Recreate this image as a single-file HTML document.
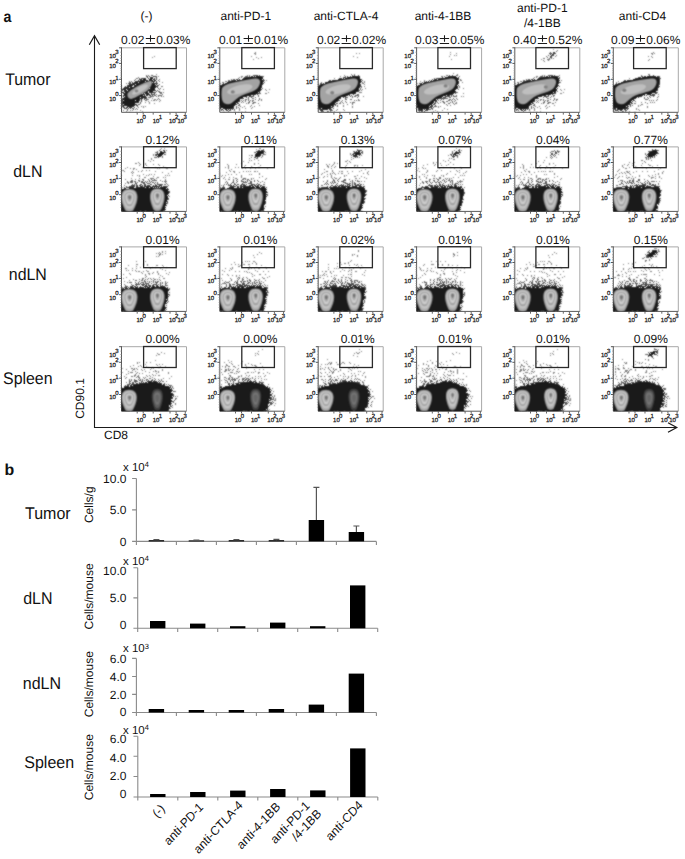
<!DOCTYPE html><html><head><meta charset="utf-8"><style>html,body{margin:0;padding:0;background:#fff;}svg{display:block}</style></head><body>
<svg width="685" height="859" viewBox="0 0 685 859" font-family='"Liberation Sans", sans-serif' text-rendering="geometricPrecision">
<defs>
<filter id="dA" x="-8" y="-8" width="81" height="81" filterUnits="userSpaceOnUse" color-interpolation-filters="sRGB">
<feGaussianBlur in="SourceAlpha" stdDeviation="1.2" result="d"/>
<feTurbulence type="fractalNoise" baseFrequency="1.7" numOctaves="2" seed="7" result="t"/>
<feColorMatrix in="t" type="matrix" values="0 0 0 0 0 0 0 0 0 0 0 0 0 0 0 1 0 0 0 0" result="n0"/>
<feComponentTransfer in="n0" result="n"><feFuncA type="table" tableValues="0.0 0.0 0.0 0.0001 0.0001 0.0003 0.0006 0.0012 0.0023 0.0042 0.0074 0.0126 0.0205 0.032 0.048 0.0693 0.0961 0.1286 0.1659 0.207 0.25 0.293 0.3341 0.3714 0.4039 0.4307 0.452 0.468 0.4795 0.4874 0.4926 0.4958 0.4977 0.4988 0.4994 0.4997 0.4999 0.4999 0.5 0.5 0.5"/></feComponentTransfer>
<feComposite in="d" in2="n" operator="arithmetic" k2="1" k3="-1" result="df"/>
<feComponentTransfer in="df" result="dots0"><feFuncA type="discrete" tableValues="0 1 1 1 1 1 1 1 1 1 1 1 1 1 1 1 1 1 1 1 1 1 1 1 1 1 1 1 1 1 1 1 1 1 1 1 1 1 1 1"/></feComponentTransfer>
<feComponentTransfer in="d" result="g"><feFuncA type="table" tableValues="0.5 0.55 0.6 0.667 0.733 0.8 0.85 0.9 0.95 0.975 1.0 1.0 1.0 1.0 1.0 1.0 1.0 1.0 1.0 1.0 1.0"/></feComponentTransfer>
<feComposite in="g" in2="dots0" operator="in" result="dots"/>
<feColorMatrix in="dots" type="matrix" values="0 0 0 0 0.1 0 0 0 0 0.1 0 0 0 0 0.1 0 0 0 1 0" result="dk"/>
<feConvolveMatrix in="dk" order="3" kernelMatrix="1 2 1 2 8 2 1 2 1" divisor="20" edgeMode="none"/>
</filter>
<filter id="dB" x="-8" y="-8" width="81" height="81" filterUnits="userSpaceOnUse" color-interpolation-filters="sRGB">
<feGaussianBlur in="SourceAlpha" stdDeviation="1.2" result="d"/>
<feTurbulence type="fractalNoise" baseFrequency="1.7" numOctaves="2" seed="13" result="t"/>
<feColorMatrix in="t" type="matrix" values="0 0 0 0 0 0 0 0 0 0 0 0 0 0 0 1 0 0 0 0" result="n0"/>
<feComponentTransfer in="n0" result="n"><feFuncA type="table" tableValues="0.0 0.0 0.0 0.0001 0.0001 0.0003 0.0006 0.0012 0.0023 0.0042 0.0074 0.0126 0.0205 0.032 0.048 0.0693 0.0961 0.1286 0.1659 0.207 0.25 0.293 0.3341 0.3714 0.4039 0.4307 0.452 0.468 0.4795 0.4874 0.4926 0.4958 0.4977 0.4988 0.4994 0.4997 0.4999 0.4999 0.5 0.5 0.5"/></feComponentTransfer>
<feComposite in="d" in2="n" operator="arithmetic" k2="1" k3="-1" result="df"/>
<feComponentTransfer in="df" result="dots0"><feFuncA type="discrete" tableValues="0 1 1 1 1 1 1 1 1 1 1 1 1 1 1 1 1 1 1 1 1 1 1 1 1 1 1 1 1 1 1 1 1 1 1 1 1 1 1 1"/></feComponentTransfer>
<feComponentTransfer in="d" result="g"><feFuncA type="table" tableValues="0.5 0.55 0.6 0.667 0.733 0.8 0.85 0.9 0.95 0.975 1.0 1.0 1.0 1.0 1.0 1.0 1.0 1.0 1.0 1.0 1.0"/></feComponentTransfer>
<feComposite in="g" in2="dots0" operator="in" result="dots"/>
<feColorMatrix in="dots" type="matrix" values="0 0 0 0 0.1 0 0 0 0 0.1 0 0 0 0 0.1 0 0 0 1 0" result="dk"/>
<feConvolveMatrix in="dk" order="3" kernelMatrix="1 2 1 2 8 2 1 2 1" divisor="20" edgeMode="none"/>
</filter>
<filter id="dC" x="-8" y="-8" width="81" height="81" filterUnits="userSpaceOnUse" color-interpolation-filters="sRGB">
<feGaussianBlur in="SourceAlpha" stdDeviation="1.2" result="d"/>
<feTurbulence type="fractalNoise" baseFrequency="1.7" numOctaves="2" seed="29" result="t"/>
<feColorMatrix in="t" type="matrix" values="0 0 0 0 0 0 0 0 0 0 0 0 0 0 0 1 0 0 0 0" result="n0"/>
<feComponentTransfer in="n0" result="n"><feFuncA type="table" tableValues="0.0 0.0 0.0 0.0001 0.0001 0.0003 0.0006 0.0012 0.0023 0.0042 0.0074 0.0126 0.0205 0.032 0.048 0.0693 0.0961 0.1286 0.1659 0.207 0.25 0.293 0.3341 0.3714 0.4039 0.4307 0.452 0.468 0.4795 0.4874 0.4926 0.4958 0.4977 0.4988 0.4994 0.4997 0.4999 0.4999 0.5 0.5 0.5"/></feComponentTransfer>
<feComposite in="d" in2="n" operator="arithmetic" k2="1" k3="-1" result="df"/>
<feComponentTransfer in="df" result="dots0"><feFuncA type="discrete" tableValues="0 1 1 1 1 1 1 1 1 1 1 1 1 1 1 1 1 1 1 1 1 1 1 1 1 1 1 1 1 1 1 1 1 1 1 1 1 1 1 1"/></feComponentTransfer>
<feComponentTransfer in="d" result="g"><feFuncA type="table" tableValues="0.5 0.55 0.6 0.667 0.733 0.8 0.85 0.9 0.95 0.975 1.0 1.0 1.0 1.0 1.0 1.0 1.0 1.0 1.0 1.0 1.0"/></feComponentTransfer>
<feComposite in="g" in2="dots0" operator="in" result="dots"/>
<feColorMatrix in="dots" type="matrix" values="0 0 0 0 0.1 0 0 0 0 0.1 0 0 0 0 0.1 0 0 0 1 0" result="dk"/>
<feConvolveMatrix in="dk" order="3" kernelMatrix="1 2 1 2 8 2 1 2 1" divisor="20" edgeMode="none"/>
</filter>
<filter id="soft" x="-8" y="-8" width="81" height="81" filterUnits="userSpaceOnUse" color-interpolation-filters="sRGB"><feConvolveMatrix order="3" kernelMatrix="1 2 1 2 6 2 1 2 1" divisor="18" edgeMode="none"/></filter>
<clipPath id="pc"><rect x="0" y="0" width="65" height="65"/></clipPath>
</defs>
<rect width="685" height="859" fill="#fff"/>
<text transform="translate(3.5,21.5) scale(1,1.12)" font-size="14.2" font-weight="bold" fill="#111">a</text>
<text transform="translate(27.8,84.7) scale(1,1.06)" font-size="15.9" text-anchor="middle" fill="#111">Tumor</text>
<text transform="translate(27.8,177.2) scale(1,1.06)" font-size="15.9" text-anchor="middle" fill="#111">dLN</text>
<text transform="translate(27.8,280.4) scale(1,1.06)" font-size="15.9" text-anchor="middle" fill="#111">ndLN</text>
<text transform="translate(27.8,383.6) scale(1,1.06)" font-size="15.9" text-anchor="middle" fill="#111">Spleen</text>
<text x="146.4" y="20" font-size="12" text-anchor="middle" fill="#111">(-)</text>
<text x="245.8" y="20" font-size="12" text-anchor="middle" fill="#111">anti-PD-1</text>
<text x="346" y="20" font-size="12" text-anchor="middle" fill="#111">anti-CTLA-4</text>
<text x="443" y="20" font-size="12" text-anchor="middle" fill="#111">anti-4-1BB</text>
<text x="642.5" y="20" font-size="12" text-anchor="middle" fill="#111">anti-CD4</text>
<text x="542.3" y="12.4" font-size="12" text-anchor="middle" fill="#111">anti-PD-1</text>
<text x="542.3" y="26.6" font-size="12" text-anchor="middle" fill="#111">/4-1BB</text>
<path d="M94.5,35.8V427.5H676.5" fill="none" stroke="#1a1a1a" stroke-width="1.1"/>
<path d="M89.3,44.8L94.5,35.8L99.7,44.8" fill="none" stroke="#1a1a1a" stroke-width="1.2"/>
<path d="M668,422.7L676.8,427.5L668,432.3" fill="none" stroke="#1a1a1a" stroke-width="1.2"/>
<text transform="translate(83.9,398.5) rotate(-90)" font-size="12" text-anchor="middle" fill="#111">CD90.1</text>
<text x="104" y="438.6" font-size="12" fill="#111">CD8</text>
<g transform="translate(121.5,47.3)">
<path d="M0,0.5H65V65" fill="none" stroke="#a8a8a8" stroke-width="1"/>
<path d="M0,0V65H65" fill="none" stroke="#5a5a5a" stroke-width="1"/>
<path d="M-2.4,0.5H0M-2.4,16.1H0M-2.4,32H0M-2.4,48.3H0" stroke="#555" stroke-width="1"/>
<path d="M-1.3,4.9H0M-1.3,8.3H0M-1.3,11.0H0M-1.3,13.4H0M-1.3,18.8H0M-1.3,21.0H0M-1.3,23.0H0M-1.3,24.9H0M-1.3,26.7H0M-1.3,28.5H0M-1.3,30.2H0M-1.3,34.7H0M-1.3,37.0H0M-1.3,39.0H0M-1.3,40.9H0M-1.3,42.7H0M-1.3,44.4H0M-1.3,46.0H0M-1.3,51H0M-1.3,53.5H0M-1.3,56H0M-1.3,58.5H0M-1.3,61H0" stroke="#999" stroke-width="0.7"/>
<path d="M15.7,65V67.3M21.7,65V67.3M31.7,65V67.3M48.5,65V67.3M54.6,65V67.3M63.8,65V67.3" stroke="#666" stroke-width="1"/>
<text x="-12.3" y="10.7" font-size="6" fill="#1a1a1a" stroke="#1a1a1a" stroke-width="0.25">10</text><text x="-6.2" y="6.3999999999999995" font-size="6" fill="#1a1a1a" stroke="#1a1a1a" stroke-width="0.25">3</text>
<text x="-12.3" y="20.5" font-size="6" fill="#1a1a1a" stroke="#1a1a1a" stroke-width="0.25">10</text><text x="-6.2" y="16.2" font-size="6" fill="#1a1a1a" stroke="#1a1a1a" stroke-width="0.25">2</text>
<text x="-12.3" y="37" font-size="6" fill="#1a1a1a" stroke="#1a1a1a" stroke-width="0.25">10</text><text x="-6.2" y="32.7" font-size="6" fill="#1a1a1a" stroke="#1a1a1a" stroke-width="0.25">1</text>
<text x="-12.3" y="53.3" font-size="6" fill="#1a1a1a" stroke="#1a1a1a" stroke-width="0.25">10</text><text x="-6.2" y="49.0" font-size="6" fill="#1a1a1a" stroke="#1a1a1a" stroke-width="0.25">0</text>
<text x="14.9" y="75.8" font-size="6" fill="#1a1a1a" stroke="#1a1a1a" stroke-width="0.25">10</text><text x="20.9" y="71.4" font-size="6" fill="#1a1a1a" stroke="#1a1a1a" stroke-width="0.25">0</text>
<text x="31.2" y="75.8" font-size="6" fill="#1a1a1a" stroke="#1a1a1a" stroke-width="0.25">10</text><text x="37.2" y="71.4" font-size="6" fill="#1a1a1a" stroke="#1a1a1a" stroke-width="0.25">1</text>
<text x="47.5" y="75.8" font-size="6" fill="#1a1a1a" stroke="#1a1a1a" stroke-width="0.25">10</text><text x="53.5" y="71.4" font-size="6" fill="#1a1a1a" stroke="#1a1a1a" stroke-width="0.25">2</text>
<text x="55.9" y="75.8" font-size="6" fill="#1a1a1a" stroke="#1a1a1a" stroke-width="0.25">10</text><text x="61.9" y="71.4" font-size="6" fill="#1a1a1a" stroke="#1a1a1a" stroke-width="0.25">3</text>
</g>
<g transform="translate(121.5,47.3)"><g clip-path="url(#pc)"><g filter="url(#dA)">
<ellipse cx="22" cy="48" rx="25" ry="15" transform="rotate(-38 22 48)" fill-opacity="0.07"/><ellipse cx="9" cy="57" rx="11" ry="7" transform="rotate(-30 9 57)" fill-opacity="0.1"/><ellipse cx="37" cy="45" rx="6" ry="9" transform="rotate(-30 37 45)" fill-opacity="0.1"/><path d="M-2,39 C3,36.5 7,34 11,32 C17,29.5 23,28 28,27 C32,26 36,25.5 37.3,29 C38.5,33 37.5,41 34.5,46 C32,49.5 28.5,51 26,52.5 C22.5,54.5 20,56.5 17.5,58 C14.5,59.8 11.5,62 8.5,62 C5,62 0,61 -2,60 Z" fill-opacity="0.1"/><path d="M-1,41.5 C3,39 7,36.5 11.6,34.5 C17,32 23,30.5 28,29.3 C31,28.5 33.5,27.8 34.8,30 C36,33 35,40 32.7,44.4 C30.5,47.5 27.5,48.8 24.8,50.3 C21.5,52.3 19.5,54.3 16.9,55.6 C14,57.2 11.5,59.5 9,59.5 C5,59.5 1,58 -1,56 Z" fill-opacity="0.33"/><ellipse cx="6" cy="58" rx="8" ry="5" transform="rotate(-20 6 58)" fill-opacity="0.08"/><ellipse cx="34" cy="11" rx="6" ry="5" fill-opacity="0.035"/><path d="M6,46.5 C8,43.5 13,40.5 18.2,37.8 C22,35.8 25.5,34.2 28.1,33.6 C30,33.3 31,34.5 30.3,36.8 C29.5,39.5 28,41.2 26.8,42.4 C24,45 21,46.3 18.2,47.7 C15,49.3 12.5,51.2 9.7,51.6 C7.5,51.8 5.5,49.5 6,46.5 Z" fill-opacity="0.2"/><ellipse cx="18.5" cy="42.3" rx="9" ry="2.6" transform="rotate(-30 18.5 42.3)" fill-opacity="0.2"/>
</g><g filter="url(#soft)">
<path d="M6,46.5 C8,43.5 13,40.5 18.2,37.8 C22,35.8 25.5,34.2 28.1,33.6 C30,33.3 31,34.5 30.3,36.8 C29.5,39.5 28,41.2 26.8,42.4 C24,45 21,46.3 18.2,47.7 C15,49.3 12.5,51.2 9.7,51.6 C7.5,51.8 5.5,49.5 6,46.5 Z" fill="#a3a3a3"/><ellipse cx="18.5" cy="42.3" rx="9" ry="2.6" transform="rotate(-30 18.5 42.3)" fill="#c2c2c2"/><ellipse cx="15" cy="43.7" rx="1.8" ry="1.4" fill="#858585"/>
</g></g>
<rect x="22.10" y="0.3" width="32.6" height="21" fill="none" stroke="#2a2a2a" stroke-width="1.3"/>
</g>
<text x="121.1" y="44.4" font-size="12" fill="#111">0.02</text>
<path d="M145.80,38.5H155.10M150.5,35.20V41.80M145.80,43.5H155.10" stroke="#1a1a1a" stroke-width="1.05" fill="none"/>
<text x="156.3" y="44.4" font-size="12" fill="#111">0.03%</text>
<g transform="translate(219.8,47.3)">
<path d="M0,0.5H65V65" fill="none" stroke="#a8a8a8" stroke-width="1"/>
<path d="M0,0V65H65" fill="none" stroke="#5a5a5a" stroke-width="1"/>
<path d="M-2.4,0.5H0M-2.4,16.1H0M-2.4,32H0M-2.4,48.3H0" stroke="#555" stroke-width="1"/>
<path d="M-1.3,4.9H0M-1.3,8.3H0M-1.3,11.0H0M-1.3,13.4H0M-1.3,18.8H0M-1.3,21.0H0M-1.3,23.0H0M-1.3,24.9H0M-1.3,26.7H0M-1.3,28.5H0M-1.3,30.2H0M-1.3,34.7H0M-1.3,37.0H0M-1.3,39.0H0M-1.3,40.9H0M-1.3,42.7H0M-1.3,44.4H0M-1.3,46.0H0M-1.3,51H0M-1.3,53.5H0M-1.3,56H0M-1.3,58.5H0M-1.3,61H0" stroke="#999" stroke-width="0.7"/>
<path d="M15.7,65V67.3M21.7,65V67.3M31.7,65V67.3M48.5,65V67.3M54.6,65V67.3M63.8,65V67.3" stroke="#666" stroke-width="1"/>
<text x="-12.3" y="10.7" font-size="6" fill="#1a1a1a" stroke="#1a1a1a" stroke-width="0.25">10</text><text x="-6.2" y="6.3999999999999995" font-size="6" fill="#1a1a1a" stroke="#1a1a1a" stroke-width="0.25">3</text>
<text x="-12.3" y="20.5" font-size="6" fill="#1a1a1a" stroke="#1a1a1a" stroke-width="0.25">10</text><text x="-6.2" y="16.2" font-size="6" fill="#1a1a1a" stroke="#1a1a1a" stroke-width="0.25">2</text>
<text x="-12.3" y="37" font-size="6" fill="#1a1a1a" stroke="#1a1a1a" stroke-width="0.25">10</text><text x="-6.2" y="32.7" font-size="6" fill="#1a1a1a" stroke="#1a1a1a" stroke-width="0.25">1</text>
<text x="-12.3" y="53.3" font-size="6" fill="#1a1a1a" stroke="#1a1a1a" stroke-width="0.25">10</text><text x="-6.2" y="49.0" font-size="6" fill="#1a1a1a" stroke="#1a1a1a" stroke-width="0.25">0</text>
<text x="14.9" y="75.8" font-size="6" fill="#1a1a1a" stroke="#1a1a1a" stroke-width="0.25">10</text><text x="20.9" y="71.4" font-size="6" fill="#1a1a1a" stroke="#1a1a1a" stroke-width="0.25">0</text>
<text x="31.2" y="75.8" font-size="6" fill="#1a1a1a" stroke="#1a1a1a" stroke-width="0.25">10</text><text x="37.2" y="71.4" font-size="6" fill="#1a1a1a" stroke="#1a1a1a" stroke-width="0.25">1</text>
<text x="47.5" y="75.8" font-size="6" fill="#1a1a1a" stroke="#1a1a1a" stroke-width="0.25">10</text><text x="53.5" y="71.4" font-size="6" fill="#1a1a1a" stroke="#1a1a1a" stroke-width="0.25">2</text>
<text x="55.9" y="75.8" font-size="6" fill="#1a1a1a" stroke="#1a1a1a" stroke-width="0.25">10</text><text x="61.9" y="71.4" font-size="6" fill="#1a1a1a" stroke="#1a1a1a" stroke-width="0.25">3</text>
</g>
<g transform="translate(219.8,47.3)"><g clip-path="url(#pc)"><g filter="url(#dB)">
<ellipse cx="24" cy="48" rx="28" ry="17" transform="rotate(-28 24 48)" fill-opacity="0.07"/><ellipse cx="10" cy="58" rx="12" ry="7" transform="rotate(-20 10 58)" fill-opacity="0.16"/><ellipse cx="34" cy="52" rx="9" ry="6" transform="rotate(-20 34 52)" fill-opacity="0.1"/><path d="M-2,37 C2,35 5,33.5 8,32.8 C12,31.5 16.5,30.8 21,30 C26,29 30,27.6 34,27 C37,26.6 42,26.3 43.5,27.5 C45.5,29.5 45.5,33.5 44.5,36.5 C43.5,40.5 42.5,44 41,46.5 C38,48.8 34,49 31,49.7 C27,50.7 24.3,52 22,53.3 C19.8,54.7 18.5,56.2 17,57.7 C14.5,60 12.5,62.5 10,63 C6,64 2,62.5 -2,61 Z" fill-opacity="0.1"/><path d="M-1,39.5 C2,37.5 5,36 8,35.1 C12,33.8 16.5,33 21.1,32.2 C26,31.2 30,29.8 34.2,29.3 C37,28.9 41,28.7 42,29.5 C43.5,31 43.5,33.5 42.5,35.8 C41.5,39.5 41,42.5 39.6,44.6 C37,46.5 34,46.8 30.6,47.5 C27,48.5 24,49.8 21.1,51.2 C19,52.5 17.5,54 16,55.5 C14,57.5 12,60 10.1,60.7 C7,61.8 3,59.5 -1,58 Z" fill-opacity="0.6"/><ellipse cx="7" cy="59" rx="8" ry="5" transform="rotate(-20 7 59)" fill-opacity="0.15"/><ellipse cx="37" cy="9" rx="7" ry="5" transform="rotate(-30 37 9)" fill-opacity="0.05"/><path d="M2,42 C2.5,38.5 8,36.3 14,35.2 C20,34 26,32.5 35,31.3 C38.5,30.8 40.5,32.3 40.3,35 C40,38 38.5,40.8 35.5,42.8 C32,44.8 27,46.3 22,48.3 C18,50 15,53.3 12,55.8 C9,57.8 4.5,57.3 3,54.3 C1.5,51 1.5,46 2,42 Z" fill-opacity="0.2"/><ellipse cx="20" cy="42" rx="13" ry="4.2" transform="rotate(-14 20 42)" fill-opacity="0.2"/>
</g><g filter="url(#soft)">
<path d="M2,42 C2.5,38.5 8,36.3 14,35.2 C20,34 26,32.5 35,31.3 C38.5,30.8 40.5,32.3 40.3,35 C40,38 38.5,40.8 35.5,42.8 C32,44.8 27,46.3 22,48.3 C18,50 15,53.3 12,55.8 C9,57.8 4.5,57.3 3,54.3 C1.5,51 1.5,46 2,42 Z" fill="#a3a3a3"/><ellipse cx="20" cy="42" rx="13" ry="4.2" transform="rotate(-14 20 42)" fill="#bfbfbf"/><ellipse cx="13" cy="44.6" rx="2.0" ry="1.7" fill="#808080"/>
</g></g>
<rect x="22.00" y="0.3" width="32.6" height="21" fill="none" stroke="#2a2a2a" stroke-width="1.3"/>
</g>
<text x="218.9" y="44.4" font-size="12" fill="#111">0.01</text>
<path d="M243.60,38.5H252.90M248.5,35.20V41.80M243.60,43.5H252.90" stroke="#1a1a1a" stroke-width="1.05" fill="none"/>
<text x="254.10000000000002" y="44.4" font-size="12" fill="#111">0.01%</text>
<g transform="translate(318.2,47.3)">
<path d="M0,0.5H65V65" fill="none" stroke="#a8a8a8" stroke-width="1"/>
<path d="M0,0V65H65" fill="none" stroke="#5a5a5a" stroke-width="1"/>
<path d="M-2.4,0.5H0M-2.4,16.1H0M-2.4,32H0M-2.4,48.3H0" stroke="#555" stroke-width="1"/>
<path d="M-1.3,4.9H0M-1.3,8.3H0M-1.3,11.0H0M-1.3,13.4H0M-1.3,18.8H0M-1.3,21.0H0M-1.3,23.0H0M-1.3,24.9H0M-1.3,26.7H0M-1.3,28.5H0M-1.3,30.2H0M-1.3,34.7H0M-1.3,37.0H0M-1.3,39.0H0M-1.3,40.9H0M-1.3,42.7H0M-1.3,44.4H0M-1.3,46.0H0M-1.3,51H0M-1.3,53.5H0M-1.3,56H0M-1.3,58.5H0M-1.3,61H0" stroke="#999" stroke-width="0.7"/>
<path d="M15.7,65V67.3M21.7,65V67.3M31.7,65V67.3M48.5,65V67.3M54.6,65V67.3M63.8,65V67.3" stroke="#666" stroke-width="1"/>
<text x="-12.3" y="10.7" font-size="6" fill="#1a1a1a" stroke="#1a1a1a" stroke-width="0.25">10</text><text x="-6.2" y="6.3999999999999995" font-size="6" fill="#1a1a1a" stroke="#1a1a1a" stroke-width="0.25">3</text>
<text x="-12.3" y="20.5" font-size="6" fill="#1a1a1a" stroke="#1a1a1a" stroke-width="0.25">10</text><text x="-6.2" y="16.2" font-size="6" fill="#1a1a1a" stroke="#1a1a1a" stroke-width="0.25">2</text>
<text x="-12.3" y="37" font-size="6" fill="#1a1a1a" stroke="#1a1a1a" stroke-width="0.25">10</text><text x="-6.2" y="32.7" font-size="6" fill="#1a1a1a" stroke="#1a1a1a" stroke-width="0.25">1</text>
<text x="-12.3" y="53.3" font-size="6" fill="#1a1a1a" stroke="#1a1a1a" stroke-width="0.25">10</text><text x="-6.2" y="49.0" font-size="6" fill="#1a1a1a" stroke="#1a1a1a" stroke-width="0.25">0</text>
<text x="14.9" y="75.8" font-size="6" fill="#1a1a1a" stroke="#1a1a1a" stroke-width="0.25">10</text><text x="20.9" y="71.4" font-size="6" fill="#1a1a1a" stroke="#1a1a1a" stroke-width="0.25">0</text>
<text x="31.2" y="75.8" font-size="6" fill="#1a1a1a" stroke="#1a1a1a" stroke-width="0.25">10</text><text x="37.2" y="71.4" font-size="6" fill="#1a1a1a" stroke="#1a1a1a" stroke-width="0.25">1</text>
<text x="47.5" y="75.8" font-size="6" fill="#1a1a1a" stroke="#1a1a1a" stroke-width="0.25">10</text><text x="53.5" y="71.4" font-size="6" fill="#1a1a1a" stroke="#1a1a1a" stroke-width="0.25">2</text>
<text x="55.9" y="75.8" font-size="6" fill="#1a1a1a" stroke="#1a1a1a" stroke-width="0.25">10</text><text x="61.9" y="71.4" font-size="6" fill="#1a1a1a" stroke="#1a1a1a" stroke-width="0.25">3</text>
</g>
<g transform="translate(318.2,47.3)"><g clip-path="url(#pc)"><g filter="url(#dC)">
<ellipse cx="24" cy="48" rx="28" ry="17" transform="rotate(-28 24 48)" fill-opacity="0.07"/><ellipse cx="10" cy="58" rx="12" ry="7" transform="rotate(-20 10 58)" fill-opacity="0.16"/><ellipse cx="33.5" cy="52" rx="9" ry="6" transform="rotate(-20 33.5 52)" fill-opacity="0.1"/><path d="M-2,37 C2,35 5,33.5 8,32.8 C12,31.5 16.5,30.8 21,30 C26,29 30,27.6 34,27 C37,26.6 41.5,26.3 43.0,27.5 C45.0,29.5 45.0,33.5 44.0,36.5 C43.0,40.5 42.0,44 40.5,46.5 C37.5,48.8 33.5,49 31,49.7 C27,50.7 24.3,52 22,53.3 C19.8,54.7 18.5,56.2 17,57.7 C14.5,60 12.5,62.5 10,63 C6,64 2,62.5 -2,61 Z" fill-opacity="0.1"/><path d="M-1,39.5 C2,37.5 5,36 8,35.1 C12,33.8 16.5,33 21.1,32.2 C26,31.2 30,29.8 34.2,29.3 C37,28.9 40.5,28.7 41.5,29.5 C43.0,31 43.0,33.5 42.0,35.8 C41.0,39.5 40.5,42.5 39.1,44.6 C36.5,46.5 33.5,46.8 30.6,47.5 C27,48.5 24,49.8 21.1,51.2 C19,52.5 17.5,54 16,55.5 C14,57.5 12,60 10.1,60.7 C7,61.8 3,59.5 -1,58 Z" fill-opacity="0.6"/><ellipse cx="7" cy="59" rx="8" ry="5" transform="rotate(-20 7 59)" fill-opacity="0.15"/><ellipse cx="37" cy="9" rx="7" ry="5" transform="rotate(-30 37 9)" fill-opacity="0.05"/><path d="M2,42 C2.5,38.5 8,36.3 14,35.2 C20,34 26,32.5 34.5,31.3 C38.0,30.8 40.0,32.3 39.8,35 C39.5,38 38.0,40.8 35.0,42.8 C31.5,44.8 27,46.3 22,48.3 C18,50 15,53.3 12,55.8 C9,57.8 4.5,57.3 3,54.3 C1.5,51 1.5,46 2,42 Z" fill-opacity="0.2"/><ellipse cx="20" cy="42" rx="13" ry="4.2" transform="rotate(-14 20 42)" fill-opacity="0.2"/>
</g><g filter="url(#soft)">
<path d="M2,42 C2.5,38.5 8,36.3 14,35.2 C20,34 26,32.5 34.5,31.3 C38.0,30.8 40.0,32.3 39.8,35 C39.5,38 38.0,40.8 35.0,42.8 C31.5,44.8 27,46.3 22,48.3 C18,50 15,53.3 12,55.8 C9,57.8 4.5,57.3 3,54.3 C1.5,51 1.5,46 2,42 Z" fill="#a3a3a3"/><ellipse cx="20" cy="42" rx="13" ry="4.2" transform="rotate(-14 20 42)" fill="#bfbfbf"/><ellipse cx="14" cy="45.5" rx="2.0" ry="1.7" fill="#808080"/>
</g></g>
<rect x="21.60" y="0.3" width="32.6" height="21" fill="none" stroke="#2a2a2a" stroke-width="1.3"/>
</g>
<text x="316.9" y="44.4" font-size="12" fill="#111">0.02</text>
<path d="M341.60,38.5H350.90M346.5,35.20V41.80M341.60,43.5H350.90" stroke="#1a1a1a" stroke-width="1.05" fill="none"/>
<text x="352.09999999999997" y="44.4" font-size="12" fill="#111">0.02%</text>
<g transform="translate(416.6,47.3)">
<path d="M0,0.5H65V65" fill="none" stroke="#a8a8a8" stroke-width="1"/>
<path d="M0,0V65H65" fill="none" stroke="#5a5a5a" stroke-width="1"/>
<path d="M-2.4,0.5H0M-2.4,16.1H0M-2.4,32H0M-2.4,48.3H0" stroke="#555" stroke-width="1"/>
<path d="M-1.3,4.9H0M-1.3,8.3H0M-1.3,11.0H0M-1.3,13.4H0M-1.3,18.8H0M-1.3,21.0H0M-1.3,23.0H0M-1.3,24.9H0M-1.3,26.7H0M-1.3,28.5H0M-1.3,30.2H0M-1.3,34.7H0M-1.3,37.0H0M-1.3,39.0H0M-1.3,40.9H0M-1.3,42.7H0M-1.3,44.4H0M-1.3,46.0H0M-1.3,51H0M-1.3,53.5H0M-1.3,56H0M-1.3,58.5H0M-1.3,61H0" stroke="#999" stroke-width="0.7"/>
<path d="M15.7,65V67.3M21.7,65V67.3M31.7,65V67.3M48.5,65V67.3M54.6,65V67.3M63.8,65V67.3" stroke="#666" stroke-width="1"/>
<text x="-12.3" y="10.7" font-size="6" fill="#1a1a1a" stroke="#1a1a1a" stroke-width="0.25">10</text><text x="-6.2" y="6.3999999999999995" font-size="6" fill="#1a1a1a" stroke="#1a1a1a" stroke-width="0.25">3</text>
<text x="-12.3" y="20.5" font-size="6" fill="#1a1a1a" stroke="#1a1a1a" stroke-width="0.25">10</text><text x="-6.2" y="16.2" font-size="6" fill="#1a1a1a" stroke="#1a1a1a" stroke-width="0.25">2</text>
<text x="-12.3" y="37" font-size="6" fill="#1a1a1a" stroke="#1a1a1a" stroke-width="0.25">10</text><text x="-6.2" y="32.7" font-size="6" fill="#1a1a1a" stroke="#1a1a1a" stroke-width="0.25">1</text>
<text x="-12.3" y="53.3" font-size="6" fill="#1a1a1a" stroke="#1a1a1a" stroke-width="0.25">10</text><text x="-6.2" y="49.0" font-size="6" fill="#1a1a1a" stroke="#1a1a1a" stroke-width="0.25">0</text>
<text x="14.9" y="75.8" font-size="6" fill="#1a1a1a" stroke="#1a1a1a" stroke-width="0.25">10</text><text x="20.9" y="71.4" font-size="6" fill="#1a1a1a" stroke="#1a1a1a" stroke-width="0.25">0</text>
<text x="31.2" y="75.8" font-size="6" fill="#1a1a1a" stroke="#1a1a1a" stroke-width="0.25">10</text><text x="37.2" y="71.4" font-size="6" fill="#1a1a1a" stroke="#1a1a1a" stroke-width="0.25">1</text>
<text x="47.5" y="75.8" font-size="6" fill="#1a1a1a" stroke="#1a1a1a" stroke-width="0.25">10</text><text x="53.5" y="71.4" font-size="6" fill="#1a1a1a" stroke="#1a1a1a" stroke-width="0.25">2</text>
<text x="55.9" y="75.8" font-size="6" fill="#1a1a1a" stroke="#1a1a1a" stroke-width="0.25">10</text><text x="61.9" y="71.4" font-size="6" fill="#1a1a1a" stroke="#1a1a1a" stroke-width="0.25">3</text>
</g>
<g transform="translate(416.6,47.3)"><g clip-path="url(#pc)"><g filter="url(#dA)">
<ellipse cx="24" cy="48" rx="28" ry="17" transform="rotate(-28 24 48)" fill-opacity="0.07"/><ellipse cx="10" cy="58" rx="12" ry="7" transform="rotate(-20 10 58)" fill-opacity="0.16"/><ellipse cx="33" cy="52" rx="9" ry="6" transform="rotate(-20 33 52)" fill-opacity="0.1"/><path d="M-2,37 C2,35 5,33.5 8,32.8 C12,31.5 16.5,30.8 21,30 C26,29 30,27.6 34,27 C37,26.6 41,26.3 42.5,27.5 C44.5,29.5 44.5,33.5 43.5,36.5 C42.5,40.5 41.5,44 40,46.5 C37,48.8 33,49 31,49.7 C27,50.7 24.3,52 22,53.3 C19.8,54.7 18.5,56.2 17,57.7 C14.5,60 12.5,62.5 10,63 C6,64 2,62.5 -2,61 Z" fill-opacity="0.1"/><path d="M-1,39.5 C2,37.5 5,36 8,35.1 C12,33.8 16.5,33 21.1,32.2 C26,31.2 30,29.8 34.2,29.3 C37,28.9 40,28.7 41,29.5 C42.5,31 42.5,33.5 41.5,35.8 C40.5,39.5 40,42.5 38.6,44.6 C36,46.5 33,46.8 30.6,47.5 C27,48.5 24,49.8 21.1,51.2 C19,52.5 17.5,54 16,55.5 C14,57.5 12,60 10.1,60.7 C7,61.8 3,59.5 -1,58 Z" fill-opacity="0.6"/><ellipse cx="7" cy="59" rx="8" ry="5" transform="rotate(-20 7 59)" fill-opacity="0.15"/><ellipse cx="37" cy="9" rx="7" ry="5" transform="rotate(-30 37 9)" fill-opacity="0.08"/><path d="M2,42 C2.5,38.5 8,36.3 14,35.2 C20,34 26,32.5 34,31.3 C37.5,30.8 39.5,32.3 39.3,35 C39,38 37.5,40.8 34.5,42.8 C31,44.8 27,46.3 22,48.3 C18,50 15,53.3 12,55.8 C9,57.8 4.5,57.3 3,54.3 C1.5,51 1.5,46 2,42 Z" fill-opacity="0.2"/><ellipse cx="20" cy="42" rx="13" ry="4.2" transform="rotate(-14 20 42)" fill-opacity="0.2"/>
</g><g filter="url(#soft)">
<path d="M2,42 C2.5,38.5 8,36.3 14,35.2 C20,34 26,32.5 34,31.3 C37.5,30.8 39.5,32.3 39.3,35 C39,38 37.5,40.8 34.5,42.8 C31,44.8 27,46.3 22,48.3 C18,50 15,53.3 12,55.8 C9,57.8 4.5,57.3 3,54.3 C1.5,51 1.5,46 2,42 Z" fill="#a3a3a3"/><ellipse cx="20" cy="42" rx="13" ry="4.2" transform="rotate(-14 20 42)" fill="#bfbfbf"/><ellipse cx="29" cy="38.6" rx="2.0" ry="1.7" fill="#808080"/>
</g></g>
<rect x="21.30" y="0.3" width="32.6" height="21" fill="none" stroke="#2a2a2a" stroke-width="1.3"/>
</g>
<text x="415.1" y="44.4" font-size="12" fill="#111">0.03</text>
<path d="M439.80,38.5H449.10M444.5,35.20V41.80M439.80,43.5H449.10" stroke="#1a1a1a" stroke-width="1.05" fill="none"/>
<text x="450.3" y="44.4" font-size="12" fill="#111">0.05%</text>
<g transform="translate(514.8,47.3)">
<path d="M0,0.5H65V65" fill="none" stroke="#a8a8a8" stroke-width="1"/>
<path d="M0,0V65H65" fill="none" stroke="#5a5a5a" stroke-width="1"/>
<path d="M-2.4,0.5H0M-2.4,16.1H0M-2.4,32H0M-2.4,48.3H0" stroke="#555" stroke-width="1"/>
<path d="M-1.3,4.9H0M-1.3,8.3H0M-1.3,11.0H0M-1.3,13.4H0M-1.3,18.8H0M-1.3,21.0H0M-1.3,23.0H0M-1.3,24.9H0M-1.3,26.7H0M-1.3,28.5H0M-1.3,30.2H0M-1.3,34.7H0M-1.3,37.0H0M-1.3,39.0H0M-1.3,40.9H0M-1.3,42.7H0M-1.3,44.4H0M-1.3,46.0H0M-1.3,51H0M-1.3,53.5H0M-1.3,56H0M-1.3,58.5H0M-1.3,61H0" stroke="#999" stroke-width="0.7"/>
<path d="M15.7,65V67.3M21.7,65V67.3M31.7,65V67.3M48.5,65V67.3M54.6,65V67.3M63.8,65V67.3" stroke="#666" stroke-width="1"/>
<text x="-12.3" y="10.7" font-size="6" fill="#1a1a1a" stroke="#1a1a1a" stroke-width="0.25">10</text><text x="-6.2" y="6.3999999999999995" font-size="6" fill="#1a1a1a" stroke="#1a1a1a" stroke-width="0.25">3</text>
<text x="-12.3" y="20.5" font-size="6" fill="#1a1a1a" stroke="#1a1a1a" stroke-width="0.25">10</text><text x="-6.2" y="16.2" font-size="6" fill="#1a1a1a" stroke="#1a1a1a" stroke-width="0.25">2</text>
<text x="-12.3" y="37" font-size="6" fill="#1a1a1a" stroke="#1a1a1a" stroke-width="0.25">10</text><text x="-6.2" y="32.7" font-size="6" fill="#1a1a1a" stroke="#1a1a1a" stroke-width="0.25">1</text>
<text x="-12.3" y="53.3" font-size="6" fill="#1a1a1a" stroke="#1a1a1a" stroke-width="0.25">10</text><text x="-6.2" y="49.0" font-size="6" fill="#1a1a1a" stroke="#1a1a1a" stroke-width="0.25">0</text>
<text x="14.9" y="75.8" font-size="6" fill="#1a1a1a" stroke="#1a1a1a" stroke-width="0.25">10</text><text x="20.9" y="71.4" font-size="6" fill="#1a1a1a" stroke="#1a1a1a" stroke-width="0.25">0</text>
<text x="31.2" y="75.8" font-size="6" fill="#1a1a1a" stroke="#1a1a1a" stroke-width="0.25">10</text><text x="37.2" y="71.4" font-size="6" fill="#1a1a1a" stroke="#1a1a1a" stroke-width="0.25">1</text>
<text x="47.5" y="75.8" font-size="6" fill="#1a1a1a" stroke="#1a1a1a" stroke-width="0.25">10</text><text x="53.5" y="71.4" font-size="6" fill="#1a1a1a" stroke="#1a1a1a" stroke-width="0.25">2</text>
<text x="55.9" y="75.8" font-size="6" fill="#1a1a1a" stroke="#1a1a1a" stroke-width="0.25">10</text><text x="61.9" y="71.4" font-size="6" fill="#1a1a1a" stroke="#1a1a1a" stroke-width="0.25">3</text>
</g>
<g transform="translate(514.8,47.3)"><g clip-path="url(#pc)"><g filter="url(#dB)">
<ellipse cx="24" cy="48" rx="28" ry="17" transform="rotate(-28 24 48)" fill-opacity="0.07"/><ellipse cx="10" cy="58" rx="12" ry="7" transform="rotate(-20 10 58)" fill-opacity="0.16"/><ellipse cx="35" cy="52" rx="9" ry="6" transform="rotate(-20 35 52)" fill-opacity="0.1"/><path d="M-2,37 C2,35 5,33.5 8,32.8 C12,31.5 16.5,30.8 21,30 C26,29 30,27.6 34,27 C37,26.6 43,26.3 44.5,27.5 C46.5,29.5 46.5,33.5 45.5,36.5 C44.5,40.5 43.5,44 42,46.5 C39,48.8 35,49 31,49.7 C27,50.7 24.3,52 22,53.3 C19.8,54.7 18.5,56.2 17,57.7 C14.5,60 12.5,62.5 10,63 C6,64 2,62.5 -2,61 Z" fill-opacity="0.1"/><path d="M-1,39.5 C2,37.5 5,36 8,35.1 C12,33.8 16.5,33 21.1,32.2 C26,31.2 30,29.8 34.2,29.3 C37,28.9 42,28.7 43,29.5 C44.5,31 44.5,33.5 43.5,35.8 C42.5,39.5 42,42.5 40.6,44.6 C38,46.5 35,46.8 30.6,47.5 C27,48.5 24,49.8 21.1,51.2 C19,52.5 17.5,54 16,55.5 C14,57.5 12,60 10.1,60.7 C7,61.8 3,59.5 -1,58 Z" fill-opacity="0.6"/><ellipse cx="7" cy="59" rx="8" ry="5" transform="rotate(-20 7 59)" fill-opacity="0.15"/><path d="M26,14 C30,8 37,3 43,2.5 C46,4 42,9 37,12 C33,14.5 29,16 26,14 Z" fill-opacity="0.14"/><ellipse cx="37.5" cy="7" rx="5" ry="2.6" transform="rotate(-35 37.5 7)" fill-opacity="0.2"/><path d="M2,42 C2.5,38.5 8,36.3 14,35.2 C20,34 26,32.5 36,31.3 C39.5,30.8 41.5,32.3 41.3,35 C41,38 39.5,40.8 36.5,42.8 C33,44.8 27,46.3 22,48.3 C18,50 15,53.3 12,55.8 C9,57.8 4.5,57.3 3,54.3 C1.5,51 1.5,46 2,42 Z" fill-opacity="0.2"/><ellipse cx="20" cy="42" rx="13" ry="4.2" transform="rotate(-14 20 42)" fill-opacity="0.2"/>
</g><g filter="url(#soft)">
<path d="M2,42 C2.5,38.5 8,36.3 14,35.2 C20,34 26,32.5 36,31.3 C39.5,30.8 41.5,32.3 41.3,35 C41,38 39.5,40.8 36.5,42.8 C33,44.8 27,46.3 22,48.3 C18,50 15,53.3 12,55.8 C9,57.8 4.5,57.3 3,54.3 C1.5,51 1.5,46 2,42 Z" fill="#a3a3a3"/><ellipse cx="20" cy="42" rx="13" ry="4.2" transform="rotate(-14 20 42)" fill="#bfbfbf"/><ellipse cx="31" cy="39.7" rx="2.0" ry="1.7" fill="#808080"/>
</g></g>
<rect x="21.10" y="0.3" width="32.6" height="21" fill="none" stroke="#2a2a2a" stroke-width="1.3"/>
</g>
<text x="513.1" y="44.4" font-size="12" fill="#111">0.40</text>
<path d="M537.80,38.5H547.10M542.5,35.20V41.80M537.80,43.5H547.10" stroke="#1a1a1a" stroke-width="1.05" fill="none"/>
<text x="548.3000000000001" y="44.4" font-size="12" fill="#111">0.52%</text>
<g transform="translate(613.3,47.3)">
<path d="M0,0.5H65V65" fill="none" stroke="#a8a8a8" stroke-width="1"/>
<path d="M0,0V65H65" fill="none" stroke="#5a5a5a" stroke-width="1"/>
<path d="M-2.4,0.5H0M-2.4,16.1H0M-2.4,32H0M-2.4,48.3H0" stroke="#555" stroke-width="1"/>
<path d="M-1.3,4.9H0M-1.3,8.3H0M-1.3,11.0H0M-1.3,13.4H0M-1.3,18.8H0M-1.3,21.0H0M-1.3,23.0H0M-1.3,24.9H0M-1.3,26.7H0M-1.3,28.5H0M-1.3,30.2H0M-1.3,34.7H0M-1.3,37.0H0M-1.3,39.0H0M-1.3,40.9H0M-1.3,42.7H0M-1.3,44.4H0M-1.3,46.0H0M-1.3,51H0M-1.3,53.5H0M-1.3,56H0M-1.3,58.5H0M-1.3,61H0" stroke="#999" stroke-width="0.7"/>
<path d="M15.7,65V67.3M21.7,65V67.3M31.7,65V67.3M48.5,65V67.3M54.6,65V67.3M63.8,65V67.3" stroke="#666" stroke-width="1"/>
<text x="-12.3" y="10.7" font-size="6" fill="#1a1a1a" stroke="#1a1a1a" stroke-width="0.25">10</text><text x="-6.2" y="6.3999999999999995" font-size="6" fill="#1a1a1a" stroke="#1a1a1a" stroke-width="0.25">3</text>
<text x="-12.3" y="20.5" font-size="6" fill="#1a1a1a" stroke="#1a1a1a" stroke-width="0.25">10</text><text x="-6.2" y="16.2" font-size="6" fill="#1a1a1a" stroke="#1a1a1a" stroke-width="0.25">2</text>
<text x="-12.3" y="37" font-size="6" fill="#1a1a1a" stroke="#1a1a1a" stroke-width="0.25">10</text><text x="-6.2" y="32.7" font-size="6" fill="#1a1a1a" stroke="#1a1a1a" stroke-width="0.25">1</text>
<text x="-12.3" y="53.3" font-size="6" fill="#1a1a1a" stroke="#1a1a1a" stroke-width="0.25">10</text><text x="-6.2" y="49.0" font-size="6" fill="#1a1a1a" stroke="#1a1a1a" stroke-width="0.25">0</text>
<text x="14.9" y="75.8" font-size="6" fill="#1a1a1a" stroke="#1a1a1a" stroke-width="0.25">10</text><text x="20.9" y="71.4" font-size="6" fill="#1a1a1a" stroke="#1a1a1a" stroke-width="0.25">0</text>
<text x="31.2" y="75.8" font-size="6" fill="#1a1a1a" stroke="#1a1a1a" stroke-width="0.25">10</text><text x="37.2" y="71.4" font-size="6" fill="#1a1a1a" stroke="#1a1a1a" stroke-width="0.25">1</text>
<text x="47.5" y="75.8" font-size="6" fill="#1a1a1a" stroke="#1a1a1a" stroke-width="0.25">10</text><text x="53.5" y="71.4" font-size="6" fill="#1a1a1a" stroke="#1a1a1a" stroke-width="0.25">2</text>
<text x="55.9" y="75.8" font-size="6" fill="#1a1a1a" stroke="#1a1a1a" stroke-width="0.25">10</text><text x="61.9" y="71.4" font-size="6" fill="#1a1a1a" stroke="#1a1a1a" stroke-width="0.25">3</text>
</g>
<g transform="translate(613.3,47.3)"><g clip-path="url(#pc)"><g filter="url(#dC)">
<ellipse cx="24" cy="48" rx="28" ry="17" transform="rotate(-28 24 48)" fill-opacity="0.07"/><ellipse cx="10" cy="58" rx="12" ry="7" transform="rotate(-20 10 58)" fill-opacity="0.16"/><ellipse cx="37" cy="52" rx="9" ry="6" transform="rotate(-20 37 52)" fill-opacity="0.1"/><path d="M-2,37 C2,35 5,33.5 8,32.8 C12,31.5 16.5,30.8 21,30 C26,29 30,27.6 34,27 C37,26.6 45,26.3 46.5,27.5 C48.5,29.5 48.5,33.5 47.5,36.5 C46.5,40.5 45.5,44 44,46.5 C41,48.8 37,49 31,49.7 C27,50.7 24.3,52 22,53.3 C19.8,54.7 18.5,56.2 17,57.7 C14.5,60 12.5,62.5 10,63 C6,64 2,62.5 -2,61 Z" fill-opacity="0.1"/><path d="M-1,39.5 C2,37.5 5,36 8,35.1 C12,33.8 16.5,33 21.1,32.2 C26,31.2 30,29.8 34.2,29.3 C37,28.9 44,28.7 45,29.5 C46.5,31 46.5,33.5 45.5,35.8 C44.5,39.5 44,42.5 42.6,44.6 C40,46.5 37,46.8 30.6,47.5 C27,48.5 24,49.8 21.1,51.2 C19,52.5 17.5,54 16,55.5 C14,57.5 12,60 10.1,60.7 C7,61.8 3,59.5 -1,58 Z" fill-opacity="0.6"/><ellipse cx="7" cy="59" rx="8" ry="5" transform="rotate(-20 7 59)" fill-opacity="0.15"/><ellipse cx="37" cy="9" rx="7" ry="5" transform="rotate(-30 37 9)" fill-opacity="0.08"/><path d="M2,42 C2.5,38.5 8,36.3 14,35.2 C20,34 26,32.5 38,31.3 C41.5,30.8 43.5,32.3 43.3,35 C43,38 41.5,40.8 38.5,42.8 C35,44.8 27,46.3 22,48.3 C18,50 15,53.3 12,55.8 C9,57.8 4.5,57.3 3,54.3 C1.5,51 1.5,46 2,42 Z" fill-opacity="0.2"/><ellipse cx="20" cy="42" rx="13" ry="4.2" transform="rotate(-14 20 42)" fill-opacity="0.2"/>
</g><g filter="url(#soft)">
<path d="M2,42 C2.5,38.5 8,36.3 14,35.2 C20,34 26,32.5 38,31.3 C41.5,30.8 43.5,32.3 43.3,35 C43,38 41.5,40.8 38.5,42.8 C35,44.8 27,46.3 22,48.3 C18,50 15,53.3 12,55.8 C9,57.8 4.5,57.3 3,54.3 C1.5,51 1.5,46 2,42 Z" fill="#a3a3a3"/><ellipse cx="20" cy="42" rx="13" ry="4.2" transform="rotate(-14 20 42)" fill="#bfbfbf"/><ellipse cx="11" cy="43" rx="2.0" ry="1.7" fill="#808080"/>
</g></g>
<rect x="20.30" y="0.3" width="32.6" height="21" fill="none" stroke="#2a2a2a" stroke-width="1.3"/>
</g>
<text x="611.1" y="44.4" font-size="12" fill="#111">0.09</text>
<path d="M635.80,38.5H645.10M640.5,35.20V41.80M635.80,43.5H645.10" stroke="#1a1a1a" stroke-width="1.05" fill="none"/>
<text x="646.3000000000001" y="44.4" font-size="12" fill="#111">0.06%</text>
<g transform="translate(121.5,146.4)">
<path d="M0,0.5H65V65" fill="none" stroke="#a8a8a8" stroke-width="1"/>
<path d="M0,0V65H65" fill="none" stroke="#5a5a5a" stroke-width="1"/>
<path d="M-2.4,0.5H0M-2.4,16.1H0M-2.4,32H0M-2.4,48.3H0" stroke="#555" stroke-width="1"/>
<path d="M-1.3,4.9H0M-1.3,8.3H0M-1.3,11.0H0M-1.3,13.4H0M-1.3,18.8H0M-1.3,21.0H0M-1.3,23.0H0M-1.3,24.9H0M-1.3,26.7H0M-1.3,28.5H0M-1.3,30.2H0M-1.3,34.7H0M-1.3,37.0H0M-1.3,39.0H0M-1.3,40.9H0M-1.3,42.7H0M-1.3,44.4H0M-1.3,46.0H0M-1.3,51H0M-1.3,53.5H0M-1.3,56H0M-1.3,58.5H0M-1.3,61H0" stroke="#999" stroke-width="0.7"/>
<path d="M15.7,65V67.3M21.7,65V67.3M31.7,65V67.3M48.5,65V67.3M54.6,65V67.3M63.8,65V67.3" stroke="#666" stroke-width="1"/>
<text x="-12.3" y="10.7" font-size="6" fill="#1a1a1a" stroke="#1a1a1a" stroke-width="0.25">10</text><text x="-6.2" y="6.3999999999999995" font-size="6" fill="#1a1a1a" stroke="#1a1a1a" stroke-width="0.25">3</text>
<text x="-12.3" y="20.5" font-size="6" fill="#1a1a1a" stroke="#1a1a1a" stroke-width="0.25">10</text><text x="-6.2" y="16.2" font-size="6" fill="#1a1a1a" stroke="#1a1a1a" stroke-width="0.25">2</text>
<text x="-12.3" y="37" font-size="6" fill="#1a1a1a" stroke="#1a1a1a" stroke-width="0.25">10</text><text x="-6.2" y="32.7" font-size="6" fill="#1a1a1a" stroke="#1a1a1a" stroke-width="0.25">1</text>
<text x="-12.3" y="53.3" font-size="6" fill="#1a1a1a" stroke="#1a1a1a" stroke-width="0.25">10</text><text x="-6.2" y="49.0" font-size="6" fill="#1a1a1a" stroke="#1a1a1a" stroke-width="0.25">0</text>
<text x="14.9" y="75.8" font-size="6" fill="#1a1a1a" stroke="#1a1a1a" stroke-width="0.25">10</text><text x="20.9" y="71.4" font-size="6" fill="#1a1a1a" stroke="#1a1a1a" stroke-width="0.25">0</text>
<text x="31.2" y="75.8" font-size="6" fill="#1a1a1a" stroke="#1a1a1a" stroke-width="0.25">10</text><text x="37.2" y="71.4" font-size="6" fill="#1a1a1a" stroke="#1a1a1a" stroke-width="0.25">1</text>
<text x="47.5" y="75.8" font-size="6" fill="#1a1a1a" stroke="#1a1a1a" stroke-width="0.25">10</text><text x="53.5" y="71.4" font-size="6" fill="#1a1a1a" stroke="#1a1a1a" stroke-width="0.25">2</text>
<text x="55.9" y="75.8" font-size="6" fill="#1a1a1a" stroke="#1a1a1a" stroke-width="0.25">10</text><text x="61.9" y="71.4" font-size="6" fill="#1a1a1a" stroke="#1a1a1a" stroke-width="0.25">3</text>
</g>
<g transform="translate(121.5,146.4)"><g clip-path="url(#pc)"><g filter="url(#dB)">
<ellipse cx="25" cy="28" rx="26" ry="14" fill-opacity="0.065"/><path d="M0,41 C4,34 14,32 25,32 C36,32 45,34 49,41 Z" fill-opacity="0.15"/><path d="M0,42.5 C6,38.5 18,38 28,38 C38,38 45,38.5 48.5,41.5 L48.5,42.5 Z" fill-opacity="0.18"/><path d="M-2,42.5 C10,41.5 30,41 41,41 C45,41 47.5,41.5 47.5,44 C47.5,50 45,58 43.5,66 L-2,66 Z" fill-opacity="0.6"/><ellipse cx="37.5" cy="8.8" rx="10" ry="5" transform="rotate(-32 37.5 8.8)" fill-opacity="0.119"/><ellipse cx="39.3" cy="7.2" rx="5.6" ry="2.6" transform="rotate(-32 39.3 7.2)" fill-opacity="0.468"/><path d="M7.8,42.6 C18.44,42.6 17.68,54.2 11.6,64.41 C9.32,66.03 6.28,66.03 4.0,64.41 C-2.08,54.2 -2.84,42.6 7.8,42.6 Z" fill-opacity="0.2"/><path d="M7.84,43.39 C17.42,43.39 16.73,53.83 11.26,63.02 C9.21,64.48 6.47,64.48 4.42,63.02 C-1.05,53.83 -1.74,43.39 7.84,43.39 Z" fill-opacity="0.2"/>
</g><g filter="url(#soft)">
<path d="M7.8,42.6 C18.44,42.6 17.68,54.2 11.6,64.41 C9.32,66.03 6.28,66.03 4.0,64.41 C-2.08,54.2 -2.84,42.6 7.8,42.6 Z" fill="#8f8f8f"/><path d="M7.84,43.39 C17.42,43.39 16.73,53.83 11.26,63.02 C9.21,64.48 6.47,64.48 4.42,63.02 C-1.05,53.83 -1.74,43.39 7.84,43.39 Z" fill="#b2b2b2"/><path d="M7.89,44.42 C16.08,44.42 15.5,53.35 10.82,61.21 C9.06,62.46 6.72,62.46 4.97,61.21 C0.28,53.35 -0.3,44.42 7.89,44.42 Z" fill="#c4c4c4"/><path d="M7.95,45.6 C14.55,45.6 14.08,52.79 10.31,59.12 C8.89,60.13 7.01,60.13 5.6,59.12 C1.83,52.79 1.36,45.6 7.95,45.6 Z" fill="#a3a3a3"/><path d="M8.0,46.63 C13.22,46.63 12.85,52.31 9.87,57.31 C8.75,58.11 7.26,58.11 6.14,57.31 C3.16,52.31 2.79,46.63 8.0,46.63 Z" fill="#cccccc"/><path d="M8.07,47.97 C11.48,47.97 11.23,51.68 9.29,54.95 C8.56,55.47 7.59,55.47 6.86,54.95 C4.91,51.68 4.67,47.97 8.07,47.97 Z" fill="#adadad"/><path d="M8.13,49.16 C9.94,49.16 9.81,51.13 8.78,52.86 C8.39,53.14 7.87,53.14 7.49,52.86 C6.45,51.13 6.32,49.16 8.13,49.16 Z" fill="#737373"/><path d="M35.8,42.0 C45.32,42.0 44.64,53.6 39.2,63.81 C37.16,65.43 34.44,65.43 32.4,63.81 C26.96,53.6 26.28,42.0 35.8,42.0 Z" fill="#8f8f8f"/><path d="M35.82,42.65 C44.39,42.65 43.78,53.09 38.88,62.28 C37.04,63.74 34.6,63.74 32.76,62.28 C27.86,53.09 27.25,42.65 35.82,42.65 Z" fill="#b2b2b2"/><path d="M35.85,43.49 C43.18,43.49 42.65,52.43 38.46,60.29 C36.89,61.54 34.8,61.54 33.23,60.29 C29.04,52.43 28.52,43.49 35.85,43.49 Z" fill="#c4c4c4"/><path d="M35.88,44.47 C41.78,44.47 41.36,51.66 37.98,57.99 C36.72,59.0 35.03,59.0 33.77,57.99 C30.4,51.66 29.97,44.47 35.88,44.47 Z" fill="#a3a3a3"/><path d="M35.9,45.31 C40.57,45.31 40.23,51.0 37.57,56.0 C36.57,56.8 35.24,56.8 34.24,56.0 C31.57,51.0 31.24,45.31 35.9,45.31 Z" fill="#cccccc"/><path d="M35.94,46.42 C38.98,46.42 38.76,50.13 37.02,53.4 C36.37,53.92 35.5,53.92 34.85,53.4 C33.11,50.13 32.89,46.42 35.94,46.42 Z" fill="#adadad"/><path d="M35.97,47.4 C37.58,47.4 37.47,49.37 36.54,51.1 C36.2,51.38 35.73,51.38 35.39,51.1 C34.46,49.37 34.35,47.4 35.97,47.4 Z" fill="#737373"/>
</g></g>
<rect x="22.10" y="0.3" width="32.6" height="21" fill="none" stroke="#2a2a2a" stroke-width="1.3"/>
</g>
<text x="162.6" y="143.5" font-size="12" text-anchor="middle" fill="#111">0.12%</text>
<g transform="translate(219.8,146.4)">
<path d="M0,0.5H65V65" fill="none" stroke="#a8a8a8" stroke-width="1"/>
<path d="M0,0V65H65" fill="none" stroke="#5a5a5a" stroke-width="1"/>
<path d="M-2.4,0.5H0M-2.4,16.1H0M-2.4,32H0M-2.4,48.3H0" stroke="#555" stroke-width="1"/>
<path d="M-1.3,4.9H0M-1.3,8.3H0M-1.3,11.0H0M-1.3,13.4H0M-1.3,18.8H0M-1.3,21.0H0M-1.3,23.0H0M-1.3,24.9H0M-1.3,26.7H0M-1.3,28.5H0M-1.3,30.2H0M-1.3,34.7H0M-1.3,37.0H0M-1.3,39.0H0M-1.3,40.9H0M-1.3,42.7H0M-1.3,44.4H0M-1.3,46.0H0M-1.3,51H0M-1.3,53.5H0M-1.3,56H0M-1.3,58.5H0M-1.3,61H0" stroke="#999" stroke-width="0.7"/>
<path d="M15.7,65V67.3M21.7,65V67.3M31.7,65V67.3M48.5,65V67.3M54.6,65V67.3M63.8,65V67.3" stroke="#666" stroke-width="1"/>
<text x="-12.3" y="10.7" font-size="6" fill="#1a1a1a" stroke="#1a1a1a" stroke-width="0.25">10</text><text x="-6.2" y="6.3999999999999995" font-size="6" fill="#1a1a1a" stroke="#1a1a1a" stroke-width="0.25">3</text>
<text x="-12.3" y="20.5" font-size="6" fill="#1a1a1a" stroke="#1a1a1a" stroke-width="0.25">10</text><text x="-6.2" y="16.2" font-size="6" fill="#1a1a1a" stroke="#1a1a1a" stroke-width="0.25">2</text>
<text x="-12.3" y="37" font-size="6" fill="#1a1a1a" stroke="#1a1a1a" stroke-width="0.25">10</text><text x="-6.2" y="32.7" font-size="6" fill="#1a1a1a" stroke="#1a1a1a" stroke-width="0.25">1</text>
<text x="-12.3" y="53.3" font-size="6" fill="#1a1a1a" stroke="#1a1a1a" stroke-width="0.25">10</text><text x="-6.2" y="49.0" font-size="6" fill="#1a1a1a" stroke="#1a1a1a" stroke-width="0.25">0</text>
<text x="14.9" y="75.8" font-size="6" fill="#1a1a1a" stroke="#1a1a1a" stroke-width="0.25">10</text><text x="20.9" y="71.4" font-size="6" fill="#1a1a1a" stroke="#1a1a1a" stroke-width="0.25">0</text>
<text x="31.2" y="75.8" font-size="6" fill="#1a1a1a" stroke="#1a1a1a" stroke-width="0.25">10</text><text x="37.2" y="71.4" font-size="6" fill="#1a1a1a" stroke="#1a1a1a" stroke-width="0.25">1</text>
<text x="47.5" y="75.8" font-size="6" fill="#1a1a1a" stroke="#1a1a1a" stroke-width="0.25">10</text><text x="53.5" y="71.4" font-size="6" fill="#1a1a1a" stroke="#1a1a1a" stroke-width="0.25">2</text>
<text x="55.9" y="75.8" font-size="6" fill="#1a1a1a" stroke="#1a1a1a" stroke-width="0.25">10</text><text x="61.9" y="71.4" font-size="6" fill="#1a1a1a" stroke="#1a1a1a" stroke-width="0.25">3</text>
</g>
<g transform="translate(219.8,146.4)"><g clip-path="url(#pc)"><g filter="url(#dC)">
<ellipse cx="25" cy="28" rx="26" ry="14" fill-opacity="0.065"/><path d="M0,41 C4,34 14,32 25,32 C36,32 45,34 49,41 Z" fill-opacity="0.15"/><path d="M0,42.5 C6,38.5 18,38 28,38 C38,38 45,38.5 48.5,41.5 L48.5,42.5 Z" fill-opacity="0.18"/><path d="M-2,42.5 C10,41.5 30,41 41,41 C45,41 47.5,41.5 47.5,44 C47.5,50 45,58 43.5,66 L-2,66 Z" fill-opacity="0.6"/><ellipse cx="37.5" cy="8.8" rx="10" ry="5" transform="rotate(-32 37.5 8.8)" fill-opacity="0.125"/><ellipse cx="39.3" cy="7.2" rx="5.6" ry="2.6" transform="rotate(-32 39.3 7.2)" fill-opacity="0.494"/><path d="M7.8,42.6 C18.44,42.6 17.68,54.2 11.6,64.41 C9.32,66.03 6.28,66.03 4.0,64.41 C-2.08,54.2 -2.84,42.6 7.8,42.6 Z" fill-opacity="0.2"/><path d="M7.84,43.39 C17.42,43.39 16.73,53.83 11.26,63.02 C9.21,64.48 6.47,64.48 4.42,63.02 C-1.05,53.83 -1.74,43.39 7.84,43.39 Z" fill-opacity="0.2"/>
</g><g filter="url(#soft)">
<path d="M7.8,42.6 C18.44,42.6 17.68,54.2 11.6,64.41 C9.32,66.03 6.28,66.03 4.0,64.41 C-2.08,54.2 -2.84,42.6 7.8,42.6 Z" fill="#8f8f8f"/><path d="M7.84,43.39 C17.42,43.39 16.73,53.83 11.26,63.02 C9.21,64.48 6.47,64.48 4.42,63.02 C-1.05,53.83 -1.74,43.39 7.84,43.39 Z" fill="#b2b2b2"/><path d="M7.89,44.42 C16.08,44.42 15.5,53.35 10.82,61.21 C9.06,62.46 6.72,62.46 4.97,61.21 C0.28,53.35 -0.3,44.42 7.89,44.42 Z" fill="#c4c4c4"/><path d="M7.95,45.6 C14.55,45.6 14.08,52.79 10.31,59.12 C8.89,60.13 7.01,60.13 5.6,59.12 C1.83,52.79 1.36,45.6 7.95,45.6 Z" fill="#a3a3a3"/><path d="M8.0,46.63 C13.22,46.63 12.85,52.31 9.87,57.31 C8.75,58.11 7.26,58.11 6.14,57.31 C3.16,52.31 2.79,46.63 8.0,46.63 Z" fill="#cccccc"/><path d="M8.07,47.97 C11.48,47.97 11.23,51.68 9.29,54.95 C8.56,55.47 7.59,55.47 6.86,54.95 C4.91,51.68 4.67,47.97 8.07,47.97 Z" fill="#adadad"/><path d="M8.13,49.16 C9.94,49.16 9.81,51.13 8.78,52.86 C8.39,53.14 7.87,53.14 7.49,52.86 C6.45,51.13 6.32,49.16 8.13,49.16 Z" fill="#737373"/><path d="M35.8,42.0 C45.32,42.0 44.64,53.6 39.2,63.81 C37.16,65.43 34.44,65.43 32.4,63.81 C26.96,53.6 26.28,42.0 35.8,42.0 Z" fill="#8f8f8f"/><path d="M35.82,42.65 C44.39,42.65 43.78,53.09 38.88,62.28 C37.04,63.74 34.6,63.74 32.76,62.28 C27.86,53.09 27.25,42.65 35.82,42.65 Z" fill="#b2b2b2"/><path d="M35.85,43.49 C43.18,43.49 42.65,52.43 38.46,60.29 C36.89,61.54 34.8,61.54 33.23,60.29 C29.04,52.43 28.52,43.49 35.85,43.49 Z" fill="#c4c4c4"/><path d="M35.88,44.47 C41.78,44.47 41.36,51.66 37.98,57.99 C36.72,59.0 35.03,59.0 33.77,57.99 C30.4,51.66 29.97,44.47 35.88,44.47 Z" fill="#a3a3a3"/><path d="M35.9,45.31 C40.57,45.31 40.23,51.0 37.57,56.0 C36.57,56.8 35.24,56.8 34.24,56.0 C31.57,51.0 31.24,45.31 35.9,45.31 Z" fill="#cccccc"/><path d="M35.94,46.42 C38.98,46.42 38.76,50.13 37.02,53.4 C36.37,53.92 35.5,53.92 34.85,53.4 C33.11,50.13 32.89,46.42 35.94,46.42 Z" fill="#adadad"/><path d="M35.97,47.4 C37.58,47.4 37.47,49.37 36.54,51.1 C36.2,51.38 35.73,51.38 35.39,51.1 C34.46,49.37 34.35,47.4 35.97,47.4 Z" fill="#737373"/>
</g></g>
<rect x="22.00" y="0.3" width="32.6" height="21" fill="none" stroke="#2a2a2a" stroke-width="1.3"/>
</g>
<text x="260.3" y="143.5" font-size="12" text-anchor="middle" fill="#111">0.11%</text>
<g transform="translate(318.2,146.4)">
<path d="M0,0.5H65V65" fill="none" stroke="#a8a8a8" stroke-width="1"/>
<path d="M0,0V65H65" fill="none" stroke="#5a5a5a" stroke-width="1"/>
<path d="M-2.4,0.5H0M-2.4,16.1H0M-2.4,32H0M-2.4,48.3H0" stroke="#555" stroke-width="1"/>
<path d="M-1.3,4.9H0M-1.3,8.3H0M-1.3,11.0H0M-1.3,13.4H0M-1.3,18.8H0M-1.3,21.0H0M-1.3,23.0H0M-1.3,24.9H0M-1.3,26.7H0M-1.3,28.5H0M-1.3,30.2H0M-1.3,34.7H0M-1.3,37.0H0M-1.3,39.0H0M-1.3,40.9H0M-1.3,42.7H0M-1.3,44.4H0M-1.3,46.0H0M-1.3,51H0M-1.3,53.5H0M-1.3,56H0M-1.3,58.5H0M-1.3,61H0" stroke="#999" stroke-width="0.7"/>
<path d="M15.7,65V67.3M21.7,65V67.3M31.7,65V67.3M48.5,65V67.3M54.6,65V67.3M63.8,65V67.3" stroke="#666" stroke-width="1"/>
<text x="-12.3" y="10.7" font-size="6" fill="#1a1a1a" stroke="#1a1a1a" stroke-width="0.25">10</text><text x="-6.2" y="6.3999999999999995" font-size="6" fill="#1a1a1a" stroke="#1a1a1a" stroke-width="0.25">3</text>
<text x="-12.3" y="20.5" font-size="6" fill="#1a1a1a" stroke="#1a1a1a" stroke-width="0.25">10</text><text x="-6.2" y="16.2" font-size="6" fill="#1a1a1a" stroke="#1a1a1a" stroke-width="0.25">2</text>
<text x="-12.3" y="37" font-size="6" fill="#1a1a1a" stroke="#1a1a1a" stroke-width="0.25">10</text><text x="-6.2" y="32.7" font-size="6" fill="#1a1a1a" stroke="#1a1a1a" stroke-width="0.25">1</text>
<text x="-12.3" y="53.3" font-size="6" fill="#1a1a1a" stroke="#1a1a1a" stroke-width="0.25">10</text><text x="-6.2" y="49.0" font-size="6" fill="#1a1a1a" stroke="#1a1a1a" stroke-width="0.25">0</text>
<text x="14.9" y="75.8" font-size="6" fill="#1a1a1a" stroke="#1a1a1a" stroke-width="0.25">10</text><text x="20.9" y="71.4" font-size="6" fill="#1a1a1a" stroke="#1a1a1a" stroke-width="0.25">0</text>
<text x="31.2" y="75.8" font-size="6" fill="#1a1a1a" stroke="#1a1a1a" stroke-width="0.25">10</text><text x="37.2" y="71.4" font-size="6" fill="#1a1a1a" stroke="#1a1a1a" stroke-width="0.25">1</text>
<text x="47.5" y="75.8" font-size="6" fill="#1a1a1a" stroke="#1a1a1a" stroke-width="0.25">10</text><text x="53.5" y="71.4" font-size="6" fill="#1a1a1a" stroke="#1a1a1a" stroke-width="0.25">2</text>
<text x="55.9" y="75.8" font-size="6" fill="#1a1a1a" stroke="#1a1a1a" stroke-width="0.25">10</text><text x="61.9" y="71.4" font-size="6" fill="#1a1a1a" stroke="#1a1a1a" stroke-width="0.25">3</text>
</g>
<g transform="translate(318.2,146.4)"><g clip-path="url(#pc)"><g filter="url(#dA)">
<ellipse cx="25" cy="28" rx="26" ry="14" fill-opacity="0.065"/><path d="M0,41 C4,34 14,32 25,32 C36,32 45,34 49,41 Z" fill-opacity="0.15"/><path d="M0,42.5 C6,38.5 18,38 28,38 C38,38 45,38.5 48.5,41.5 L48.5,42.5 Z" fill-opacity="0.18"/><path d="M-2,42.5 C10,41.5 30,41 41,41 C45,41 47.5,41.5 47.5,44 C47.5,50 45,58 43.5,66 L-2,66 Z" fill-opacity="0.6"/><ellipse cx="37.5" cy="8.8" rx="10" ry="5" transform="rotate(-32 37.5 8.8)" fill-opacity="0.112"/><ellipse cx="39.3" cy="7.2" rx="5.6" ry="2.6" transform="rotate(-32 39.3 7.2)" fill-opacity="0.442"/><path d="M7.8,42.6 C18.44,42.6 17.68,54.2 11.6,64.41 C9.32,66.03 6.28,66.03 4.0,64.41 C-2.08,54.2 -2.84,42.6 7.8,42.6 Z" fill-opacity="0.2"/><path d="M7.84,43.39 C17.42,43.39 16.73,53.83 11.26,63.02 C9.21,64.48 6.47,64.48 4.42,63.02 C-1.05,53.83 -1.74,43.39 7.84,43.39 Z" fill-opacity="0.2"/>
</g><g filter="url(#soft)">
<path d="M7.8,42.6 C18.44,42.6 17.68,54.2 11.6,64.41 C9.32,66.03 6.28,66.03 4.0,64.41 C-2.08,54.2 -2.84,42.6 7.8,42.6 Z" fill="#8f8f8f"/><path d="M7.84,43.39 C17.42,43.39 16.73,53.83 11.26,63.02 C9.21,64.48 6.47,64.48 4.42,63.02 C-1.05,53.83 -1.74,43.39 7.84,43.39 Z" fill="#b2b2b2"/><path d="M7.89,44.42 C16.08,44.42 15.5,53.35 10.82,61.21 C9.06,62.46 6.72,62.46 4.97,61.21 C0.28,53.35 -0.3,44.42 7.89,44.42 Z" fill="#c4c4c4"/><path d="M7.95,45.6 C14.55,45.6 14.08,52.79 10.31,59.12 C8.89,60.13 7.01,60.13 5.6,59.12 C1.83,52.79 1.36,45.6 7.95,45.6 Z" fill="#a3a3a3"/><path d="M8.0,46.63 C13.22,46.63 12.85,52.31 9.87,57.31 C8.75,58.11 7.26,58.11 6.14,57.31 C3.16,52.31 2.79,46.63 8.0,46.63 Z" fill="#cccccc"/><path d="M8.07,47.97 C11.48,47.97 11.23,51.68 9.29,54.95 C8.56,55.47 7.59,55.47 6.86,54.95 C4.91,51.68 4.67,47.97 8.07,47.97 Z" fill="#adadad"/><path d="M8.13,49.16 C9.94,49.16 9.81,51.13 8.78,52.86 C8.39,53.14 7.87,53.14 7.49,52.86 C6.45,51.13 6.32,49.16 8.13,49.16 Z" fill="#737373"/><path d="M35.8,42.0 C45.32,42.0 44.64,53.6 39.2,63.81 C37.16,65.43 34.44,65.43 32.4,63.81 C26.96,53.6 26.28,42.0 35.8,42.0 Z" fill="#8f8f8f"/><path d="M35.82,42.65 C44.39,42.65 43.78,53.09 38.88,62.28 C37.04,63.74 34.6,63.74 32.76,62.28 C27.86,53.09 27.25,42.65 35.82,42.65 Z" fill="#b2b2b2"/><path d="M35.85,43.49 C43.18,43.49 42.65,52.43 38.46,60.29 C36.89,61.54 34.8,61.54 33.23,60.29 C29.04,52.43 28.52,43.49 35.85,43.49 Z" fill="#c4c4c4"/><path d="M35.88,44.47 C41.78,44.47 41.36,51.66 37.98,57.99 C36.72,59.0 35.03,59.0 33.77,57.99 C30.4,51.66 29.97,44.47 35.88,44.47 Z" fill="#a3a3a3"/><path d="M35.9,45.31 C40.57,45.31 40.23,51.0 37.57,56.0 C36.57,56.8 35.24,56.8 34.24,56.0 C31.57,51.0 31.24,45.31 35.9,45.31 Z" fill="#cccccc"/><path d="M35.94,46.42 C38.98,46.42 38.76,50.13 37.02,53.4 C36.37,53.92 35.5,53.92 34.85,53.4 C33.11,50.13 32.89,46.42 35.94,46.42 Z" fill="#adadad"/><path d="M35.97,47.4 C37.58,47.4 37.47,49.37 36.54,51.1 C36.2,51.38 35.73,51.38 35.39,51.1 C34.46,49.37 34.35,47.4 35.97,47.4 Z" fill="#737373"/>
</g></g>
<rect x="21.60" y="0.3" width="32.6" height="21" fill="none" stroke="#2a2a2a" stroke-width="1.3"/>
</g>
<text x="357.7" y="143.5" font-size="12" text-anchor="middle" fill="#111">0.13%</text>
<g transform="translate(416.6,146.4)">
<path d="M0,0.5H65V65" fill="none" stroke="#a8a8a8" stroke-width="1"/>
<path d="M0,0V65H65" fill="none" stroke="#5a5a5a" stroke-width="1"/>
<path d="M-2.4,0.5H0M-2.4,16.1H0M-2.4,32H0M-2.4,48.3H0" stroke="#555" stroke-width="1"/>
<path d="M-1.3,4.9H0M-1.3,8.3H0M-1.3,11.0H0M-1.3,13.4H0M-1.3,18.8H0M-1.3,21.0H0M-1.3,23.0H0M-1.3,24.9H0M-1.3,26.7H0M-1.3,28.5H0M-1.3,30.2H0M-1.3,34.7H0M-1.3,37.0H0M-1.3,39.0H0M-1.3,40.9H0M-1.3,42.7H0M-1.3,44.4H0M-1.3,46.0H0M-1.3,51H0M-1.3,53.5H0M-1.3,56H0M-1.3,58.5H0M-1.3,61H0" stroke="#999" stroke-width="0.7"/>
<path d="M15.7,65V67.3M21.7,65V67.3M31.7,65V67.3M48.5,65V67.3M54.6,65V67.3M63.8,65V67.3" stroke="#666" stroke-width="1"/>
<text x="-12.3" y="10.7" font-size="6" fill="#1a1a1a" stroke="#1a1a1a" stroke-width="0.25">10</text><text x="-6.2" y="6.3999999999999995" font-size="6" fill="#1a1a1a" stroke="#1a1a1a" stroke-width="0.25">3</text>
<text x="-12.3" y="20.5" font-size="6" fill="#1a1a1a" stroke="#1a1a1a" stroke-width="0.25">10</text><text x="-6.2" y="16.2" font-size="6" fill="#1a1a1a" stroke="#1a1a1a" stroke-width="0.25">2</text>
<text x="-12.3" y="37" font-size="6" fill="#1a1a1a" stroke="#1a1a1a" stroke-width="0.25">10</text><text x="-6.2" y="32.7" font-size="6" fill="#1a1a1a" stroke="#1a1a1a" stroke-width="0.25">1</text>
<text x="-12.3" y="53.3" font-size="6" fill="#1a1a1a" stroke="#1a1a1a" stroke-width="0.25">10</text><text x="-6.2" y="49.0" font-size="6" fill="#1a1a1a" stroke="#1a1a1a" stroke-width="0.25">0</text>
<text x="14.9" y="75.8" font-size="6" fill="#1a1a1a" stroke="#1a1a1a" stroke-width="0.25">10</text><text x="20.9" y="71.4" font-size="6" fill="#1a1a1a" stroke="#1a1a1a" stroke-width="0.25">0</text>
<text x="31.2" y="75.8" font-size="6" fill="#1a1a1a" stroke="#1a1a1a" stroke-width="0.25">10</text><text x="37.2" y="71.4" font-size="6" fill="#1a1a1a" stroke="#1a1a1a" stroke-width="0.25">1</text>
<text x="47.5" y="75.8" font-size="6" fill="#1a1a1a" stroke="#1a1a1a" stroke-width="0.25">10</text><text x="53.5" y="71.4" font-size="6" fill="#1a1a1a" stroke="#1a1a1a" stroke-width="0.25">2</text>
<text x="55.9" y="75.8" font-size="6" fill="#1a1a1a" stroke="#1a1a1a" stroke-width="0.25">10</text><text x="61.9" y="71.4" font-size="6" fill="#1a1a1a" stroke="#1a1a1a" stroke-width="0.25">3</text>
</g>
<g transform="translate(416.6,146.4)"><g clip-path="url(#pc)"><g filter="url(#dB)">
<ellipse cx="25" cy="28" rx="26" ry="14" fill-opacity="0.065"/><path d="M0,41 C4,34 14,32 25,32 C36,32 45,34 49,41 Z" fill-opacity="0.15"/><path d="M0,42.5 C6,38.5 18,38 28,38 C38,38 45,38.5 48.5,41.5 L48.5,42.5 Z" fill-opacity="0.18"/><path d="M-2,42.5 C10,41.5 30,41 41,41 C45,41 47.5,41.5 47.5,44 C47.5,50 45,58 43.5,66 L-2,66 Z" fill-opacity="0.6"/><ellipse cx="37.5" cy="8.8" rx="10" ry="5" transform="rotate(-32 37.5 8.8)" fill-opacity="0.106"/><ellipse cx="39.3" cy="7.2" rx="5.6" ry="2.6" transform="rotate(-32 39.3 7.2)" fill-opacity="0.416"/><path d="M7.8,42.6 C18.44,42.6 17.68,54.2 11.6,64.41 C9.32,66.03 6.28,66.03 4.0,64.41 C-2.08,54.2 -2.84,42.6 7.8,42.6 Z" fill-opacity="0.2"/><path d="M7.84,43.39 C17.42,43.39 16.73,53.83 11.26,63.02 C9.21,64.48 6.47,64.48 4.42,63.02 C-1.05,53.83 -1.74,43.39 7.84,43.39 Z" fill-opacity="0.2"/>
</g><g filter="url(#soft)">
<path d="M7.8,42.6 C18.44,42.6 17.68,54.2 11.6,64.41 C9.32,66.03 6.28,66.03 4.0,64.41 C-2.08,54.2 -2.84,42.6 7.8,42.6 Z" fill="#8f8f8f"/><path d="M7.84,43.39 C17.42,43.39 16.73,53.83 11.26,63.02 C9.21,64.48 6.47,64.48 4.42,63.02 C-1.05,53.83 -1.74,43.39 7.84,43.39 Z" fill="#b2b2b2"/><path d="M7.89,44.42 C16.08,44.42 15.5,53.35 10.82,61.21 C9.06,62.46 6.72,62.46 4.97,61.21 C0.28,53.35 -0.3,44.42 7.89,44.42 Z" fill="#c4c4c4"/><path d="M7.95,45.6 C14.55,45.6 14.08,52.79 10.31,59.12 C8.89,60.13 7.01,60.13 5.6,59.12 C1.83,52.79 1.36,45.6 7.95,45.6 Z" fill="#a3a3a3"/><path d="M8.0,46.63 C13.22,46.63 12.85,52.31 9.87,57.31 C8.75,58.11 7.26,58.11 6.14,57.31 C3.16,52.31 2.79,46.63 8.0,46.63 Z" fill="#cccccc"/><path d="M8.07,47.97 C11.48,47.97 11.23,51.68 9.29,54.95 C8.56,55.47 7.59,55.47 6.86,54.95 C4.91,51.68 4.67,47.97 8.07,47.97 Z" fill="#adadad"/><path d="M8.13,49.16 C9.94,49.16 9.81,51.13 8.78,52.86 C8.39,53.14 7.87,53.14 7.49,52.86 C6.45,51.13 6.32,49.16 8.13,49.16 Z" fill="#737373"/><path d="M35.8,42.0 C45.32,42.0 44.64,53.6 39.2,63.81 C37.16,65.43 34.44,65.43 32.4,63.81 C26.96,53.6 26.28,42.0 35.8,42.0 Z" fill="#8f8f8f"/><path d="M35.82,42.65 C44.39,42.65 43.78,53.09 38.88,62.28 C37.04,63.74 34.6,63.74 32.76,62.28 C27.86,53.09 27.25,42.65 35.82,42.65 Z" fill="#b2b2b2"/><path d="M35.85,43.49 C43.18,43.49 42.65,52.43 38.46,60.29 C36.89,61.54 34.8,61.54 33.23,60.29 C29.04,52.43 28.52,43.49 35.85,43.49 Z" fill="#c4c4c4"/><path d="M35.88,44.47 C41.78,44.47 41.36,51.66 37.98,57.99 C36.72,59.0 35.03,59.0 33.77,57.99 C30.4,51.66 29.97,44.47 35.88,44.47 Z" fill="#a3a3a3"/><path d="M35.9,45.31 C40.57,45.31 40.23,51.0 37.57,56.0 C36.57,56.8 35.24,56.8 34.24,56.0 C31.57,51.0 31.24,45.31 35.9,45.31 Z" fill="#cccccc"/><path d="M35.94,46.42 C38.98,46.42 38.76,50.13 37.02,53.4 C36.37,53.92 35.5,53.92 34.85,53.4 C33.11,50.13 32.89,46.42 35.94,46.42 Z" fill="#adadad"/><path d="M35.97,47.4 C37.58,47.4 37.47,49.37 36.54,51.1 C36.2,51.38 35.73,51.38 35.39,51.1 C34.46,49.37 34.35,47.4 35.97,47.4 Z" fill="#737373"/>
</g></g>
<rect x="21.30" y="0.3" width="32.6" height="21" fill="none" stroke="#2a2a2a" stroke-width="1.3"/>
</g>
<text x="455.2" y="143.5" font-size="12" text-anchor="middle" fill="#111">0.07%</text>
<g transform="translate(514.8,146.4)">
<path d="M0,0.5H65V65" fill="none" stroke="#a8a8a8" stroke-width="1"/>
<path d="M0,0V65H65" fill="none" stroke="#5a5a5a" stroke-width="1"/>
<path d="M-2.4,0.5H0M-2.4,16.1H0M-2.4,32H0M-2.4,48.3H0" stroke="#555" stroke-width="1"/>
<path d="M-1.3,4.9H0M-1.3,8.3H0M-1.3,11.0H0M-1.3,13.4H0M-1.3,18.8H0M-1.3,21.0H0M-1.3,23.0H0M-1.3,24.9H0M-1.3,26.7H0M-1.3,28.5H0M-1.3,30.2H0M-1.3,34.7H0M-1.3,37.0H0M-1.3,39.0H0M-1.3,40.9H0M-1.3,42.7H0M-1.3,44.4H0M-1.3,46.0H0M-1.3,51H0M-1.3,53.5H0M-1.3,56H0M-1.3,58.5H0M-1.3,61H0" stroke="#999" stroke-width="0.7"/>
<path d="M15.7,65V67.3M21.7,65V67.3M31.7,65V67.3M48.5,65V67.3M54.6,65V67.3M63.8,65V67.3" stroke="#666" stroke-width="1"/>
<text x="-12.3" y="10.7" font-size="6" fill="#1a1a1a" stroke="#1a1a1a" stroke-width="0.25">10</text><text x="-6.2" y="6.3999999999999995" font-size="6" fill="#1a1a1a" stroke="#1a1a1a" stroke-width="0.25">3</text>
<text x="-12.3" y="20.5" font-size="6" fill="#1a1a1a" stroke="#1a1a1a" stroke-width="0.25">10</text><text x="-6.2" y="16.2" font-size="6" fill="#1a1a1a" stroke="#1a1a1a" stroke-width="0.25">2</text>
<text x="-12.3" y="37" font-size="6" fill="#1a1a1a" stroke="#1a1a1a" stroke-width="0.25">10</text><text x="-6.2" y="32.7" font-size="6" fill="#1a1a1a" stroke="#1a1a1a" stroke-width="0.25">1</text>
<text x="-12.3" y="53.3" font-size="6" fill="#1a1a1a" stroke="#1a1a1a" stroke-width="0.25">10</text><text x="-6.2" y="49.0" font-size="6" fill="#1a1a1a" stroke="#1a1a1a" stroke-width="0.25">0</text>
<text x="14.9" y="75.8" font-size="6" fill="#1a1a1a" stroke="#1a1a1a" stroke-width="0.25">10</text><text x="20.9" y="71.4" font-size="6" fill="#1a1a1a" stroke="#1a1a1a" stroke-width="0.25">0</text>
<text x="31.2" y="75.8" font-size="6" fill="#1a1a1a" stroke="#1a1a1a" stroke-width="0.25">10</text><text x="37.2" y="71.4" font-size="6" fill="#1a1a1a" stroke="#1a1a1a" stroke-width="0.25">1</text>
<text x="47.5" y="75.8" font-size="6" fill="#1a1a1a" stroke="#1a1a1a" stroke-width="0.25">10</text><text x="53.5" y="71.4" font-size="6" fill="#1a1a1a" stroke="#1a1a1a" stroke-width="0.25">2</text>
<text x="55.9" y="75.8" font-size="6" fill="#1a1a1a" stroke="#1a1a1a" stroke-width="0.25">10</text><text x="61.9" y="71.4" font-size="6" fill="#1a1a1a" stroke="#1a1a1a" stroke-width="0.25">3</text>
</g>
<g transform="translate(514.8,146.4)"><g clip-path="url(#pc)"><g filter="url(#dC)">
<ellipse cx="25" cy="28" rx="26" ry="14" fill-opacity="0.065"/><path d="M0,41 C4,34 14,32 25,32 C36,32 45,34 49,41 Z" fill-opacity="0.15"/><path d="M0,42.5 C6,38.5 18,38 28,38 C38,38 45,38.5 48.5,41.5 L48.5,42.5 Z" fill-opacity="0.18"/><path d="M-2,42.5 C10,41.5 30,41 41,41 C45,41 47.5,41.5 47.5,44 C47.5,50 45,58 43.5,66 L-2,66 Z" fill-opacity="0.6"/><ellipse cx="37.5" cy="8.8" rx="10" ry="5" transform="rotate(-32 37.5 8.8)" fill-opacity="0.059"/><ellipse cx="39.3" cy="7.2" rx="5.6" ry="2.6" transform="rotate(-32 39.3 7.2)" fill-opacity="0.234"/><path d="M7.8,42.6 C18.44,42.6 17.68,54.2 11.6,64.41 C9.32,66.03 6.28,66.03 4.0,64.41 C-2.08,54.2 -2.84,42.6 7.8,42.6 Z" fill-opacity="0.2"/><path d="M7.84,43.39 C17.42,43.39 16.73,53.83 11.26,63.02 C9.21,64.48 6.47,64.48 4.42,63.02 C-1.05,53.83 -1.74,43.39 7.84,43.39 Z" fill-opacity="0.2"/>
</g><g filter="url(#soft)">
<path d="M7.8,42.6 C18.44,42.6 17.68,54.2 11.6,64.41 C9.32,66.03 6.28,66.03 4.0,64.41 C-2.08,54.2 -2.84,42.6 7.8,42.6 Z" fill="#8f8f8f"/><path d="M7.84,43.39 C17.42,43.39 16.73,53.83 11.26,63.02 C9.21,64.48 6.47,64.48 4.42,63.02 C-1.05,53.83 -1.74,43.39 7.84,43.39 Z" fill="#b2b2b2"/><path d="M7.89,44.42 C16.08,44.42 15.5,53.35 10.82,61.21 C9.06,62.46 6.72,62.46 4.97,61.21 C0.28,53.35 -0.3,44.42 7.89,44.42 Z" fill="#c4c4c4"/><path d="M7.95,45.6 C14.55,45.6 14.08,52.79 10.31,59.12 C8.89,60.13 7.01,60.13 5.6,59.12 C1.83,52.79 1.36,45.6 7.95,45.6 Z" fill="#a3a3a3"/><path d="M8.0,46.63 C13.22,46.63 12.85,52.31 9.87,57.31 C8.75,58.11 7.26,58.11 6.14,57.31 C3.16,52.31 2.79,46.63 8.0,46.63 Z" fill="#cccccc"/><path d="M8.07,47.97 C11.48,47.97 11.23,51.68 9.29,54.95 C8.56,55.47 7.59,55.47 6.86,54.95 C4.91,51.68 4.67,47.97 8.07,47.97 Z" fill="#adadad"/><path d="M8.13,49.16 C9.94,49.16 9.81,51.13 8.78,52.86 C8.39,53.14 7.87,53.14 7.49,52.86 C6.45,51.13 6.32,49.16 8.13,49.16 Z" fill="#737373"/><path d="M35.8,42.0 C45.32,42.0 44.64,53.6 39.2,63.81 C37.16,65.43 34.44,65.43 32.4,63.81 C26.96,53.6 26.28,42.0 35.8,42.0 Z" fill="#8f8f8f"/><path d="M35.82,42.65 C44.39,42.65 43.78,53.09 38.88,62.28 C37.04,63.74 34.6,63.74 32.76,62.28 C27.86,53.09 27.25,42.65 35.82,42.65 Z" fill="#b2b2b2"/><path d="M35.85,43.49 C43.18,43.49 42.65,52.43 38.46,60.29 C36.89,61.54 34.8,61.54 33.23,60.29 C29.04,52.43 28.52,43.49 35.85,43.49 Z" fill="#c4c4c4"/><path d="M35.88,44.47 C41.78,44.47 41.36,51.66 37.98,57.99 C36.72,59.0 35.03,59.0 33.77,57.99 C30.4,51.66 29.97,44.47 35.88,44.47 Z" fill="#a3a3a3"/><path d="M35.9,45.31 C40.57,45.31 40.23,51.0 37.57,56.0 C36.57,56.8 35.24,56.8 34.24,56.0 C31.57,51.0 31.24,45.31 35.9,45.31 Z" fill="#cccccc"/><path d="M35.94,46.42 C38.98,46.42 38.76,50.13 37.02,53.4 C36.37,53.92 35.5,53.92 34.85,53.4 C33.11,50.13 32.89,46.42 35.94,46.42 Z" fill="#adadad"/><path d="M35.97,47.4 C37.58,47.4 37.47,49.37 36.54,51.1 C36.2,51.38 35.73,51.38 35.39,51.1 C34.46,49.37 34.35,47.4 35.97,47.4 Z" fill="#737373"/>
</g></g>
<rect x="21.10" y="0.3" width="32.6" height="21" fill="none" stroke="#2a2a2a" stroke-width="1.3"/>
</g>
<text x="553" y="143.5" font-size="12" text-anchor="middle" fill="#111">0.04%</text>
<g transform="translate(613.3,146.4)">
<path d="M0,0.5H65V65" fill="none" stroke="#a8a8a8" stroke-width="1"/>
<path d="M0,0V65H65" fill="none" stroke="#5a5a5a" stroke-width="1"/>
<path d="M-2.4,0.5H0M-2.4,16.1H0M-2.4,32H0M-2.4,48.3H0" stroke="#555" stroke-width="1"/>
<path d="M-1.3,4.9H0M-1.3,8.3H0M-1.3,11.0H0M-1.3,13.4H0M-1.3,18.8H0M-1.3,21.0H0M-1.3,23.0H0M-1.3,24.9H0M-1.3,26.7H0M-1.3,28.5H0M-1.3,30.2H0M-1.3,34.7H0M-1.3,37.0H0M-1.3,39.0H0M-1.3,40.9H0M-1.3,42.7H0M-1.3,44.4H0M-1.3,46.0H0M-1.3,51H0M-1.3,53.5H0M-1.3,56H0M-1.3,58.5H0M-1.3,61H0" stroke="#999" stroke-width="0.7"/>
<path d="M15.7,65V67.3M21.7,65V67.3M31.7,65V67.3M48.5,65V67.3M54.6,65V67.3M63.8,65V67.3" stroke="#666" stroke-width="1"/>
<text x="-12.3" y="10.7" font-size="6" fill="#1a1a1a" stroke="#1a1a1a" stroke-width="0.25">10</text><text x="-6.2" y="6.3999999999999995" font-size="6" fill="#1a1a1a" stroke="#1a1a1a" stroke-width="0.25">3</text>
<text x="-12.3" y="20.5" font-size="6" fill="#1a1a1a" stroke="#1a1a1a" stroke-width="0.25">10</text><text x="-6.2" y="16.2" font-size="6" fill="#1a1a1a" stroke="#1a1a1a" stroke-width="0.25">2</text>
<text x="-12.3" y="37" font-size="6" fill="#1a1a1a" stroke="#1a1a1a" stroke-width="0.25">10</text><text x="-6.2" y="32.7" font-size="6" fill="#1a1a1a" stroke="#1a1a1a" stroke-width="0.25">1</text>
<text x="-12.3" y="53.3" font-size="6" fill="#1a1a1a" stroke="#1a1a1a" stroke-width="0.25">10</text><text x="-6.2" y="49.0" font-size="6" fill="#1a1a1a" stroke="#1a1a1a" stroke-width="0.25">0</text>
<text x="14.9" y="75.8" font-size="6" fill="#1a1a1a" stroke="#1a1a1a" stroke-width="0.25">10</text><text x="20.9" y="71.4" font-size="6" fill="#1a1a1a" stroke="#1a1a1a" stroke-width="0.25">0</text>
<text x="31.2" y="75.8" font-size="6" fill="#1a1a1a" stroke="#1a1a1a" stroke-width="0.25">10</text><text x="37.2" y="71.4" font-size="6" fill="#1a1a1a" stroke="#1a1a1a" stroke-width="0.25">1</text>
<text x="47.5" y="75.8" font-size="6" fill="#1a1a1a" stroke="#1a1a1a" stroke-width="0.25">10</text><text x="53.5" y="71.4" font-size="6" fill="#1a1a1a" stroke="#1a1a1a" stroke-width="0.25">2</text>
<text x="55.9" y="75.8" font-size="6" fill="#1a1a1a" stroke="#1a1a1a" stroke-width="0.25">10</text><text x="61.9" y="71.4" font-size="6" fill="#1a1a1a" stroke="#1a1a1a" stroke-width="0.25">3</text>
</g>
<g transform="translate(613.3,146.4)"><g clip-path="url(#pc)"><g filter="url(#dA)">
<ellipse cx="25" cy="28" rx="26" ry="14" fill-opacity="0.065"/><path d="M0,41 C4,34 14,32 25,32 C36,32 45,34 49,41 Z" fill-opacity="0.15"/><path d="M0,42.5 C6,38.5 18,38 28,38 C38,38 45,38.5 48.5,41.5 L48.5,42.5 Z" fill-opacity="0.18"/><path d="M-2,42.5 C10,41.5 30,41 41,41 C45,41 47.5,41.5 47.5,44 C47.5,50 45,58 43.5,66 L-2,66 Z" fill-opacity="0.6"/><ellipse cx="37.5" cy="8.8" rx="10" ry="5" transform="rotate(-32 37.5 8.8)" fill-opacity="0.185"/><ellipse cx="39.3" cy="7.2" rx="5.6" ry="2.6" transform="rotate(-32 39.3 7.2)" fill-opacity="0.62"/><path d="M7.8,42.6 C18.44,42.6 17.68,54.2 11.6,64.41 C9.32,66.03 6.28,66.03 4.0,64.41 C-2.08,54.2 -2.84,42.6 7.8,42.6 Z" fill-opacity="0.2"/><path d="M7.84,43.39 C17.42,43.39 16.73,53.83 11.26,63.02 C9.21,64.48 6.47,64.48 4.42,63.02 C-1.05,53.83 -1.74,43.39 7.84,43.39 Z" fill-opacity="0.2"/>
</g><g filter="url(#soft)">
<path d="M7.8,42.6 C18.44,42.6 17.68,54.2 11.6,64.41 C9.32,66.03 6.28,66.03 4.0,64.41 C-2.08,54.2 -2.84,42.6 7.8,42.6 Z" fill="#8f8f8f"/><path d="M7.84,43.39 C17.42,43.39 16.73,53.83 11.26,63.02 C9.21,64.48 6.47,64.48 4.42,63.02 C-1.05,53.83 -1.74,43.39 7.84,43.39 Z" fill="#b2b2b2"/><path d="M7.89,44.42 C16.08,44.42 15.5,53.35 10.82,61.21 C9.06,62.46 6.72,62.46 4.97,61.21 C0.28,53.35 -0.3,44.42 7.89,44.42 Z" fill="#c4c4c4"/><path d="M7.95,45.6 C14.55,45.6 14.08,52.79 10.31,59.12 C8.89,60.13 7.01,60.13 5.6,59.12 C1.83,52.79 1.36,45.6 7.95,45.6 Z" fill="#a3a3a3"/><path d="M8.0,46.63 C13.22,46.63 12.85,52.31 9.87,57.31 C8.75,58.11 7.26,58.11 6.14,57.31 C3.16,52.31 2.79,46.63 8.0,46.63 Z" fill="#cccccc"/><path d="M8.07,47.97 C11.48,47.97 11.23,51.68 9.29,54.95 C8.56,55.47 7.59,55.47 6.86,54.95 C4.91,51.68 4.67,47.97 8.07,47.97 Z" fill="#adadad"/><path d="M8.13,49.16 C9.94,49.16 9.81,51.13 8.78,52.86 C8.39,53.14 7.87,53.14 7.49,52.86 C6.45,51.13 6.32,49.16 8.13,49.16 Z" fill="#737373"/><path d="M35.8,42.0 C45.32,42.0 44.64,53.6 39.2,63.81 C37.16,65.43 34.44,65.43 32.4,63.81 C26.96,53.6 26.28,42.0 35.8,42.0 Z" fill="#8f8f8f"/><path d="M35.82,42.65 C44.39,42.65 43.78,53.09 38.88,62.28 C37.04,63.74 34.6,63.74 32.76,62.28 C27.86,53.09 27.25,42.65 35.82,42.65 Z" fill="#b2b2b2"/><path d="M35.85,43.49 C43.18,43.49 42.65,52.43 38.46,60.29 C36.89,61.54 34.8,61.54 33.23,60.29 C29.04,52.43 28.52,43.49 35.85,43.49 Z" fill="#c4c4c4"/><path d="M35.88,44.47 C41.78,44.47 41.36,51.66 37.98,57.99 C36.72,59.0 35.03,59.0 33.77,57.99 C30.4,51.66 29.97,44.47 35.88,44.47 Z" fill="#a3a3a3"/><path d="M35.9,45.31 C40.57,45.31 40.23,51.0 37.57,56.0 C36.57,56.8 35.24,56.8 34.24,56.0 C31.57,51.0 31.24,45.31 35.9,45.31 Z" fill="#cccccc"/><path d="M35.94,46.42 C38.98,46.42 38.76,50.13 37.02,53.4 C36.37,53.92 35.5,53.92 34.85,53.4 C33.11,50.13 32.89,46.42 35.94,46.42 Z" fill="#adadad"/><path d="M35.97,47.4 C37.58,47.4 37.47,49.37 36.54,51.1 C36.2,51.38 35.73,51.38 35.39,51.1 C34.46,49.37 34.35,47.4 35.97,47.4 Z" fill="#737373"/>
</g></g>
<rect x="20.30" y="0.3" width="32.6" height="21" fill="none" stroke="#2a2a2a" stroke-width="1.3"/>
</g>
<text x="650.8" y="143.5" font-size="12" text-anchor="middle" fill="#111">0.77%</text>
<g transform="translate(121.5,246.4)">
<path d="M0,0.5H65V65" fill="none" stroke="#a8a8a8" stroke-width="1"/>
<path d="M0,0V65H65" fill="none" stroke="#5a5a5a" stroke-width="1"/>
<path d="M-2.4,0.5H0M-2.4,16.1H0M-2.4,32H0M-2.4,48.3H0" stroke="#555" stroke-width="1"/>
<path d="M-1.3,4.9H0M-1.3,8.3H0M-1.3,11.0H0M-1.3,13.4H0M-1.3,18.8H0M-1.3,21.0H0M-1.3,23.0H0M-1.3,24.9H0M-1.3,26.7H0M-1.3,28.5H0M-1.3,30.2H0M-1.3,34.7H0M-1.3,37.0H0M-1.3,39.0H0M-1.3,40.9H0M-1.3,42.7H0M-1.3,44.4H0M-1.3,46.0H0M-1.3,51H0M-1.3,53.5H0M-1.3,56H0M-1.3,58.5H0M-1.3,61H0" stroke="#999" stroke-width="0.7"/>
<path d="M15.7,65V67.3M21.7,65V67.3M31.7,65V67.3M48.5,65V67.3M54.6,65V67.3M63.8,65V67.3" stroke="#666" stroke-width="1"/>
<text x="-12.3" y="10.7" font-size="6" fill="#1a1a1a" stroke="#1a1a1a" stroke-width="0.25">10</text><text x="-6.2" y="6.3999999999999995" font-size="6" fill="#1a1a1a" stroke="#1a1a1a" stroke-width="0.25">3</text>
<text x="-12.3" y="20.5" font-size="6" fill="#1a1a1a" stroke="#1a1a1a" stroke-width="0.25">10</text><text x="-6.2" y="16.2" font-size="6" fill="#1a1a1a" stroke="#1a1a1a" stroke-width="0.25">2</text>
<text x="-12.3" y="37" font-size="6" fill="#1a1a1a" stroke="#1a1a1a" stroke-width="0.25">10</text><text x="-6.2" y="32.7" font-size="6" fill="#1a1a1a" stroke="#1a1a1a" stroke-width="0.25">1</text>
<text x="-12.3" y="53.3" font-size="6" fill="#1a1a1a" stroke="#1a1a1a" stroke-width="0.25">10</text><text x="-6.2" y="49.0" font-size="6" fill="#1a1a1a" stroke="#1a1a1a" stroke-width="0.25">0</text>
<text x="14.9" y="75.8" font-size="6" fill="#1a1a1a" stroke="#1a1a1a" stroke-width="0.25">10</text><text x="20.9" y="71.4" font-size="6" fill="#1a1a1a" stroke="#1a1a1a" stroke-width="0.25">0</text>
<text x="31.2" y="75.8" font-size="6" fill="#1a1a1a" stroke="#1a1a1a" stroke-width="0.25">10</text><text x="37.2" y="71.4" font-size="6" fill="#1a1a1a" stroke="#1a1a1a" stroke-width="0.25">1</text>
<text x="47.5" y="75.8" font-size="6" fill="#1a1a1a" stroke="#1a1a1a" stroke-width="0.25">10</text><text x="53.5" y="71.4" font-size="6" fill="#1a1a1a" stroke="#1a1a1a" stroke-width="0.25">2</text>
<text x="55.9" y="75.8" font-size="6" fill="#1a1a1a" stroke="#1a1a1a" stroke-width="0.25">10</text><text x="61.9" y="71.4" font-size="6" fill="#1a1a1a" stroke="#1a1a1a" stroke-width="0.25">3</text>
</g>
<g transform="translate(121.5,246.4)"><g clip-path="url(#pc)"><g filter="url(#dC)">
<ellipse cx="25" cy="28" rx="26" ry="14" fill-opacity="0.065"/><path d="M0,41 C4,34 14,32 25,32 C36,32 45,34 49,41 Z" fill-opacity="0.15"/><path d="M0,42.5 C6,38.5 18,38 28,38 C38,38 45,38.5 48.5,41.5 L48.5,42.5 Z" fill-opacity="0.18"/><path d="M-2,42.5 C10,41.5 30,41 41,41 C45,41 47.5,41.5 47.5,44 C47.5,50 45,58 43.5,66 L-2,66 Z" fill-opacity="0.6"/><ellipse cx="37.5" cy="8.8" rx="10" ry="5" transform="rotate(-32 37.5 8.8)" fill-opacity="0.023"/><ellipse cx="39.3" cy="7.2" rx="5.6" ry="2.6" transform="rotate(-32 39.3 7.2)" fill-opacity="0.091"/><path d="M7.8,42.6 C18.44,42.6 17.68,54.2 11.6,64.41 C9.32,66.03 6.28,66.03 4.0,64.41 C-2.08,54.2 -2.84,42.6 7.8,42.6 Z" fill-opacity="0.2"/><path d="M7.84,43.39 C17.42,43.39 16.73,53.83 11.26,63.02 C9.21,64.48 6.47,64.48 4.42,63.02 C-1.05,53.83 -1.74,43.39 7.84,43.39 Z" fill-opacity="0.2"/>
</g><g filter="url(#soft)">
<path d="M7.8,42.6 C18.44,42.6 17.68,54.2 11.6,64.41 C9.32,66.03 6.28,66.03 4.0,64.41 C-2.08,54.2 -2.84,42.6 7.8,42.6 Z" fill="#8f8f8f"/><path d="M7.84,43.39 C17.42,43.39 16.73,53.83 11.26,63.02 C9.21,64.48 6.47,64.48 4.42,63.02 C-1.05,53.83 -1.74,43.39 7.84,43.39 Z" fill="#b2b2b2"/><path d="M7.89,44.42 C16.08,44.42 15.5,53.35 10.82,61.21 C9.06,62.46 6.72,62.46 4.97,61.21 C0.28,53.35 -0.3,44.42 7.89,44.42 Z" fill="#c4c4c4"/><path d="M7.95,45.6 C14.55,45.6 14.08,52.79 10.31,59.12 C8.89,60.13 7.01,60.13 5.6,59.12 C1.83,52.79 1.36,45.6 7.95,45.6 Z" fill="#a3a3a3"/><path d="M8.0,46.63 C13.22,46.63 12.85,52.31 9.87,57.31 C8.75,58.11 7.26,58.11 6.14,57.31 C3.16,52.31 2.79,46.63 8.0,46.63 Z" fill="#cccccc"/><path d="M8.07,47.97 C11.48,47.97 11.23,51.68 9.29,54.95 C8.56,55.47 7.59,55.47 6.86,54.95 C4.91,51.68 4.67,47.97 8.07,47.97 Z" fill="#adadad"/><path d="M8.13,49.16 C9.94,49.16 9.81,51.13 8.78,52.86 C8.39,53.14 7.87,53.14 7.49,52.86 C6.45,51.13 6.32,49.16 8.13,49.16 Z" fill="#737373"/><path d="M35.8,42.0 C45.32,42.0 44.64,53.6 39.2,63.81 C37.16,65.43 34.44,65.43 32.4,63.81 C26.96,53.6 26.28,42.0 35.8,42.0 Z" fill="#8f8f8f"/><path d="M35.82,42.65 C44.39,42.65 43.78,53.09 38.88,62.28 C37.04,63.74 34.6,63.74 32.76,62.28 C27.86,53.09 27.25,42.65 35.82,42.65 Z" fill="#b2b2b2"/><path d="M35.85,43.49 C43.18,43.49 42.65,52.43 38.46,60.29 C36.89,61.54 34.8,61.54 33.23,60.29 C29.04,52.43 28.52,43.49 35.85,43.49 Z" fill="#c4c4c4"/><path d="M35.88,44.47 C41.78,44.47 41.36,51.66 37.98,57.99 C36.72,59.0 35.03,59.0 33.77,57.99 C30.4,51.66 29.97,44.47 35.88,44.47 Z" fill="#a3a3a3"/><path d="M35.9,45.31 C40.57,45.31 40.23,51.0 37.57,56.0 C36.57,56.8 35.24,56.8 34.24,56.0 C31.57,51.0 31.24,45.31 35.9,45.31 Z" fill="#cccccc"/><path d="M35.94,46.42 C38.98,46.42 38.76,50.13 37.02,53.4 C36.37,53.92 35.5,53.92 34.85,53.4 C33.11,50.13 32.89,46.42 35.94,46.42 Z" fill="#adadad"/><path d="M35.97,47.4 C37.58,47.4 37.47,49.37 36.54,51.1 C36.2,51.38 35.73,51.38 35.39,51.1 C34.46,49.37 34.35,47.4 35.97,47.4 Z" fill="#737373"/>
</g></g>
<rect x="22.10" y="0.3" width="32.6" height="21" fill="none" stroke="#2a2a2a" stroke-width="1.3"/>
</g>
<text x="162.6" y="243.5" font-size="12" text-anchor="middle" fill="#111">0.01%</text>
<g transform="translate(219.8,246.4)">
<path d="M0,0.5H65V65" fill="none" stroke="#a8a8a8" stroke-width="1"/>
<path d="M0,0V65H65" fill="none" stroke="#5a5a5a" stroke-width="1"/>
<path d="M-2.4,0.5H0M-2.4,16.1H0M-2.4,32H0M-2.4,48.3H0" stroke="#555" stroke-width="1"/>
<path d="M-1.3,4.9H0M-1.3,8.3H0M-1.3,11.0H0M-1.3,13.4H0M-1.3,18.8H0M-1.3,21.0H0M-1.3,23.0H0M-1.3,24.9H0M-1.3,26.7H0M-1.3,28.5H0M-1.3,30.2H0M-1.3,34.7H0M-1.3,37.0H0M-1.3,39.0H0M-1.3,40.9H0M-1.3,42.7H0M-1.3,44.4H0M-1.3,46.0H0M-1.3,51H0M-1.3,53.5H0M-1.3,56H0M-1.3,58.5H0M-1.3,61H0" stroke="#999" stroke-width="0.7"/>
<path d="M15.7,65V67.3M21.7,65V67.3M31.7,65V67.3M48.5,65V67.3M54.6,65V67.3M63.8,65V67.3" stroke="#666" stroke-width="1"/>
<text x="-12.3" y="10.7" font-size="6" fill="#1a1a1a" stroke="#1a1a1a" stroke-width="0.25">10</text><text x="-6.2" y="6.3999999999999995" font-size="6" fill="#1a1a1a" stroke="#1a1a1a" stroke-width="0.25">3</text>
<text x="-12.3" y="20.5" font-size="6" fill="#1a1a1a" stroke="#1a1a1a" stroke-width="0.25">10</text><text x="-6.2" y="16.2" font-size="6" fill="#1a1a1a" stroke="#1a1a1a" stroke-width="0.25">2</text>
<text x="-12.3" y="37" font-size="6" fill="#1a1a1a" stroke="#1a1a1a" stroke-width="0.25">10</text><text x="-6.2" y="32.7" font-size="6" fill="#1a1a1a" stroke="#1a1a1a" stroke-width="0.25">1</text>
<text x="-12.3" y="53.3" font-size="6" fill="#1a1a1a" stroke="#1a1a1a" stroke-width="0.25">10</text><text x="-6.2" y="49.0" font-size="6" fill="#1a1a1a" stroke="#1a1a1a" stroke-width="0.25">0</text>
<text x="14.9" y="75.8" font-size="6" fill="#1a1a1a" stroke="#1a1a1a" stroke-width="0.25">10</text><text x="20.9" y="71.4" font-size="6" fill="#1a1a1a" stroke="#1a1a1a" stroke-width="0.25">0</text>
<text x="31.2" y="75.8" font-size="6" fill="#1a1a1a" stroke="#1a1a1a" stroke-width="0.25">10</text><text x="37.2" y="71.4" font-size="6" fill="#1a1a1a" stroke="#1a1a1a" stroke-width="0.25">1</text>
<text x="47.5" y="75.8" font-size="6" fill="#1a1a1a" stroke="#1a1a1a" stroke-width="0.25">10</text><text x="53.5" y="71.4" font-size="6" fill="#1a1a1a" stroke="#1a1a1a" stroke-width="0.25">2</text>
<text x="55.9" y="75.8" font-size="6" fill="#1a1a1a" stroke="#1a1a1a" stroke-width="0.25">10</text><text x="61.9" y="71.4" font-size="6" fill="#1a1a1a" stroke="#1a1a1a" stroke-width="0.25">3</text>
</g>
<g transform="translate(219.8,246.4)"><g clip-path="url(#pc)"><g filter="url(#dA)">
<ellipse cx="25" cy="28" rx="26" ry="14" fill-opacity="0.065"/><path d="M0,41 C4,34 14,32 25,32 C36,32 45,34 49,41 Z" fill-opacity="0.15"/><path d="M0,42.5 C6,38.5 18,38 28,38 C38,38 45,38.5 48.5,41.5 L48.5,42.5 Z" fill-opacity="0.18"/><path d="M-2,42.5 C10,41.5 30,41 41,41 C45,41 47.5,41.5 47.5,44 C47.5,50 45,58 43.5,66 L-2,66 Z" fill-opacity="0.6"/><ellipse cx="37.5" cy="8.8" rx="10" ry="5" transform="rotate(-32 37.5 8.8)" fill-opacity="0.023"/><ellipse cx="39.3" cy="7.2" rx="5.6" ry="2.6" transform="rotate(-32 39.3 7.2)" fill-opacity="0.091"/><path d="M7.8,42.6 C18.44,42.6 17.68,54.2 11.6,64.41 C9.32,66.03 6.28,66.03 4.0,64.41 C-2.08,54.2 -2.84,42.6 7.8,42.6 Z" fill-opacity="0.2"/><path d="M7.84,43.39 C17.42,43.39 16.73,53.83 11.26,63.02 C9.21,64.48 6.47,64.48 4.42,63.02 C-1.05,53.83 -1.74,43.39 7.84,43.39 Z" fill-opacity="0.2"/>
</g><g filter="url(#soft)">
<path d="M7.8,42.6 C18.44,42.6 17.68,54.2 11.6,64.41 C9.32,66.03 6.28,66.03 4.0,64.41 C-2.08,54.2 -2.84,42.6 7.8,42.6 Z" fill="#8f8f8f"/><path d="M7.84,43.39 C17.42,43.39 16.73,53.83 11.26,63.02 C9.21,64.48 6.47,64.48 4.42,63.02 C-1.05,53.83 -1.74,43.39 7.84,43.39 Z" fill="#b2b2b2"/><path d="M7.89,44.42 C16.08,44.42 15.5,53.35 10.82,61.21 C9.06,62.46 6.72,62.46 4.97,61.21 C0.28,53.35 -0.3,44.42 7.89,44.42 Z" fill="#c4c4c4"/><path d="M7.95,45.6 C14.55,45.6 14.08,52.79 10.31,59.12 C8.89,60.13 7.01,60.13 5.6,59.12 C1.83,52.79 1.36,45.6 7.95,45.6 Z" fill="#a3a3a3"/><path d="M8.0,46.63 C13.22,46.63 12.85,52.31 9.87,57.31 C8.75,58.11 7.26,58.11 6.14,57.31 C3.16,52.31 2.79,46.63 8.0,46.63 Z" fill="#cccccc"/><path d="M8.07,47.97 C11.48,47.97 11.23,51.68 9.29,54.95 C8.56,55.47 7.59,55.47 6.86,54.95 C4.91,51.68 4.67,47.97 8.07,47.97 Z" fill="#adadad"/><path d="M8.13,49.16 C9.94,49.16 9.81,51.13 8.78,52.86 C8.39,53.14 7.87,53.14 7.49,52.86 C6.45,51.13 6.32,49.16 8.13,49.16 Z" fill="#737373"/><path d="M35.8,42.0 C45.32,42.0 44.64,53.6 39.2,63.81 C37.16,65.43 34.44,65.43 32.4,63.81 C26.96,53.6 26.28,42.0 35.8,42.0 Z" fill="#8f8f8f"/><path d="M35.82,42.65 C44.39,42.65 43.78,53.09 38.88,62.28 C37.04,63.74 34.6,63.74 32.76,62.28 C27.86,53.09 27.25,42.65 35.82,42.65 Z" fill="#b2b2b2"/><path d="M35.85,43.49 C43.18,43.49 42.65,52.43 38.46,60.29 C36.89,61.54 34.8,61.54 33.23,60.29 C29.04,52.43 28.52,43.49 35.85,43.49 Z" fill="#c4c4c4"/><path d="M35.88,44.47 C41.78,44.47 41.36,51.66 37.98,57.99 C36.72,59.0 35.03,59.0 33.77,57.99 C30.4,51.66 29.97,44.47 35.88,44.47 Z" fill="#a3a3a3"/><path d="M35.9,45.31 C40.57,45.31 40.23,51.0 37.57,56.0 C36.57,56.8 35.24,56.8 34.24,56.0 C31.57,51.0 31.24,45.31 35.9,45.31 Z" fill="#cccccc"/><path d="M35.94,46.42 C38.98,46.42 38.76,50.13 37.02,53.4 C36.37,53.92 35.5,53.92 34.85,53.4 C33.11,50.13 32.89,46.42 35.94,46.42 Z" fill="#adadad"/><path d="M35.97,47.4 C37.58,47.4 37.47,49.37 36.54,51.1 C36.2,51.38 35.73,51.38 35.39,51.1 C34.46,49.37 34.35,47.4 35.97,47.4 Z" fill="#737373"/>
</g></g>
<rect x="22.00" y="0.3" width="32.6" height="21" fill="none" stroke="#2a2a2a" stroke-width="1.3"/>
</g>
<text x="260.3" y="243.5" font-size="12" text-anchor="middle" fill="#111">0.01%</text>
<g transform="translate(318.2,246.4)">
<path d="M0,0.5H65V65" fill="none" stroke="#a8a8a8" stroke-width="1"/>
<path d="M0,0V65H65" fill="none" stroke="#5a5a5a" stroke-width="1"/>
<path d="M-2.4,0.5H0M-2.4,16.1H0M-2.4,32H0M-2.4,48.3H0" stroke="#555" stroke-width="1"/>
<path d="M-1.3,4.9H0M-1.3,8.3H0M-1.3,11.0H0M-1.3,13.4H0M-1.3,18.8H0M-1.3,21.0H0M-1.3,23.0H0M-1.3,24.9H0M-1.3,26.7H0M-1.3,28.5H0M-1.3,30.2H0M-1.3,34.7H0M-1.3,37.0H0M-1.3,39.0H0M-1.3,40.9H0M-1.3,42.7H0M-1.3,44.4H0M-1.3,46.0H0M-1.3,51H0M-1.3,53.5H0M-1.3,56H0M-1.3,58.5H0M-1.3,61H0" stroke="#999" stroke-width="0.7"/>
<path d="M15.7,65V67.3M21.7,65V67.3M31.7,65V67.3M48.5,65V67.3M54.6,65V67.3M63.8,65V67.3" stroke="#666" stroke-width="1"/>
<text x="-12.3" y="10.7" font-size="6" fill="#1a1a1a" stroke="#1a1a1a" stroke-width="0.25">10</text><text x="-6.2" y="6.3999999999999995" font-size="6" fill="#1a1a1a" stroke="#1a1a1a" stroke-width="0.25">3</text>
<text x="-12.3" y="20.5" font-size="6" fill="#1a1a1a" stroke="#1a1a1a" stroke-width="0.25">10</text><text x="-6.2" y="16.2" font-size="6" fill="#1a1a1a" stroke="#1a1a1a" stroke-width="0.25">2</text>
<text x="-12.3" y="37" font-size="6" fill="#1a1a1a" stroke="#1a1a1a" stroke-width="0.25">10</text><text x="-6.2" y="32.7" font-size="6" fill="#1a1a1a" stroke="#1a1a1a" stroke-width="0.25">1</text>
<text x="-12.3" y="53.3" font-size="6" fill="#1a1a1a" stroke="#1a1a1a" stroke-width="0.25">10</text><text x="-6.2" y="49.0" font-size="6" fill="#1a1a1a" stroke="#1a1a1a" stroke-width="0.25">0</text>
<text x="14.9" y="75.8" font-size="6" fill="#1a1a1a" stroke="#1a1a1a" stroke-width="0.25">10</text><text x="20.9" y="71.4" font-size="6" fill="#1a1a1a" stroke="#1a1a1a" stroke-width="0.25">0</text>
<text x="31.2" y="75.8" font-size="6" fill="#1a1a1a" stroke="#1a1a1a" stroke-width="0.25">10</text><text x="37.2" y="71.4" font-size="6" fill="#1a1a1a" stroke="#1a1a1a" stroke-width="0.25">1</text>
<text x="47.5" y="75.8" font-size="6" fill="#1a1a1a" stroke="#1a1a1a" stroke-width="0.25">10</text><text x="53.5" y="71.4" font-size="6" fill="#1a1a1a" stroke="#1a1a1a" stroke-width="0.25">2</text>
<text x="55.9" y="75.8" font-size="6" fill="#1a1a1a" stroke="#1a1a1a" stroke-width="0.25">10</text><text x="61.9" y="71.4" font-size="6" fill="#1a1a1a" stroke="#1a1a1a" stroke-width="0.25">3</text>
</g>
<g transform="translate(318.2,246.4)"><g clip-path="url(#pc)"><g filter="url(#dB)">
<ellipse cx="25" cy="28" rx="26" ry="14" fill-opacity="0.065"/><path d="M0,41 C4,34 14,32 25,32 C36,32 45,34 49,41 Z" fill-opacity="0.15"/><path d="M0,42.5 C6,38.5 18,38 28,38 C38,38 45,38.5 48.5,41.5 L48.5,42.5 Z" fill-opacity="0.18"/><path d="M-2,42.5 C10,41.5 30,41 41,41 C45,41 47.5,41.5 47.5,44 C47.5,50 45,58 43.5,66 L-2,66 Z" fill-opacity="0.6"/><ellipse cx="37.5" cy="8.8" rx="10" ry="5" transform="rotate(-32 37.5 8.8)" fill-opacity="0.03"/><ellipse cx="39.3" cy="7.2" rx="5.6" ry="2.6" transform="rotate(-32 39.3 7.2)" fill-opacity="0.117"/><path d="M7.8,42.6 C18.44,42.6 17.68,54.2 11.6,64.41 C9.32,66.03 6.28,66.03 4.0,64.41 C-2.08,54.2 -2.84,42.6 7.8,42.6 Z" fill-opacity="0.2"/><path d="M7.84,43.39 C17.42,43.39 16.73,53.83 11.26,63.02 C9.21,64.48 6.47,64.48 4.42,63.02 C-1.05,53.83 -1.74,43.39 7.84,43.39 Z" fill-opacity="0.2"/>
</g><g filter="url(#soft)">
<path d="M7.8,42.6 C18.44,42.6 17.68,54.2 11.6,64.41 C9.32,66.03 6.28,66.03 4.0,64.41 C-2.08,54.2 -2.84,42.6 7.8,42.6 Z" fill="#8f8f8f"/><path d="M7.84,43.39 C17.42,43.39 16.73,53.83 11.26,63.02 C9.21,64.48 6.47,64.48 4.42,63.02 C-1.05,53.83 -1.74,43.39 7.84,43.39 Z" fill="#b2b2b2"/><path d="M7.89,44.42 C16.08,44.42 15.5,53.35 10.82,61.21 C9.06,62.46 6.72,62.46 4.97,61.21 C0.28,53.35 -0.3,44.42 7.89,44.42 Z" fill="#c4c4c4"/><path d="M7.95,45.6 C14.55,45.6 14.08,52.79 10.31,59.12 C8.89,60.13 7.01,60.13 5.6,59.12 C1.83,52.79 1.36,45.6 7.95,45.6 Z" fill="#a3a3a3"/><path d="M8.0,46.63 C13.22,46.63 12.85,52.31 9.87,57.31 C8.75,58.11 7.26,58.11 6.14,57.31 C3.16,52.31 2.79,46.63 8.0,46.63 Z" fill="#cccccc"/><path d="M8.07,47.97 C11.48,47.97 11.23,51.68 9.29,54.95 C8.56,55.47 7.59,55.47 6.86,54.95 C4.91,51.68 4.67,47.97 8.07,47.97 Z" fill="#adadad"/><path d="M8.13,49.16 C9.94,49.16 9.81,51.13 8.78,52.86 C8.39,53.14 7.87,53.14 7.49,52.86 C6.45,51.13 6.32,49.16 8.13,49.16 Z" fill="#737373"/><path d="M35.8,42.0 C45.32,42.0 44.64,53.6 39.2,63.81 C37.16,65.43 34.44,65.43 32.4,63.81 C26.96,53.6 26.28,42.0 35.8,42.0 Z" fill="#8f8f8f"/><path d="M35.82,42.65 C44.39,42.65 43.78,53.09 38.88,62.28 C37.04,63.74 34.6,63.74 32.76,62.28 C27.86,53.09 27.25,42.65 35.82,42.65 Z" fill="#b2b2b2"/><path d="M35.85,43.49 C43.18,43.49 42.65,52.43 38.46,60.29 C36.89,61.54 34.8,61.54 33.23,60.29 C29.04,52.43 28.52,43.49 35.85,43.49 Z" fill="#c4c4c4"/><path d="M35.88,44.47 C41.78,44.47 41.36,51.66 37.98,57.99 C36.72,59.0 35.03,59.0 33.77,57.99 C30.4,51.66 29.97,44.47 35.88,44.47 Z" fill="#a3a3a3"/><path d="M35.9,45.31 C40.57,45.31 40.23,51.0 37.57,56.0 C36.57,56.8 35.24,56.8 34.24,56.0 C31.57,51.0 31.24,45.31 35.9,45.31 Z" fill="#cccccc"/><path d="M35.94,46.42 C38.98,46.42 38.76,50.13 37.02,53.4 C36.37,53.92 35.5,53.92 34.85,53.4 C33.11,50.13 32.89,46.42 35.94,46.42 Z" fill="#adadad"/><path d="M35.97,47.4 C37.58,47.4 37.47,49.37 36.54,51.1 C36.2,51.38 35.73,51.38 35.39,51.1 C34.46,49.37 34.35,47.4 35.97,47.4 Z" fill="#737373"/>
</g></g>
<rect x="21.60" y="0.3" width="32.6" height="21" fill="none" stroke="#2a2a2a" stroke-width="1.3"/>
</g>
<text x="357.7" y="243.5" font-size="12" text-anchor="middle" fill="#111">0.02%</text>
<g transform="translate(416.6,246.4)">
<path d="M0,0.5H65V65" fill="none" stroke="#a8a8a8" stroke-width="1"/>
<path d="M0,0V65H65" fill="none" stroke="#5a5a5a" stroke-width="1"/>
<path d="M-2.4,0.5H0M-2.4,16.1H0M-2.4,32H0M-2.4,48.3H0" stroke="#555" stroke-width="1"/>
<path d="M-1.3,4.9H0M-1.3,8.3H0M-1.3,11.0H0M-1.3,13.4H0M-1.3,18.8H0M-1.3,21.0H0M-1.3,23.0H0M-1.3,24.9H0M-1.3,26.7H0M-1.3,28.5H0M-1.3,30.2H0M-1.3,34.7H0M-1.3,37.0H0M-1.3,39.0H0M-1.3,40.9H0M-1.3,42.7H0M-1.3,44.4H0M-1.3,46.0H0M-1.3,51H0M-1.3,53.5H0M-1.3,56H0M-1.3,58.5H0M-1.3,61H0" stroke="#999" stroke-width="0.7"/>
<path d="M15.7,65V67.3M21.7,65V67.3M31.7,65V67.3M48.5,65V67.3M54.6,65V67.3M63.8,65V67.3" stroke="#666" stroke-width="1"/>
<text x="-12.3" y="10.7" font-size="6" fill="#1a1a1a" stroke="#1a1a1a" stroke-width="0.25">10</text><text x="-6.2" y="6.3999999999999995" font-size="6" fill="#1a1a1a" stroke="#1a1a1a" stroke-width="0.25">3</text>
<text x="-12.3" y="20.5" font-size="6" fill="#1a1a1a" stroke="#1a1a1a" stroke-width="0.25">10</text><text x="-6.2" y="16.2" font-size="6" fill="#1a1a1a" stroke="#1a1a1a" stroke-width="0.25">2</text>
<text x="-12.3" y="37" font-size="6" fill="#1a1a1a" stroke="#1a1a1a" stroke-width="0.25">10</text><text x="-6.2" y="32.7" font-size="6" fill="#1a1a1a" stroke="#1a1a1a" stroke-width="0.25">1</text>
<text x="-12.3" y="53.3" font-size="6" fill="#1a1a1a" stroke="#1a1a1a" stroke-width="0.25">10</text><text x="-6.2" y="49.0" font-size="6" fill="#1a1a1a" stroke="#1a1a1a" stroke-width="0.25">0</text>
<text x="14.9" y="75.8" font-size="6" fill="#1a1a1a" stroke="#1a1a1a" stroke-width="0.25">10</text><text x="20.9" y="71.4" font-size="6" fill="#1a1a1a" stroke="#1a1a1a" stroke-width="0.25">0</text>
<text x="31.2" y="75.8" font-size="6" fill="#1a1a1a" stroke="#1a1a1a" stroke-width="0.25">10</text><text x="37.2" y="71.4" font-size="6" fill="#1a1a1a" stroke="#1a1a1a" stroke-width="0.25">1</text>
<text x="47.5" y="75.8" font-size="6" fill="#1a1a1a" stroke="#1a1a1a" stroke-width="0.25">10</text><text x="53.5" y="71.4" font-size="6" fill="#1a1a1a" stroke="#1a1a1a" stroke-width="0.25">2</text>
<text x="55.9" y="75.8" font-size="6" fill="#1a1a1a" stroke="#1a1a1a" stroke-width="0.25">10</text><text x="61.9" y="71.4" font-size="6" fill="#1a1a1a" stroke="#1a1a1a" stroke-width="0.25">3</text>
</g>
<g transform="translate(416.6,246.4)"><g clip-path="url(#pc)"><g filter="url(#dC)">
<ellipse cx="25" cy="28" rx="26" ry="14" fill-opacity="0.065"/><path d="M0,41 C4,34 14,32 25,32 C36,32 45,34 49,41 Z" fill-opacity="0.15"/><path d="M0,42.5 C6,38.5 18,38 28,38 C38,38 45,38.5 48.5,41.5 L48.5,42.5 Z" fill-opacity="0.18"/><path d="M-2,42.5 C10,41.5 30,41 41,41 C45,41 47.5,41.5 47.5,44 C47.5,50 45,58 43.5,66 L-2,66 Z" fill-opacity="0.6"/><ellipse cx="37.5" cy="8.8" rx="10" ry="5" transform="rotate(-32 37.5 8.8)" fill-opacity="0.02"/><ellipse cx="39.3" cy="7.2" rx="5.6" ry="2.6" transform="rotate(-32 39.3 7.2)" fill-opacity="0.078"/><path d="M7.8,42.6 C18.44,42.6 17.68,54.2 11.6,64.41 C9.32,66.03 6.28,66.03 4.0,64.41 C-2.08,54.2 -2.84,42.6 7.8,42.6 Z" fill-opacity="0.2"/><path d="M7.84,43.39 C17.42,43.39 16.73,53.83 11.26,63.02 C9.21,64.48 6.47,64.48 4.42,63.02 C-1.05,53.83 -1.74,43.39 7.84,43.39 Z" fill-opacity="0.2"/>
</g><g filter="url(#soft)">
<path d="M7.8,42.6 C18.44,42.6 17.68,54.2 11.6,64.41 C9.32,66.03 6.28,66.03 4.0,64.41 C-2.08,54.2 -2.84,42.6 7.8,42.6 Z" fill="#8f8f8f"/><path d="M7.84,43.39 C17.42,43.39 16.73,53.83 11.26,63.02 C9.21,64.48 6.47,64.48 4.42,63.02 C-1.05,53.83 -1.74,43.39 7.84,43.39 Z" fill="#b2b2b2"/><path d="M7.89,44.42 C16.08,44.42 15.5,53.35 10.82,61.21 C9.06,62.46 6.72,62.46 4.97,61.21 C0.28,53.35 -0.3,44.42 7.89,44.42 Z" fill="#c4c4c4"/><path d="M7.95,45.6 C14.55,45.6 14.08,52.79 10.31,59.12 C8.89,60.13 7.01,60.13 5.6,59.12 C1.83,52.79 1.36,45.6 7.95,45.6 Z" fill="#a3a3a3"/><path d="M8.0,46.63 C13.22,46.63 12.85,52.31 9.87,57.31 C8.75,58.11 7.26,58.11 6.14,57.31 C3.16,52.31 2.79,46.63 8.0,46.63 Z" fill="#cccccc"/><path d="M8.07,47.97 C11.48,47.97 11.23,51.68 9.29,54.95 C8.56,55.47 7.59,55.47 6.86,54.95 C4.91,51.68 4.67,47.97 8.07,47.97 Z" fill="#adadad"/><path d="M8.13,49.16 C9.94,49.16 9.81,51.13 8.78,52.86 C8.39,53.14 7.87,53.14 7.49,52.86 C6.45,51.13 6.32,49.16 8.13,49.16 Z" fill="#737373"/><path d="M35.8,42.0 C45.32,42.0 44.64,53.6 39.2,63.81 C37.16,65.43 34.44,65.43 32.4,63.81 C26.96,53.6 26.28,42.0 35.8,42.0 Z" fill="#8f8f8f"/><path d="M35.82,42.65 C44.39,42.65 43.78,53.09 38.88,62.28 C37.04,63.74 34.6,63.74 32.76,62.28 C27.86,53.09 27.25,42.65 35.82,42.65 Z" fill="#b2b2b2"/><path d="M35.85,43.49 C43.18,43.49 42.65,52.43 38.46,60.29 C36.89,61.54 34.8,61.54 33.23,60.29 C29.04,52.43 28.52,43.49 35.85,43.49 Z" fill="#c4c4c4"/><path d="M35.88,44.47 C41.78,44.47 41.36,51.66 37.98,57.99 C36.72,59.0 35.03,59.0 33.77,57.99 C30.4,51.66 29.97,44.47 35.88,44.47 Z" fill="#a3a3a3"/><path d="M35.9,45.31 C40.57,45.31 40.23,51.0 37.57,56.0 C36.57,56.8 35.24,56.8 34.24,56.0 C31.57,51.0 31.24,45.31 35.9,45.31 Z" fill="#cccccc"/><path d="M35.94,46.42 C38.98,46.42 38.76,50.13 37.02,53.4 C36.37,53.92 35.5,53.92 34.85,53.4 C33.11,50.13 32.89,46.42 35.94,46.42 Z" fill="#adadad"/><path d="M35.97,47.4 C37.58,47.4 37.47,49.37 36.54,51.1 C36.2,51.38 35.73,51.38 35.39,51.1 C34.46,49.37 34.35,47.4 35.97,47.4 Z" fill="#737373"/>
</g></g>
<rect x="21.30" y="0.3" width="32.6" height="21" fill="none" stroke="#2a2a2a" stroke-width="1.3"/>
</g>
<text x="455.2" y="243.5" font-size="12" text-anchor="middle" fill="#111">0.01%</text>
<g transform="translate(514.8,246.4)">
<path d="M0,0.5H65V65" fill="none" stroke="#a8a8a8" stroke-width="1"/>
<path d="M0,0V65H65" fill="none" stroke="#5a5a5a" stroke-width="1"/>
<path d="M-2.4,0.5H0M-2.4,16.1H0M-2.4,32H0M-2.4,48.3H0" stroke="#555" stroke-width="1"/>
<path d="M-1.3,4.9H0M-1.3,8.3H0M-1.3,11.0H0M-1.3,13.4H0M-1.3,18.8H0M-1.3,21.0H0M-1.3,23.0H0M-1.3,24.9H0M-1.3,26.7H0M-1.3,28.5H0M-1.3,30.2H0M-1.3,34.7H0M-1.3,37.0H0M-1.3,39.0H0M-1.3,40.9H0M-1.3,42.7H0M-1.3,44.4H0M-1.3,46.0H0M-1.3,51H0M-1.3,53.5H0M-1.3,56H0M-1.3,58.5H0M-1.3,61H0" stroke="#999" stroke-width="0.7"/>
<path d="M15.7,65V67.3M21.7,65V67.3M31.7,65V67.3M48.5,65V67.3M54.6,65V67.3M63.8,65V67.3" stroke="#666" stroke-width="1"/>
<text x="-12.3" y="10.7" font-size="6" fill="#1a1a1a" stroke="#1a1a1a" stroke-width="0.25">10</text><text x="-6.2" y="6.3999999999999995" font-size="6" fill="#1a1a1a" stroke="#1a1a1a" stroke-width="0.25">3</text>
<text x="-12.3" y="20.5" font-size="6" fill="#1a1a1a" stroke="#1a1a1a" stroke-width="0.25">10</text><text x="-6.2" y="16.2" font-size="6" fill="#1a1a1a" stroke="#1a1a1a" stroke-width="0.25">2</text>
<text x="-12.3" y="37" font-size="6" fill="#1a1a1a" stroke="#1a1a1a" stroke-width="0.25">10</text><text x="-6.2" y="32.7" font-size="6" fill="#1a1a1a" stroke="#1a1a1a" stroke-width="0.25">1</text>
<text x="-12.3" y="53.3" font-size="6" fill="#1a1a1a" stroke="#1a1a1a" stroke-width="0.25">10</text><text x="-6.2" y="49.0" font-size="6" fill="#1a1a1a" stroke="#1a1a1a" stroke-width="0.25">0</text>
<text x="14.9" y="75.8" font-size="6" fill="#1a1a1a" stroke="#1a1a1a" stroke-width="0.25">10</text><text x="20.9" y="71.4" font-size="6" fill="#1a1a1a" stroke="#1a1a1a" stroke-width="0.25">0</text>
<text x="31.2" y="75.8" font-size="6" fill="#1a1a1a" stroke="#1a1a1a" stroke-width="0.25">10</text><text x="37.2" y="71.4" font-size="6" fill="#1a1a1a" stroke="#1a1a1a" stroke-width="0.25">1</text>
<text x="47.5" y="75.8" font-size="6" fill="#1a1a1a" stroke="#1a1a1a" stroke-width="0.25">10</text><text x="53.5" y="71.4" font-size="6" fill="#1a1a1a" stroke="#1a1a1a" stroke-width="0.25">2</text>
<text x="55.9" y="75.8" font-size="6" fill="#1a1a1a" stroke="#1a1a1a" stroke-width="0.25">10</text><text x="61.9" y="71.4" font-size="6" fill="#1a1a1a" stroke="#1a1a1a" stroke-width="0.25">3</text>
</g>
<g transform="translate(514.8,246.4)"><g clip-path="url(#pc)"><g filter="url(#dA)">
<ellipse cx="25" cy="28" rx="26" ry="14" fill-opacity="0.065"/><path d="M0,41 C4,34 14,32 25,32 C36,32 45,34 49,41 Z" fill-opacity="0.15"/><path d="M0,42.5 C6,38.5 18,38 28,38 C38,38 45,38.5 48.5,41.5 L48.5,42.5 Z" fill-opacity="0.18"/><path d="M-2,42.5 C10,41.5 30,41 41,41 C45,41 47.5,41.5 47.5,44 C47.5,50 45,58 43.5,66 L-2,66 Z" fill-opacity="0.6"/><ellipse cx="37.5" cy="8.8" rx="10" ry="5" transform="rotate(-32 37.5 8.8)" fill-opacity="0.023"/><ellipse cx="39.3" cy="7.2" rx="5.6" ry="2.6" transform="rotate(-32 39.3 7.2)" fill-opacity="0.091"/><path d="M7.8,42.6 C18.44,42.6 17.68,54.2 11.6,64.41 C9.32,66.03 6.28,66.03 4.0,64.41 C-2.08,54.2 -2.84,42.6 7.8,42.6 Z" fill-opacity="0.2"/><path d="M7.84,43.39 C17.42,43.39 16.73,53.83 11.26,63.02 C9.21,64.48 6.47,64.48 4.42,63.02 C-1.05,53.83 -1.74,43.39 7.84,43.39 Z" fill-opacity="0.2"/>
</g><g filter="url(#soft)">
<path d="M7.8,42.6 C18.44,42.6 17.68,54.2 11.6,64.41 C9.32,66.03 6.28,66.03 4.0,64.41 C-2.08,54.2 -2.84,42.6 7.8,42.6 Z" fill="#8f8f8f"/><path d="M7.84,43.39 C17.42,43.39 16.73,53.83 11.26,63.02 C9.21,64.48 6.47,64.48 4.42,63.02 C-1.05,53.83 -1.74,43.39 7.84,43.39 Z" fill="#b2b2b2"/><path d="M7.89,44.42 C16.08,44.42 15.5,53.35 10.82,61.21 C9.06,62.46 6.72,62.46 4.97,61.21 C0.28,53.35 -0.3,44.42 7.89,44.42 Z" fill="#c4c4c4"/><path d="M7.95,45.6 C14.55,45.6 14.08,52.79 10.31,59.12 C8.89,60.13 7.01,60.13 5.6,59.12 C1.83,52.79 1.36,45.6 7.95,45.6 Z" fill="#a3a3a3"/><path d="M8.0,46.63 C13.22,46.63 12.85,52.31 9.87,57.31 C8.75,58.11 7.26,58.11 6.14,57.31 C3.16,52.31 2.79,46.63 8.0,46.63 Z" fill="#cccccc"/><path d="M8.07,47.97 C11.48,47.97 11.23,51.68 9.29,54.95 C8.56,55.47 7.59,55.47 6.86,54.95 C4.91,51.68 4.67,47.97 8.07,47.97 Z" fill="#adadad"/><path d="M8.13,49.16 C9.94,49.16 9.81,51.13 8.78,52.86 C8.39,53.14 7.87,53.14 7.49,52.86 C6.45,51.13 6.32,49.16 8.13,49.16 Z" fill="#737373"/><path d="M35.8,42.0 C45.32,42.0 44.64,53.6 39.2,63.81 C37.16,65.43 34.44,65.43 32.4,63.81 C26.96,53.6 26.28,42.0 35.8,42.0 Z" fill="#8f8f8f"/><path d="M35.82,42.65 C44.39,42.65 43.78,53.09 38.88,62.28 C37.04,63.74 34.6,63.74 32.76,62.28 C27.86,53.09 27.25,42.65 35.82,42.65 Z" fill="#b2b2b2"/><path d="M35.85,43.49 C43.18,43.49 42.65,52.43 38.46,60.29 C36.89,61.54 34.8,61.54 33.23,60.29 C29.04,52.43 28.52,43.49 35.85,43.49 Z" fill="#c4c4c4"/><path d="M35.88,44.47 C41.78,44.47 41.36,51.66 37.98,57.99 C36.72,59.0 35.03,59.0 33.77,57.99 C30.4,51.66 29.97,44.47 35.88,44.47 Z" fill="#a3a3a3"/><path d="M35.9,45.31 C40.57,45.31 40.23,51.0 37.57,56.0 C36.57,56.8 35.24,56.8 34.24,56.0 C31.57,51.0 31.24,45.31 35.9,45.31 Z" fill="#cccccc"/><path d="M35.94,46.42 C38.98,46.42 38.76,50.13 37.02,53.4 C36.37,53.92 35.5,53.92 34.85,53.4 C33.11,50.13 32.89,46.42 35.94,46.42 Z" fill="#adadad"/><path d="M35.97,47.4 C37.58,47.4 37.47,49.37 36.54,51.1 C36.2,51.38 35.73,51.38 35.39,51.1 C34.46,49.37 34.35,47.4 35.97,47.4 Z" fill="#737373"/>
</g></g>
<rect x="21.10" y="0.3" width="32.6" height="21" fill="none" stroke="#2a2a2a" stroke-width="1.3"/>
</g>
<text x="553" y="243.5" font-size="12" text-anchor="middle" fill="#111">0.01%</text>
<g transform="translate(613.3,246.4)">
<path d="M0,0.5H65V65" fill="none" stroke="#a8a8a8" stroke-width="1"/>
<path d="M0,0V65H65" fill="none" stroke="#5a5a5a" stroke-width="1"/>
<path d="M-2.4,0.5H0M-2.4,16.1H0M-2.4,32H0M-2.4,48.3H0" stroke="#555" stroke-width="1"/>
<path d="M-1.3,4.9H0M-1.3,8.3H0M-1.3,11.0H0M-1.3,13.4H0M-1.3,18.8H0M-1.3,21.0H0M-1.3,23.0H0M-1.3,24.9H0M-1.3,26.7H0M-1.3,28.5H0M-1.3,30.2H0M-1.3,34.7H0M-1.3,37.0H0M-1.3,39.0H0M-1.3,40.9H0M-1.3,42.7H0M-1.3,44.4H0M-1.3,46.0H0M-1.3,51H0M-1.3,53.5H0M-1.3,56H0M-1.3,58.5H0M-1.3,61H0" stroke="#999" stroke-width="0.7"/>
<path d="M15.7,65V67.3M21.7,65V67.3M31.7,65V67.3M48.5,65V67.3M54.6,65V67.3M63.8,65V67.3" stroke="#666" stroke-width="1"/>
<text x="-12.3" y="10.7" font-size="6" fill="#1a1a1a" stroke="#1a1a1a" stroke-width="0.25">10</text><text x="-6.2" y="6.3999999999999995" font-size="6" fill="#1a1a1a" stroke="#1a1a1a" stroke-width="0.25">3</text>
<text x="-12.3" y="20.5" font-size="6" fill="#1a1a1a" stroke="#1a1a1a" stroke-width="0.25">10</text><text x="-6.2" y="16.2" font-size="6" fill="#1a1a1a" stroke="#1a1a1a" stroke-width="0.25">2</text>
<text x="-12.3" y="37" font-size="6" fill="#1a1a1a" stroke="#1a1a1a" stroke-width="0.25">10</text><text x="-6.2" y="32.7" font-size="6" fill="#1a1a1a" stroke="#1a1a1a" stroke-width="0.25">1</text>
<text x="-12.3" y="53.3" font-size="6" fill="#1a1a1a" stroke="#1a1a1a" stroke-width="0.25">10</text><text x="-6.2" y="49.0" font-size="6" fill="#1a1a1a" stroke="#1a1a1a" stroke-width="0.25">0</text>
<text x="14.9" y="75.8" font-size="6" fill="#1a1a1a" stroke="#1a1a1a" stroke-width="0.25">10</text><text x="20.9" y="71.4" font-size="6" fill="#1a1a1a" stroke="#1a1a1a" stroke-width="0.25">0</text>
<text x="31.2" y="75.8" font-size="6" fill="#1a1a1a" stroke="#1a1a1a" stroke-width="0.25">10</text><text x="37.2" y="71.4" font-size="6" fill="#1a1a1a" stroke="#1a1a1a" stroke-width="0.25">1</text>
<text x="47.5" y="75.8" font-size="6" fill="#1a1a1a" stroke="#1a1a1a" stroke-width="0.25">10</text><text x="53.5" y="71.4" font-size="6" fill="#1a1a1a" stroke="#1a1a1a" stroke-width="0.25">2</text>
<text x="55.9" y="75.8" font-size="6" fill="#1a1a1a" stroke="#1a1a1a" stroke-width="0.25">10</text><text x="61.9" y="71.4" font-size="6" fill="#1a1a1a" stroke="#1a1a1a" stroke-width="0.25">3</text>
</g>
<g transform="translate(613.3,246.4)"><g clip-path="url(#pc)"><g filter="url(#dB)">
<ellipse cx="25" cy="28" rx="26" ry="14" fill-opacity="0.065"/><path d="M0,41 C4,34 14,32 25,32 C36,32 45,34 49,41 Z" fill-opacity="0.15"/><path d="M0,42.5 C6,38.5 18,38 28,38 C38,38 45,38.5 48.5,41.5 L48.5,42.5 Z" fill-opacity="0.18"/><path d="M-2,42.5 C10,41.5 30,41 41,41 C45,41 47.5,41.5 47.5,44 C47.5,50 45,58 43.5,66 L-2,66 Z" fill-opacity="0.6"/><ellipse cx="37.5" cy="8.8" rx="10" ry="5" transform="rotate(-32 37.5 8.8)" fill-opacity="0.139"/><ellipse cx="39.3" cy="7.2" rx="5.6" ry="2.6" transform="rotate(-32 39.3 7.2)" fill-opacity="0.546"/><path d="M7.8,42.6 C18.44,42.6 17.68,54.2 11.6,64.41 C9.32,66.03 6.28,66.03 4.0,64.41 C-2.08,54.2 -2.84,42.6 7.8,42.6 Z" fill-opacity="0.2"/><path d="M7.84,43.39 C17.42,43.39 16.73,53.83 11.26,63.02 C9.21,64.48 6.47,64.48 4.42,63.02 C-1.05,53.83 -1.74,43.39 7.84,43.39 Z" fill-opacity="0.2"/>
</g><g filter="url(#soft)">
<path d="M7.8,42.6 C18.44,42.6 17.68,54.2 11.6,64.41 C9.32,66.03 6.28,66.03 4.0,64.41 C-2.08,54.2 -2.84,42.6 7.8,42.6 Z" fill="#8f8f8f"/><path d="M7.84,43.39 C17.42,43.39 16.73,53.83 11.26,63.02 C9.21,64.48 6.47,64.48 4.42,63.02 C-1.05,53.83 -1.74,43.39 7.84,43.39 Z" fill="#b2b2b2"/><path d="M7.89,44.42 C16.08,44.42 15.5,53.35 10.82,61.21 C9.06,62.46 6.72,62.46 4.97,61.21 C0.28,53.35 -0.3,44.42 7.89,44.42 Z" fill="#c4c4c4"/><path d="M7.95,45.6 C14.55,45.6 14.08,52.79 10.31,59.12 C8.89,60.13 7.01,60.13 5.6,59.12 C1.83,52.79 1.36,45.6 7.95,45.6 Z" fill="#a3a3a3"/><path d="M8.0,46.63 C13.22,46.63 12.85,52.31 9.87,57.31 C8.75,58.11 7.26,58.11 6.14,57.31 C3.16,52.31 2.79,46.63 8.0,46.63 Z" fill="#cccccc"/><path d="M8.07,47.97 C11.48,47.97 11.23,51.68 9.29,54.95 C8.56,55.47 7.59,55.47 6.86,54.95 C4.91,51.68 4.67,47.97 8.07,47.97 Z" fill="#adadad"/><path d="M8.13,49.16 C9.94,49.16 9.81,51.13 8.78,52.86 C8.39,53.14 7.87,53.14 7.49,52.86 C6.45,51.13 6.32,49.16 8.13,49.16 Z" fill="#737373"/><path d="M35.8,42.0 C45.32,42.0 44.64,53.6 39.2,63.81 C37.16,65.43 34.44,65.43 32.4,63.81 C26.96,53.6 26.28,42.0 35.8,42.0 Z" fill="#8f8f8f"/><path d="M35.82,42.65 C44.39,42.65 43.78,53.09 38.88,62.28 C37.04,63.74 34.6,63.74 32.76,62.28 C27.86,53.09 27.25,42.65 35.82,42.65 Z" fill="#b2b2b2"/><path d="M35.85,43.49 C43.18,43.49 42.65,52.43 38.46,60.29 C36.89,61.54 34.8,61.54 33.23,60.29 C29.04,52.43 28.52,43.49 35.85,43.49 Z" fill="#c4c4c4"/><path d="M35.88,44.47 C41.78,44.47 41.36,51.66 37.98,57.99 C36.72,59.0 35.03,59.0 33.77,57.99 C30.4,51.66 29.97,44.47 35.88,44.47 Z" fill="#a3a3a3"/><path d="M35.9,45.31 C40.57,45.31 40.23,51.0 37.57,56.0 C36.57,56.8 35.24,56.8 34.24,56.0 C31.57,51.0 31.24,45.31 35.9,45.31 Z" fill="#cccccc"/><path d="M35.94,46.42 C38.98,46.42 38.76,50.13 37.02,53.4 C36.37,53.92 35.5,53.92 34.85,53.4 C33.11,50.13 32.89,46.42 35.94,46.42 Z" fill="#adadad"/><path d="M35.97,47.4 C37.58,47.4 37.47,49.37 36.54,51.1 C36.2,51.38 35.73,51.38 35.39,51.1 C34.46,49.37 34.35,47.4 35.97,47.4 Z" fill="#737373"/>
</g></g>
<rect x="20.30" y="0.3" width="32.6" height="21" fill="none" stroke="#2a2a2a" stroke-width="1.3"/>
</g>
<text x="650.8" y="243.5" font-size="12" text-anchor="middle" fill="#111">0.15%</text>
<g transform="translate(121.5,346.2)">
<path d="M0,0.5H65V65" fill="none" stroke="#a8a8a8" stroke-width="1"/>
<path d="M0,0V65H65" fill="none" stroke="#5a5a5a" stroke-width="1"/>
<path d="M-2.4,0.5H0M-2.4,16.1H0M-2.4,32H0M-2.4,48.3H0" stroke="#555" stroke-width="1"/>
<path d="M-1.3,4.9H0M-1.3,8.3H0M-1.3,11.0H0M-1.3,13.4H0M-1.3,18.8H0M-1.3,21.0H0M-1.3,23.0H0M-1.3,24.9H0M-1.3,26.7H0M-1.3,28.5H0M-1.3,30.2H0M-1.3,34.7H0M-1.3,37.0H0M-1.3,39.0H0M-1.3,40.9H0M-1.3,42.7H0M-1.3,44.4H0M-1.3,46.0H0M-1.3,51H0M-1.3,53.5H0M-1.3,56H0M-1.3,58.5H0M-1.3,61H0" stroke="#999" stroke-width="0.7"/>
<path d="M15.7,65V67.3M21.7,65V67.3M31.7,65V67.3M48.5,65V67.3M54.6,65V67.3M63.8,65V67.3" stroke="#666" stroke-width="1"/>
<text x="-12.3" y="10.7" font-size="6" fill="#1a1a1a" stroke="#1a1a1a" stroke-width="0.25">10</text><text x="-6.2" y="6.3999999999999995" font-size="6" fill="#1a1a1a" stroke="#1a1a1a" stroke-width="0.25">3</text>
<text x="-12.3" y="20.5" font-size="6" fill="#1a1a1a" stroke="#1a1a1a" stroke-width="0.25">10</text><text x="-6.2" y="16.2" font-size="6" fill="#1a1a1a" stroke="#1a1a1a" stroke-width="0.25">2</text>
<text x="-12.3" y="37" font-size="6" fill="#1a1a1a" stroke="#1a1a1a" stroke-width="0.25">10</text><text x="-6.2" y="32.7" font-size="6" fill="#1a1a1a" stroke="#1a1a1a" stroke-width="0.25">1</text>
<text x="-12.3" y="53.3" font-size="6" fill="#1a1a1a" stroke="#1a1a1a" stroke-width="0.25">10</text><text x="-6.2" y="49.0" font-size="6" fill="#1a1a1a" stroke="#1a1a1a" stroke-width="0.25">0</text>
<text x="14.9" y="75.8" font-size="6" fill="#1a1a1a" stroke="#1a1a1a" stroke-width="0.25">10</text><text x="20.9" y="71.4" font-size="6" fill="#1a1a1a" stroke="#1a1a1a" stroke-width="0.25">0</text>
<text x="31.2" y="75.8" font-size="6" fill="#1a1a1a" stroke="#1a1a1a" stroke-width="0.25">10</text><text x="37.2" y="71.4" font-size="6" fill="#1a1a1a" stroke="#1a1a1a" stroke-width="0.25">1</text>
<text x="47.5" y="75.8" font-size="6" fill="#1a1a1a" stroke="#1a1a1a" stroke-width="0.25">10</text><text x="53.5" y="71.4" font-size="6" fill="#1a1a1a" stroke="#1a1a1a" stroke-width="0.25">2</text>
<text x="55.9" y="75.8" font-size="6" fill="#1a1a1a" stroke="#1a1a1a" stroke-width="0.25">10</text><text x="61.9" y="71.4" font-size="6" fill="#1a1a1a" stroke="#1a1a1a" stroke-width="0.25">3</text>
</g>
<g transform="translate(121.5,346.2)"><g clip-path="url(#pc)"><g filter="url(#dA)">
<ellipse cx="25" cy="28" rx="26" ry="14" fill-opacity="0.065"/><path d="M0,41 C4,34 14,32 25,32 C36,32 45,34 49,41 Z" fill-opacity="0.15"/><path d="M0,42.5 C6,38.5 18,38 28,38 C38,38 45,38.5 48.5,41.5 L48.5,42.5 Z" fill-opacity="0.18"/><path d="M-2,42 C10,39.5 22,37.5 28,35.5 C32,34.5 36,36.5 42,38.5 C48,40.5 51,42.5 50.5,48 C50,56 48,62 47,66 L-2,66 Z" fill-opacity="0.6"/><ellipse cx="50" cy="50" rx="5" ry="12" transform="rotate(-10 50 50)" fill-opacity="0.2"/><ellipse cx="10" cy="24" rx="10" ry="12" fill-opacity="0.045"/><ellipse cx="37.5" cy="8.8" rx="10" ry="5" transform="rotate(-32 37.5 8.8)" fill-opacity="0.02"/><ellipse cx="39.3" cy="7.2" rx="5.6" ry="2.6" transform="rotate(-32 39.3 7.2)" fill-opacity="0.078"/><path d="M7.6,43.5 C17.68,43.5 16.96,54.5 11.2,64.18 C9.04,65.72 6.16,65.72 4.0,64.18 C-1.76,54.5 -2.48,43.5 7.6,43.5 Z" fill-opacity="0.2"/><path d="M7.66,44.25 C16.73,44.25 16.08,54.15 10.9,62.86 C8.96,64.25 6.36,64.25 4.42,62.86 C-0.76,54.15 -1.41,44.25 7.66,44.25 Z" fill-opacity="0.2"/>
</g><g filter="url(#soft)">
<path d="M7.6,43.5 C17.68,43.5 16.96,54.5 11.2,64.18 C9.04,65.72 6.16,65.72 4.0,64.18 C-1.76,54.5 -2.48,43.5 7.6,43.5 Z" fill="#8f8f8f"/><path d="M7.66,44.25 C16.73,44.25 16.08,54.15 10.9,62.86 C8.96,64.25 6.36,64.25 4.42,62.86 C-0.76,54.15 -1.41,44.25 7.66,44.25 Z" fill="#b2b2b2"/><path d="M7.74,45.23 C15.5,45.23 14.95,53.7 10.51,61.15 C8.85,62.33 6.63,62.33 4.97,61.15 C0.53,53.7 -0.02,45.23 7.74,45.23 Z" fill="#c4c4c4"/><path d="M7.83,46.35 C14.08,46.35 13.63,53.17 10.06,59.17 C8.72,60.13 6.94,60.13 5.6,59.17 C2.02,53.17 1.58,46.35 7.83,46.35 Z" fill="#a3a3a3"/><path d="M7.91,47.33 C12.85,47.33 12.49,52.72 9.67,57.46 C8.61,58.21 7.2,58.21 6.14,57.46 C3.32,52.72 2.97,47.33 7.91,47.33 Z" fill="#cccccc"/><path d="M8.01,48.6 C11.23,48.6 11.0,52.12 9.16,55.22 C8.47,55.71 7.55,55.71 6.86,55.22 C5.01,52.12 4.78,48.6 8.01,48.6 Z" fill="#adadad"/><path d="M8.1,49.73 C9.81,49.73 9.69,51.59 8.71,53.24 C8.34,53.5 7.85,53.5 7.49,53.24 C6.51,51.59 6.38,49.73 8.1,49.73 Z" fill="#737373"/><path d="M35.8,42.5 C43.08,42.5 42.56,53.5 38.4,63.18 C36.84,64.72 34.76,64.72 33.2,63.18 C29.04,53.5 28.52,42.5 35.8,42.5 Z" fill="#3d3d3d"/><path d="M35.8,44.26 C41.62,44.26 41.21,53.06 37.88,60.8 C36.63,62.04 34.97,62.04 33.72,60.8 C30.39,53.06 29.98,44.26 35.8,44.26 Z" fill="#5c5c5c"/><path d="M35.8,46.37 C39.88,46.37 39.59,52.53 37.26,57.95 C36.38,58.82 35.22,58.82 34.34,57.95 C32.01,52.53 31.72,46.37 35.8,46.37 Z" fill="#737373"/><path d="M35.8,48.22 C38.35,48.22 38.17,52.07 36.71,55.46 C36.16,56.0 35.44,56.0 34.89,55.46 C33.43,52.07 33.25,48.22 35.8,48.22 Z" fill="#666666"/>
</g></g>
<rect x="22.10" y="0.3" width="32.6" height="21" fill="none" stroke="#2a2a2a" stroke-width="1.3"/>
</g>
<text x="162.6" y="343.3" font-size="12" text-anchor="middle" fill="#111">0.00%</text>
<g transform="translate(219.8,346.2)">
<path d="M0,0.5H65V65" fill="none" stroke="#a8a8a8" stroke-width="1"/>
<path d="M0,0V65H65" fill="none" stroke="#5a5a5a" stroke-width="1"/>
<path d="M-2.4,0.5H0M-2.4,16.1H0M-2.4,32H0M-2.4,48.3H0" stroke="#555" stroke-width="1"/>
<path d="M-1.3,4.9H0M-1.3,8.3H0M-1.3,11.0H0M-1.3,13.4H0M-1.3,18.8H0M-1.3,21.0H0M-1.3,23.0H0M-1.3,24.9H0M-1.3,26.7H0M-1.3,28.5H0M-1.3,30.2H0M-1.3,34.7H0M-1.3,37.0H0M-1.3,39.0H0M-1.3,40.9H0M-1.3,42.7H0M-1.3,44.4H0M-1.3,46.0H0M-1.3,51H0M-1.3,53.5H0M-1.3,56H0M-1.3,58.5H0M-1.3,61H0" stroke="#999" stroke-width="0.7"/>
<path d="M15.7,65V67.3M21.7,65V67.3M31.7,65V67.3M48.5,65V67.3M54.6,65V67.3M63.8,65V67.3" stroke="#666" stroke-width="1"/>
<text x="-12.3" y="10.7" font-size="6" fill="#1a1a1a" stroke="#1a1a1a" stroke-width="0.25">10</text><text x="-6.2" y="6.3999999999999995" font-size="6" fill="#1a1a1a" stroke="#1a1a1a" stroke-width="0.25">3</text>
<text x="-12.3" y="20.5" font-size="6" fill="#1a1a1a" stroke="#1a1a1a" stroke-width="0.25">10</text><text x="-6.2" y="16.2" font-size="6" fill="#1a1a1a" stroke="#1a1a1a" stroke-width="0.25">2</text>
<text x="-12.3" y="37" font-size="6" fill="#1a1a1a" stroke="#1a1a1a" stroke-width="0.25">10</text><text x="-6.2" y="32.7" font-size="6" fill="#1a1a1a" stroke="#1a1a1a" stroke-width="0.25">1</text>
<text x="-12.3" y="53.3" font-size="6" fill="#1a1a1a" stroke="#1a1a1a" stroke-width="0.25">10</text><text x="-6.2" y="49.0" font-size="6" fill="#1a1a1a" stroke="#1a1a1a" stroke-width="0.25">0</text>
<text x="14.9" y="75.8" font-size="6" fill="#1a1a1a" stroke="#1a1a1a" stroke-width="0.25">10</text><text x="20.9" y="71.4" font-size="6" fill="#1a1a1a" stroke="#1a1a1a" stroke-width="0.25">0</text>
<text x="31.2" y="75.8" font-size="6" fill="#1a1a1a" stroke="#1a1a1a" stroke-width="0.25">10</text><text x="37.2" y="71.4" font-size="6" fill="#1a1a1a" stroke="#1a1a1a" stroke-width="0.25">1</text>
<text x="47.5" y="75.8" font-size="6" fill="#1a1a1a" stroke="#1a1a1a" stroke-width="0.25">10</text><text x="53.5" y="71.4" font-size="6" fill="#1a1a1a" stroke="#1a1a1a" stroke-width="0.25">2</text>
<text x="55.9" y="75.8" font-size="6" fill="#1a1a1a" stroke="#1a1a1a" stroke-width="0.25">10</text><text x="61.9" y="71.4" font-size="6" fill="#1a1a1a" stroke="#1a1a1a" stroke-width="0.25">3</text>
</g>
<g transform="translate(219.8,346.2)"><g clip-path="url(#pc)"><g filter="url(#dB)">
<ellipse cx="25" cy="28" rx="26" ry="14" fill-opacity="0.065"/><path d="M0,41 C4,34 14,32 25,32 C36,32 45,34 49,41 Z" fill-opacity="0.15"/><path d="M0,42.5 C6,38.5 18,38 28,38 C38,38 45,38.5 48.5,41.5 L48.5,42.5 Z" fill-opacity="0.18"/><path d="M-2,42 C10,39.5 22,37.5 28,35.5 C32,34.5 36,36.5 42,38.5 C48,40.5 51,42.5 50.5,48 C50,56 48,62 47,66 L-2,66 Z" fill-opacity="0.6"/><ellipse cx="50" cy="50" rx="5" ry="12" transform="rotate(-10 50 50)" fill-opacity="0.2"/><ellipse cx="10" cy="24" rx="10" ry="12" fill-opacity="0.045"/><ellipse cx="37.5" cy="8.8" rx="10" ry="5" transform="rotate(-32 37.5 8.8)" fill-opacity="0.02"/><ellipse cx="39.3" cy="7.2" rx="5.6" ry="2.6" transform="rotate(-32 39.3 7.2)" fill-opacity="0.078"/><path d="M7.6,43.5 C17.68,43.5 16.96,54.5 11.2,64.18 C9.04,65.72 6.16,65.72 4.0,64.18 C-1.76,54.5 -2.48,43.5 7.6,43.5 Z" fill-opacity="0.2"/><path d="M7.66,44.25 C16.73,44.25 16.08,54.15 10.9,62.86 C8.96,64.25 6.36,64.25 4.42,62.86 C-0.76,54.15 -1.41,44.25 7.66,44.25 Z" fill-opacity="0.2"/>
</g><g filter="url(#soft)">
<path d="M7.6,43.5 C17.68,43.5 16.96,54.5 11.2,64.18 C9.04,65.72 6.16,65.72 4.0,64.18 C-1.76,54.5 -2.48,43.5 7.6,43.5 Z" fill="#8f8f8f"/><path d="M7.66,44.25 C16.73,44.25 16.08,54.15 10.9,62.86 C8.96,64.25 6.36,64.25 4.42,62.86 C-0.76,54.15 -1.41,44.25 7.66,44.25 Z" fill="#b2b2b2"/><path d="M7.74,45.23 C15.5,45.23 14.95,53.7 10.51,61.15 C8.85,62.33 6.63,62.33 4.97,61.15 C0.53,53.7 -0.02,45.23 7.74,45.23 Z" fill="#c4c4c4"/><path d="M7.83,46.35 C14.08,46.35 13.63,53.17 10.06,59.17 C8.72,60.13 6.94,60.13 5.6,59.17 C2.02,53.17 1.58,46.35 7.83,46.35 Z" fill="#a3a3a3"/><path d="M7.91,47.33 C12.85,47.33 12.49,52.72 9.67,57.46 C8.61,58.21 7.2,58.21 6.14,57.46 C3.32,52.72 2.97,47.33 7.91,47.33 Z" fill="#cccccc"/><path d="M8.01,48.6 C11.23,48.6 11.0,52.12 9.16,55.22 C8.47,55.71 7.55,55.71 6.86,55.22 C5.01,52.12 4.78,48.6 8.01,48.6 Z" fill="#adadad"/><path d="M8.1,49.73 C9.81,49.73 9.69,51.59 8.71,53.24 C8.34,53.5 7.85,53.5 7.49,53.24 C6.51,51.59 6.38,49.73 8.1,49.73 Z" fill="#737373"/><path d="M35.8,42.5 C43.08,42.5 42.56,53.5 38.4,63.18 C36.84,64.72 34.76,64.72 33.2,63.18 C29.04,53.5 28.52,42.5 35.8,42.5 Z" fill="#3d3d3d"/><path d="M35.8,44.26 C41.62,44.26 41.21,53.06 37.88,60.8 C36.63,62.04 34.97,62.04 33.72,60.8 C30.39,53.06 29.98,44.26 35.8,44.26 Z" fill="#5c5c5c"/><path d="M35.8,46.37 C39.88,46.37 39.59,52.53 37.26,57.95 C36.38,58.82 35.22,58.82 34.34,57.95 C32.01,52.53 31.72,46.37 35.8,46.37 Z" fill="#737373"/><path d="M35.8,48.22 C38.35,48.22 38.17,52.07 36.71,55.46 C36.16,56.0 35.44,56.0 34.89,55.46 C33.43,52.07 33.25,48.22 35.8,48.22 Z" fill="#666666"/>
</g></g>
<rect x="22.00" y="0.3" width="32.6" height="21" fill="none" stroke="#2a2a2a" stroke-width="1.3"/>
</g>
<text x="260.3" y="343.3" font-size="12" text-anchor="middle" fill="#111">0.00%</text>
<g transform="translate(318.2,346.2)">
<path d="M0,0.5H65V65" fill="none" stroke="#a8a8a8" stroke-width="1"/>
<path d="M0,0V65H65" fill="none" stroke="#5a5a5a" stroke-width="1"/>
<path d="M-2.4,0.5H0M-2.4,16.1H0M-2.4,32H0M-2.4,48.3H0" stroke="#555" stroke-width="1"/>
<path d="M-1.3,4.9H0M-1.3,8.3H0M-1.3,11.0H0M-1.3,13.4H0M-1.3,18.8H0M-1.3,21.0H0M-1.3,23.0H0M-1.3,24.9H0M-1.3,26.7H0M-1.3,28.5H0M-1.3,30.2H0M-1.3,34.7H0M-1.3,37.0H0M-1.3,39.0H0M-1.3,40.9H0M-1.3,42.7H0M-1.3,44.4H0M-1.3,46.0H0M-1.3,51H0M-1.3,53.5H0M-1.3,56H0M-1.3,58.5H0M-1.3,61H0" stroke="#999" stroke-width="0.7"/>
<path d="M15.7,65V67.3M21.7,65V67.3M31.7,65V67.3M48.5,65V67.3M54.6,65V67.3M63.8,65V67.3" stroke="#666" stroke-width="1"/>
<text x="-12.3" y="10.7" font-size="6" fill="#1a1a1a" stroke="#1a1a1a" stroke-width="0.25">10</text><text x="-6.2" y="6.3999999999999995" font-size="6" fill="#1a1a1a" stroke="#1a1a1a" stroke-width="0.25">3</text>
<text x="-12.3" y="20.5" font-size="6" fill="#1a1a1a" stroke="#1a1a1a" stroke-width="0.25">10</text><text x="-6.2" y="16.2" font-size="6" fill="#1a1a1a" stroke="#1a1a1a" stroke-width="0.25">2</text>
<text x="-12.3" y="37" font-size="6" fill="#1a1a1a" stroke="#1a1a1a" stroke-width="0.25">10</text><text x="-6.2" y="32.7" font-size="6" fill="#1a1a1a" stroke="#1a1a1a" stroke-width="0.25">1</text>
<text x="-12.3" y="53.3" font-size="6" fill="#1a1a1a" stroke="#1a1a1a" stroke-width="0.25">10</text><text x="-6.2" y="49.0" font-size="6" fill="#1a1a1a" stroke="#1a1a1a" stroke-width="0.25">0</text>
<text x="14.9" y="75.8" font-size="6" fill="#1a1a1a" stroke="#1a1a1a" stroke-width="0.25">10</text><text x="20.9" y="71.4" font-size="6" fill="#1a1a1a" stroke="#1a1a1a" stroke-width="0.25">0</text>
<text x="31.2" y="75.8" font-size="6" fill="#1a1a1a" stroke="#1a1a1a" stroke-width="0.25">10</text><text x="37.2" y="71.4" font-size="6" fill="#1a1a1a" stroke="#1a1a1a" stroke-width="0.25">1</text>
<text x="47.5" y="75.8" font-size="6" fill="#1a1a1a" stroke="#1a1a1a" stroke-width="0.25">10</text><text x="53.5" y="71.4" font-size="6" fill="#1a1a1a" stroke="#1a1a1a" stroke-width="0.25">2</text>
<text x="55.9" y="75.8" font-size="6" fill="#1a1a1a" stroke="#1a1a1a" stroke-width="0.25">10</text><text x="61.9" y="71.4" font-size="6" fill="#1a1a1a" stroke="#1a1a1a" stroke-width="0.25">3</text>
</g>
<g transform="translate(318.2,346.2)"><g clip-path="url(#pc)"><g filter="url(#dC)">
<ellipse cx="25" cy="28" rx="26" ry="14" fill-opacity="0.065"/><path d="M0,41 C4,34 14,32 25,32 C36,32 45,34 49,41 Z" fill-opacity="0.15"/><path d="M0,42.5 C6,38.5 18,38 28,38 C38,38 45,38.5 48.5,41.5 L48.5,42.5 Z" fill-opacity="0.18"/><path d="M-2,42 C10,39.5 22,37.5 28,35.5 C32,34.5 36,36.5 42,38.5 C48,40.5 51,42.5 50.5,48 C50,56 48,62 47,66 L-2,66 Z" fill-opacity="0.6"/><ellipse cx="50" cy="50" rx="5" ry="12" transform="rotate(-10 50 50)" fill-opacity="0.2"/><ellipse cx="10" cy="24" rx="10" ry="12" fill-opacity="0.045"/><ellipse cx="37.5" cy="8.8" rx="10" ry="5" transform="rotate(-32 37.5 8.8)" fill-opacity="0.023"/><ellipse cx="39.3" cy="7.2" rx="5.6" ry="2.6" transform="rotate(-32 39.3 7.2)" fill-opacity="0.091"/><path d="M7.6,43.5 C17.68,43.5 16.96,54.5 11.2,64.18 C9.04,65.72 6.16,65.72 4.0,64.18 C-1.76,54.5 -2.48,43.5 7.6,43.5 Z" fill-opacity="0.2"/><path d="M7.66,44.25 C16.73,44.25 16.08,54.15 10.9,62.86 C8.96,64.25 6.36,64.25 4.42,62.86 C-0.76,54.15 -1.41,44.25 7.66,44.25 Z" fill-opacity="0.2"/>
</g><g filter="url(#soft)">
<path d="M7.6,43.5 C17.68,43.5 16.96,54.5 11.2,64.18 C9.04,65.72 6.16,65.72 4.0,64.18 C-1.76,54.5 -2.48,43.5 7.6,43.5 Z" fill="#8f8f8f"/><path d="M7.66,44.25 C16.73,44.25 16.08,54.15 10.9,62.86 C8.96,64.25 6.36,64.25 4.42,62.86 C-0.76,54.15 -1.41,44.25 7.66,44.25 Z" fill="#b2b2b2"/><path d="M7.74,45.23 C15.5,45.23 14.95,53.7 10.51,61.15 C8.85,62.33 6.63,62.33 4.97,61.15 C0.53,53.7 -0.02,45.23 7.74,45.23 Z" fill="#c4c4c4"/><path d="M7.83,46.35 C14.08,46.35 13.63,53.17 10.06,59.17 C8.72,60.13 6.94,60.13 5.6,59.17 C2.02,53.17 1.58,46.35 7.83,46.35 Z" fill="#a3a3a3"/><path d="M7.91,47.33 C12.85,47.33 12.49,52.72 9.67,57.46 C8.61,58.21 7.2,58.21 6.14,57.46 C3.32,52.72 2.97,47.33 7.91,47.33 Z" fill="#cccccc"/><path d="M8.01,48.6 C11.23,48.6 11.0,52.12 9.16,55.22 C8.47,55.71 7.55,55.71 6.86,55.22 C5.01,52.12 4.78,48.6 8.01,48.6 Z" fill="#adadad"/><path d="M8.1,49.73 C9.81,49.73 9.69,51.59 8.71,53.24 C8.34,53.5 7.85,53.5 7.49,53.24 C6.51,51.59 6.38,49.73 8.1,49.73 Z" fill="#737373"/><path d="M35.8,42.5 C43.08,42.5 42.56,53.5 38.4,63.18 C36.84,64.72 34.76,64.72 33.2,63.18 C29.04,53.5 28.52,42.5 35.8,42.5 Z" fill="#3d3d3d"/><path d="M35.8,44.26 C41.62,44.26 41.21,53.06 37.88,60.8 C36.63,62.04 34.97,62.04 33.72,60.8 C30.39,53.06 29.98,44.26 35.8,44.26 Z" fill="#5c5c5c"/><path d="M35.8,46.37 C39.88,46.37 39.59,52.53 37.26,57.95 C36.38,58.82 35.22,58.82 34.34,57.95 C32.01,52.53 31.72,46.37 35.8,46.37 Z" fill="#737373"/><path d="M35.8,48.22 C38.35,48.22 38.17,52.07 36.71,55.46 C36.16,56.0 35.44,56.0 34.89,55.46 C33.43,52.07 33.25,48.22 35.8,48.22 Z" fill="#666666"/>
</g></g>
<rect x="21.60" y="0.3" width="32.6" height="21" fill="none" stroke="#2a2a2a" stroke-width="1.3"/>
</g>
<text x="357.7" y="343.3" font-size="12" text-anchor="middle" fill="#111">0.01%</text>
<g transform="translate(416.6,346.2)">
<path d="M0,0.5H65V65" fill="none" stroke="#a8a8a8" stroke-width="1"/>
<path d="M0,0V65H65" fill="none" stroke="#5a5a5a" stroke-width="1"/>
<path d="M-2.4,0.5H0M-2.4,16.1H0M-2.4,32H0M-2.4,48.3H0" stroke="#555" stroke-width="1"/>
<path d="M-1.3,4.9H0M-1.3,8.3H0M-1.3,11.0H0M-1.3,13.4H0M-1.3,18.8H0M-1.3,21.0H0M-1.3,23.0H0M-1.3,24.9H0M-1.3,26.7H0M-1.3,28.5H0M-1.3,30.2H0M-1.3,34.7H0M-1.3,37.0H0M-1.3,39.0H0M-1.3,40.9H0M-1.3,42.7H0M-1.3,44.4H0M-1.3,46.0H0M-1.3,51H0M-1.3,53.5H0M-1.3,56H0M-1.3,58.5H0M-1.3,61H0" stroke="#999" stroke-width="0.7"/>
<path d="M15.7,65V67.3M21.7,65V67.3M31.7,65V67.3M48.5,65V67.3M54.6,65V67.3M63.8,65V67.3" stroke="#666" stroke-width="1"/>
<text x="-12.3" y="10.7" font-size="6" fill="#1a1a1a" stroke="#1a1a1a" stroke-width="0.25">10</text><text x="-6.2" y="6.3999999999999995" font-size="6" fill="#1a1a1a" stroke="#1a1a1a" stroke-width="0.25">3</text>
<text x="-12.3" y="20.5" font-size="6" fill="#1a1a1a" stroke="#1a1a1a" stroke-width="0.25">10</text><text x="-6.2" y="16.2" font-size="6" fill="#1a1a1a" stroke="#1a1a1a" stroke-width="0.25">2</text>
<text x="-12.3" y="37" font-size="6" fill="#1a1a1a" stroke="#1a1a1a" stroke-width="0.25">10</text><text x="-6.2" y="32.7" font-size="6" fill="#1a1a1a" stroke="#1a1a1a" stroke-width="0.25">1</text>
<text x="-12.3" y="53.3" font-size="6" fill="#1a1a1a" stroke="#1a1a1a" stroke-width="0.25">10</text><text x="-6.2" y="49.0" font-size="6" fill="#1a1a1a" stroke="#1a1a1a" stroke-width="0.25">0</text>
<text x="14.9" y="75.8" font-size="6" fill="#1a1a1a" stroke="#1a1a1a" stroke-width="0.25">10</text><text x="20.9" y="71.4" font-size="6" fill="#1a1a1a" stroke="#1a1a1a" stroke-width="0.25">0</text>
<text x="31.2" y="75.8" font-size="6" fill="#1a1a1a" stroke="#1a1a1a" stroke-width="0.25">10</text><text x="37.2" y="71.4" font-size="6" fill="#1a1a1a" stroke="#1a1a1a" stroke-width="0.25">1</text>
<text x="47.5" y="75.8" font-size="6" fill="#1a1a1a" stroke="#1a1a1a" stroke-width="0.25">10</text><text x="53.5" y="71.4" font-size="6" fill="#1a1a1a" stroke="#1a1a1a" stroke-width="0.25">2</text>
<text x="55.9" y="75.8" font-size="6" fill="#1a1a1a" stroke="#1a1a1a" stroke-width="0.25">10</text><text x="61.9" y="71.4" font-size="6" fill="#1a1a1a" stroke="#1a1a1a" stroke-width="0.25">3</text>
</g>
<g transform="translate(416.6,346.2)"><g clip-path="url(#pc)"><g filter="url(#dA)">
<ellipse cx="25" cy="28" rx="26" ry="14" fill-opacity="0.065"/><path d="M0,41 C4,34 14,32 25,32 C36,32 45,34 49,41 Z" fill-opacity="0.15"/><path d="M0,42.5 C6,38.5 18,38 28,38 C38,38 45,38.5 48.5,41.5 L48.5,42.5 Z" fill-opacity="0.18"/><path d="M-2,42 C10,39.5 22,37.5 28,35.5 C32,34.5 36,36.5 42,38.5 C48,40.5 51,42.5 50.5,48 C50,56 48,62 47,66 L-2,66 Z" fill-opacity="0.6"/><ellipse cx="50" cy="50" rx="5" ry="12" transform="rotate(-10 50 50)" fill-opacity="0.2"/><ellipse cx="10" cy="24" rx="10" ry="12" fill-opacity="0.045"/><ellipse cx="37.5" cy="8.8" rx="10" ry="5" transform="rotate(-32 37.5 8.8)" fill-opacity="0.02"/><ellipse cx="39.3" cy="7.2" rx="5.6" ry="2.6" transform="rotate(-32 39.3 7.2)" fill-opacity="0.078"/><path d="M7.6,43.5 C17.68,43.5 16.96,54.5 11.2,64.18 C9.04,65.72 6.16,65.72 4.0,64.18 C-1.76,54.5 -2.48,43.5 7.6,43.5 Z" fill-opacity="0.2"/><path d="M7.66,44.25 C16.73,44.25 16.08,54.15 10.9,62.86 C8.96,64.25 6.36,64.25 4.42,62.86 C-0.76,54.15 -1.41,44.25 7.66,44.25 Z" fill-opacity="0.2"/>
</g><g filter="url(#soft)">
<path d="M7.6,43.5 C17.68,43.5 16.96,54.5 11.2,64.18 C9.04,65.72 6.16,65.72 4.0,64.18 C-1.76,54.5 -2.48,43.5 7.6,43.5 Z" fill="#8f8f8f"/><path d="M7.66,44.25 C16.73,44.25 16.08,54.15 10.9,62.86 C8.96,64.25 6.36,64.25 4.42,62.86 C-0.76,54.15 -1.41,44.25 7.66,44.25 Z" fill="#b2b2b2"/><path d="M7.74,45.23 C15.5,45.23 14.95,53.7 10.51,61.15 C8.85,62.33 6.63,62.33 4.97,61.15 C0.53,53.7 -0.02,45.23 7.74,45.23 Z" fill="#c4c4c4"/><path d="M7.83,46.35 C14.08,46.35 13.63,53.17 10.06,59.17 C8.72,60.13 6.94,60.13 5.6,59.17 C2.02,53.17 1.58,46.35 7.83,46.35 Z" fill="#a3a3a3"/><path d="M7.91,47.33 C12.85,47.33 12.49,52.72 9.67,57.46 C8.61,58.21 7.2,58.21 6.14,57.46 C3.32,52.72 2.97,47.33 7.91,47.33 Z" fill="#cccccc"/><path d="M8.01,48.6 C11.23,48.6 11.0,52.12 9.16,55.22 C8.47,55.71 7.55,55.71 6.86,55.22 C5.01,52.12 4.78,48.6 8.01,48.6 Z" fill="#adadad"/><path d="M8.1,49.73 C9.81,49.73 9.69,51.59 8.71,53.24 C8.34,53.5 7.85,53.5 7.49,53.24 C6.51,51.59 6.38,49.73 8.1,49.73 Z" fill="#737373"/><path d="M35.8,42.0 C44.2,42.0 43.6,53.0 38.8,62.68 C37.0,64.22 34.6,64.22 32.8,62.68 C28.0,53.0 27.4,42.0 35.8,42.0 Z" fill="#8f8f8f"/><path d="M35.82,42.6 C43.38,42.6 42.84,52.5 38.52,61.21 C36.9,62.6 34.74,62.6 33.12,61.21 C28.8,52.5 28.26,42.6 35.82,42.6 Z" fill="#b2b2b2"/><path d="M35.85,43.38 C42.31,43.38 41.85,51.85 38.16,59.3 C36.77,60.49 34.92,60.49 33.54,59.3 C29.84,51.85 29.38,43.38 35.85,43.38 Z" fill="#c4c4c4"/><path d="M35.88,44.28 C41.08,44.28 40.71,51.1 37.74,57.1 C36.62,58.06 35.13,58.06 34.02,57.1 C31.04,51.1 30.67,44.28 35.88,44.28 Z" fill="#a3a3a3"/><path d="M35.9,45.06 C40.02,45.06 39.72,50.45 37.37,55.19 C36.49,55.95 35.31,55.95 34.43,55.19 C32.08,50.45 31.79,45.06 35.9,45.06 Z" fill="#cccccc"/><path d="M35.94,46.08 C38.62,46.08 38.43,49.6 36.9,52.7 C36.32,53.19 35.55,53.19 34.98,52.7 C33.44,49.6 33.25,46.08 35.94,46.08 Z" fill="#adadad"/><path d="M35.97,46.98 C37.39,46.98 37.29,48.85 36.48,50.5 C36.17,50.76 35.76,50.76 35.46,50.5 C34.64,48.85 34.54,46.98 35.97,46.98 Z" fill="#737373"/>
</g></g>
<rect x="21.30" y="0.3" width="32.6" height="21" fill="none" stroke="#2a2a2a" stroke-width="1.3"/>
</g>
<text x="455.2" y="343.3" font-size="12" text-anchor="middle" fill="#111">0.01%</text>
<g transform="translate(514.8,346.2)">
<path d="M0,0.5H65V65" fill="none" stroke="#a8a8a8" stroke-width="1"/>
<path d="M0,0V65H65" fill="none" stroke="#5a5a5a" stroke-width="1"/>
<path d="M-2.4,0.5H0M-2.4,16.1H0M-2.4,32H0M-2.4,48.3H0" stroke="#555" stroke-width="1"/>
<path d="M-1.3,4.9H0M-1.3,8.3H0M-1.3,11.0H0M-1.3,13.4H0M-1.3,18.8H0M-1.3,21.0H0M-1.3,23.0H0M-1.3,24.9H0M-1.3,26.7H0M-1.3,28.5H0M-1.3,30.2H0M-1.3,34.7H0M-1.3,37.0H0M-1.3,39.0H0M-1.3,40.9H0M-1.3,42.7H0M-1.3,44.4H0M-1.3,46.0H0M-1.3,51H0M-1.3,53.5H0M-1.3,56H0M-1.3,58.5H0M-1.3,61H0" stroke="#999" stroke-width="0.7"/>
<path d="M15.7,65V67.3M21.7,65V67.3M31.7,65V67.3M48.5,65V67.3M54.6,65V67.3M63.8,65V67.3" stroke="#666" stroke-width="1"/>
<text x="-12.3" y="10.7" font-size="6" fill="#1a1a1a" stroke="#1a1a1a" stroke-width="0.25">10</text><text x="-6.2" y="6.3999999999999995" font-size="6" fill="#1a1a1a" stroke="#1a1a1a" stroke-width="0.25">3</text>
<text x="-12.3" y="20.5" font-size="6" fill="#1a1a1a" stroke="#1a1a1a" stroke-width="0.25">10</text><text x="-6.2" y="16.2" font-size="6" fill="#1a1a1a" stroke="#1a1a1a" stroke-width="0.25">2</text>
<text x="-12.3" y="37" font-size="6" fill="#1a1a1a" stroke="#1a1a1a" stroke-width="0.25">10</text><text x="-6.2" y="32.7" font-size="6" fill="#1a1a1a" stroke="#1a1a1a" stroke-width="0.25">1</text>
<text x="-12.3" y="53.3" font-size="6" fill="#1a1a1a" stroke="#1a1a1a" stroke-width="0.25">10</text><text x="-6.2" y="49.0" font-size="6" fill="#1a1a1a" stroke="#1a1a1a" stroke-width="0.25">0</text>
<text x="14.9" y="75.8" font-size="6" fill="#1a1a1a" stroke="#1a1a1a" stroke-width="0.25">10</text><text x="20.9" y="71.4" font-size="6" fill="#1a1a1a" stroke="#1a1a1a" stroke-width="0.25">0</text>
<text x="31.2" y="75.8" font-size="6" fill="#1a1a1a" stroke="#1a1a1a" stroke-width="0.25">10</text><text x="37.2" y="71.4" font-size="6" fill="#1a1a1a" stroke="#1a1a1a" stroke-width="0.25">1</text>
<text x="47.5" y="75.8" font-size="6" fill="#1a1a1a" stroke="#1a1a1a" stroke-width="0.25">10</text><text x="53.5" y="71.4" font-size="6" fill="#1a1a1a" stroke="#1a1a1a" stroke-width="0.25">2</text>
<text x="55.9" y="75.8" font-size="6" fill="#1a1a1a" stroke="#1a1a1a" stroke-width="0.25">10</text><text x="61.9" y="71.4" font-size="6" fill="#1a1a1a" stroke="#1a1a1a" stroke-width="0.25">3</text>
</g>
<g transform="translate(514.8,346.2)"><g clip-path="url(#pc)"><g filter="url(#dB)">
<ellipse cx="25" cy="28" rx="26" ry="14" fill-opacity="0.065"/><path d="M0,41 C4,34 14,32 25,32 C36,32 45,34 49,41 Z" fill-opacity="0.15"/><path d="M0,42.5 C6,38.5 18,38 28,38 C38,38 45,38.5 48.5,41.5 L48.5,42.5 Z" fill-opacity="0.18"/><path d="M-2,42 C10,39.5 22,37.5 28,35.5 C32,34.5 36,36.5 42,38.5 C48,40.5 51,42.5 50.5,48 C50,56 48,62 47,66 L-2,66 Z" fill-opacity="0.6"/><ellipse cx="50" cy="50" rx="5" ry="12" transform="rotate(-10 50 50)" fill-opacity="0.2"/><ellipse cx="10" cy="24" rx="10" ry="12" fill-opacity="0.045"/><ellipse cx="37.5" cy="8.8" rx="10" ry="5" transform="rotate(-32 37.5 8.8)" fill-opacity="0.02"/><ellipse cx="39.3" cy="7.2" rx="5.6" ry="2.6" transform="rotate(-32 39.3 7.2)" fill-opacity="0.078"/><path d="M7.6,43.5 C17.68,43.5 16.96,54.5 11.2,64.18 C9.04,65.72 6.16,65.72 4.0,64.18 C-1.76,54.5 -2.48,43.5 7.6,43.5 Z" fill-opacity="0.2"/><path d="M7.66,44.25 C16.73,44.25 16.08,54.15 10.9,62.86 C8.96,64.25 6.36,64.25 4.42,62.86 C-0.76,54.15 -1.41,44.25 7.66,44.25 Z" fill-opacity="0.2"/>
</g><g filter="url(#soft)">
<path d="M7.6,43.5 C17.68,43.5 16.96,54.5 11.2,64.18 C9.04,65.72 6.16,65.72 4.0,64.18 C-1.76,54.5 -2.48,43.5 7.6,43.5 Z" fill="#8f8f8f"/><path d="M7.66,44.25 C16.73,44.25 16.08,54.15 10.9,62.86 C8.96,64.25 6.36,64.25 4.42,62.86 C-0.76,54.15 -1.41,44.25 7.66,44.25 Z" fill="#b2b2b2"/><path d="M7.74,45.23 C15.5,45.23 14.95,53.7 10.51,61.15 C8.85,62.33 6.63,62.33 4.97,61.15 C0.53,53.7 -0.02,45.23 7.74,45.23 Z" fill="#c4c4c4"/><path d="M7.83,46.35 C14.08,46.35 13.63,53.17 10.06,59.17 C8.72,60.13 6.94,60.13 5.6,59.17 C2.02,53.17 1.58,46.35 7.83,46.35 Z" fill="#a3a3a3"/><path d="M7.91,47.33 C12.85,47.33 12.49,52.72 9.67,57.46 C8.61,58.21 7.2,58.21 6.14,57.46 C3.32,52.72 2.97,47.33 7.91,47.33 Z" fill="#cccccc"/><path d="M8.01,48.6 C11.23,48.6 11.0,52.12 9.16,55.22 C8.47,55.71 7.55,55.71 6.86,55.22 C5.01,52.12 4.78,48.6 8.01,48.6 Z" fill="#adadad"/><path d="M8.1,49.73 C9.81,49.73 9.69,51.59 8.71,53.24 C8.34,53.5 7.85,53.5 7.49,53.24 C6.51,51.59 6.38,49.73 8.1,49.73 Z" fill="#737373"/><path d="M35.8,42.0 C44.2,42.0 43.6,53.0 38.8,62.68 C37.0,64.22 34.6,64.22 32.8,62.68 C28.0,53.0 27.4,42.0 35.8,42.0 Z" fill="#8f8f8f"/><path d="M35.82,42.6 C43.38,42.6 42.84,52.5 38.52,61.21 C36.9,62.6 34.74,62.6 33.12,61.21 C28.8,52.5 28.26,42.6 35.82,42.6 Z" fill="#b2b2b2"/><path d="M35.85,43.38 C42.31,43.38 41.85,51.85 38.16,59.3 C36.77,60.49 34.92,60.49 33.54,59.3 C29.84,51.85 29.38,43.38 35.85,43.38 Z" fill="#c4c4c4"/><path d="M35.88,44.28 C41.08,44.28 40.71,51.1 37.74,57.1 C36.62,58.06 35.13,58.06 34.02,57.1 C31.04,51.1 30.67,44.28 35.88,44.28 Z" fill="#a3a3a3"/><path d="M35.9,45.06 C40.02,45.06 39.72,50.45 37.37,55.19 C36.49,55.95 35.31,55.95 34.43,55.19 C32.08,50.45 31.79,45.06 35.9,45.06 Z" fill="#cccccc"/><path d="M35.94,46.08 C38.62,46.08 38.43,49.6 36.9,52.7 C36.32,53.19 35.55,53.19 34.98,52.7 C33.44,49.6 33.25,46.08 35.94,46.08 Z" fill="#adadad"/><path d="M35.97,46.98 C37.39,46.98 37.29,48.85 36.48,50.5 C36.17,50.76 35.76,50.76 35.46,50.5 C34.64,48.85 34.54,46.98 35.97,46.98 Z" fill="#737373"/>
</g></g>
<rect x="21.10" y="0.3" width="32.6" height="21" fill="none" stroke="#2a2a2a" stroke-width="1.3"/>
</g>
<text x="553" y="343.3" font-size="12" text-anchor="middle" fill="#111">0.01%</text>
<g transform="translate(613.3,346.2)">
<path d="M0,0.5H65V65" fill="none" stroke="#a8a8a8" stroke-width="1"/>
<path d="M0,0V65H65" fill="none" stroke="#5a5a5a" stroke-width="1"/>
<path d="M-2.4,0.5H0M-2.4,16.1H0M-2.4,32H0M-2.4,48.3H0" stroke="#555" stroke-width="1"/>
<path d="M-1.3,4.9H0M-1.3,8.3H0M-1.3,11.0H0M-1.3,13.4H0M-1.3,18.8H0M-1.3,21.0H0M-1.3,23.0H0M-1.3,24.9H0M-1.3,26.7H0M-1.3,28.5H0M-1.3,30.2H0M-1.3,34.7H0M-1.3,37.0H0M-1.3,39.0H0M-1.3,40.9H0M-1.3,42.7H0M-1.3,44.4H0M-1.3,46.0H0M-1.3,51H0M-1.3,53.5H0M-1.3,56H0M-1.3,58.5H0M-1.3,61H0" stroke="#999" stroke-width="0.7"/>
<path d="M15.7,65V67.3M21.7,65V67.3M31.7,65V67.3M48.5,65V67.3M54.6,65V67.3M63.8,65V67.3" stroke="#666" stroke-width="1"/>
<text x="-12.3" y="10.7" font-size="6" fill="#1a1a1a" stroke="#1a1a1a" stroke-width="0.25">10</text><text x="-6.2" y="6.3999999999999995" font-size="6" fill="#1a1a1a" stroke="#1a1a1a" stroke-width="0.25">3</text>
<text x="-12.3" y="20.5" font-size="6" fill="#1a1a1a" stroke="#1a1a1a" stroke-width="0.25">10</text><text x="-6.2" y="16.2" font-size="6" fill="#1a1a1a" stroke="#1a1a1a" stroke-width="0.25">2</text>
<text x="-12.3" y="37" font-size="6" fill="#1a1a1a" stroke="#1a1a1a" stroke-width="0.25">10</text><text x="-6.2" y="32.7" font-size="6" fill="#1a1a1a" stroke="#1a1a1a" stroke-width="0.25">1</text>
<text x="-12.3" y="53.3" font-size="6" fill="#1a1a1a" stroke="#1a1a1a" stroke-width="0.25">10</text><text x="-6.2" y="49.0" font-size="6" fill="#1a1a1a" stroke="#1a1a1a" stroke-width="0.25">0</text>
<text x="14.9" y="75.8" font-size="6" fill="#1a1a1a" stroke="#1a1a1a" stroke-width="0.25">10</text><text x="20.9" y="71.4" font-size="6" fill="#1a1a1a" stroke="#1a1a1a" stroke-width="0.25">0</text>
<text x="31.2" y="75.8" font-size="6" fill="#1a1a1a" stroke="#1a1a1a" stroke-width="0.25">10</text><text x="37.2" y="71.4" font-size="6" fill="#1a1a1a" stroke="#1a1a1a" stroke-width="0.25">1</text>
<text x="47.5" y="75.8" font-size="6" fill="#1a1a1a" stroke="#1a1a1a" stroke-width="0.25">10</text><text x="53.5" y="71.4" font-size="6" fill="#1a1a1a" stroke="#1a1a1a" stroke-width="0.25">2</text>
<text x="55.9" y="75.8" font-size="6" fill="#1a1a1a" stroke="#1a1a1a" stroke-width="0.25">10</text><text x="61.9" y="71.4" font-size="6" fill="#1a1a1a" stroke="#1a1a1a" stroke-width="0.25">3</text>
</g>
<g transform="translate(613.3,346.2)"><g clip-path="url(#pc)"><g filter="url(#dC)">
<ellipse cx="25" cy="28" rx="26" ry="14" fill-opacity="0.065"/><path d="M0,41 C4,34 14,32 25,32 C36,32 45,34 49,41 Z" fill-opacity="0.15"/><path d="M0,42.5 C6,38.5 18,38 28,38 C38,38 45,38.5 48.5,41.5 L48.5,42.5 Z" fill-opacity="0.18"/><path d="M-2,42 C10,39.5 22,37.5 28,35.5 C32,34.5 36,36.5 42,38.5 C48,40.5 51,42.5 50.5,48 C50,56 48,62 47,66 L-2,66 Z" fill-opacity="0.6"/><ellipse cx="50" cy="50" rx="5" ry="12" transform="rotate(-10 50 50)" fill-opacity="0.2"/><ellipse cx="10" cy="24" rx="10" ry="12" fill-opacity="0.045"/><ellipse cx="37.5" cy="8.8" rx="10" ry="5" transform="rotate(-32 37.5 8.8)" fill-opacity="0.112"/><ellipse cx="39.3" cy="7.2" rx="5.6" ry="2.6" transform="rotate(-32 39.3 7.2)" fill-opacity="0.442"/><path d="M7.6,43.5 C17.68,43.5 16.96,54.5 11.2,64.18 C9.04,65.72 6.16,65.72 4.0,64.18 C-1.76,54.5 -2.48,43.5 7.6,43.5 Z" fill-opacity="0.2"/><path d="M7.66,44.25 C16.73,44.25 16.08,54.15 10.9,62.86 C8.96,64.25 6.36,64.25 4.42,62.86 C-0.76,54.15 -1.41,44.25 7.66,44.25 Z" fill-opacity="0.2"/>
</g><g filter="url(#soft)">
<path d="M7.6,43.5 C17.68,43.5 16.96,54.5 11.2,64.18 C9.04,65.72 6.16,65.72 4.0,64.18 C-1.76,54.5 -2.48,43.5 7.6,43.5 Z" fill="#8f8f8f"/><path d="M7.66,44.25 C16.73,44.25 16.08,54.15 10.9,62.86 C8.96,64.25 6.36,64.25 4.42,62.86 C-0.76,54.15 -1.41,44.25 7.66,44.25 Z" fill="#b2b2b2"/><path d="M7.74,45.23 C15.5,45.23 14.95,53.7 10.51,61.15 C8.85,62.33 6.63,62.33 4.97,61.15 C0.53,53.7 -0.02,45.23 7.74,45.23 Z" fill="#c4c4c4"/><path d="M7.83,46.35 C14.08,46.35 13.63,53.17 10.06,59.17 C8.72,60.13 6.94,60.13 5.6,59.17 C2.02,53.17 1.58,46.35 7.83,46.35 Z" fill="#a3a3a3"/><path d="M7.91,47.33 C12.85,47.33 12.49,52.72 9.67,57.46 C8.61,58.21 7.2,58.21 6.14,57.46 C3.32,52.72 2.97,47.33 7.91,47.33 Z" fill="#cccccc"/><path d="M8.01,48.6 C11.23,48.6 11.0,52.12 9.16,55.22 C8.47,55.71 7.55,55.71 6.86,55.22 C5.01,52.12 4.78,48.6 8.01,48.6 Z" fill="#adadad"/><path d="M8.1,49.73 C9.81,49.73 9.69,51.59 8.71,53.24 C8.34,53.5 7.85,53.5 7.49,53.24 C6.51,51.59 6.38,49.73 8.1,49.73 Z" fill="#737373"/><path d="M35.8,42.5 C43.08,42.5 42.56,53.5 38.4,63.18 C36.84,64.72 34.76,64.72 33.2,63.18 C29.04,53.5 28.52,42.5 35.8,42.5 Z" fill="#3d3d3d"/><path d="M35.8,44.26 C41.62,44.26 41.21,53.06 37.88,60.8 C36.63,62.04 34.97,62.04 33.72,60.8 C30.39,53.06 29.98,44.26 35.8,44.26 Z" fill="#5c5c5c"/><path d="M35.8,46.37 C39.88,46.37 39.59,52.53 37.26,57.95 C36.38,58.82 35.22,58.82 34.34,57.95 C32.01,52.53 31.72,46.37 35.8,46.37 Z" fill="#737373"/><path d="M35.8,48.22 C38.35,48.22 38.17,52.07 36.71,55.46 C36.16,56.0 35.44,56.0 34.89,55.46 C33.43,52.07 33.25,48.22 35.8,48.22 Z" fill="#666666"/>
</g></g>
<rect x="20.30" y="0.3" width="32.6" height="21" fill="none" stroke="#2a2a2a" stroke-width="1.3"/>
</g>
<text x="650.8" y="343.3" font-size="12" text-anchor="middle" fill="#111">0.09%</text>
<text x="4.6" y="474.9" font-size="15.9" font-weight="bold" fill="#111">b</text>
<text transform="translate(25,518.6) scale(1,1.06)" font-size="16" fill="#111">Tumor</text>
<text transform="translate(92.6,504.75) rotate(-90)" font-size="12" text-anchor="middle" fill="#111">Cells/g</text>
<path d="M136.4,478.5V545.0M132.1,541.4H376.4" fill="none" stroke="#8a8a8a" stroke-width="1.1"/>
<path d="M132.1,478.5H136.4M132.1,509.9H136.4M176.4,541.4V545.0M216.4,541.4V545.0M256.4,541.4V545.0M296.4,541.4V545.0M336.4,541.4V545.0M376.4,541.4V545.0" stroke="#8a8a8a" stroke-width="1.1"/>
<text x="126.4" y="482.8" font-size="12" text-anchor="end" fill="#111">10.0</text>
<text x="126.4" y="514.1" font-size="12" text-anchor="end" fill="#111">5.0</text>
<text x="126.4" y="545.5" font-size="12" text-anchor="end" fill="#111">0</text>
<text x="123" y="470.6" font-size="11.5" fill="#111">x 10<tspan font-size="7.5" dy="-3.6">4</tspan></text>
<rect x="148.70000000000002" y="540.2" width="15.4" height="1.1999999999999318" fill="#000"/>
<path d="M156.4,540.2V539.6M153.4,539.6H159.4" stroke="#555" stroke-width="1.2" fill="none"/>
<rect x="188.70000000000002" y="540.4" width="15.4" height="1.0" fill="#000"/>
<path d="M196.4,540.4V540M193.4,540H199.4" stroke="#555" stroke-width="1.2" fill="none"/>
<rect x="228.70000000000002" y="540.2" width="15.4" height="1.1999999999999318" fill="#000"/>
<path d="M236.4,540.2V539.6M233.4,539.6H239.4" stroke="#555" stroke-width="1.2" fill="none"/>
<rect x="268.7" y="540.2" width="15.4" height="1.1999999999999318" fill="#000"/>
<path d="M276.4,540.2V539.3M273.4,539.3H279.4" stroke="#555" stroke-width="1.2" fill="none"/>
<rect x="308.7" y="520" width="15.4" height="21.399999999999977" fill="#000"/>
<path d="M316.4,520V487.4M313.4,487.4H319.4" stroke="#555" stroke-width="1.2" fill="none"/>
<rect x="348.7" y="532" width="15.4" height="9.399999999999977" fill="#000"/>
<path d="M356.4,532V526M353.4,526H359.4" stroke="#555" stroke-width="1.2" fill="none"/>
<text transform="translate(23.2,603.8) scale(1,1.06)" font-size="16" fill="#111">dLN</text>
<text transform="translate(92.6,596.4) rotate(-90)" font-size="12" text-anchor="middle" fill="#111">Cells/mouse</text>
<path d="M137.7,567.8V631.9M133.39999999999998,628.3H377.7" fill="none" stroke="#8a8a8a" stroke-width="1.1"/>
<path d="M133.39999999999998,567.8H137.7M133.39999999999998,597.9H137.7M177.7,628.3V631.9M217.7,628.3V631.9M257.7,628.3V631.9M297.7,628.3V631.9M337.7,628.3V631.9M377.7,628.3V631.9" stroke="#8a8a8a" stroke-width="1.1"/>
<text x="126.4" y="574.9" font-size="12" text-anchor="end" fill="#111">10.0</text>
<text x="126.4" y="601.9" font-size="12" text-anchor="end" fill="#111">5.0</text>
<text x="126.4" y="629.3" font-size="12" text-anchor="end" fill="#111">0</text>
<text x="123" y="564.5" font-size="11.5" fill="#111">x 10<tspan font-size="7.5" dy="-3.6">4</tspan></text>
<rect x="150.0" y="621" width="15.4" height="7.2999999999999545" fill="#000"/>
<rect x="190.0" y="623.6" width="15.4" height="4.699999999999932" fill="#000"/>
<rect x="230.0" y="626.2" width="15.4" height="2.099999999999909" fill="#000"/>
<rect x="270.0" y="622.6" width="15.4" height="5.699999999999932" fill="#000"/>
<rect x="310.0" y="626.2" width="15.4" height="2.099999999999909" fill="#000"/>
<rect x="350.0" y="585.4" width="15.4" height="42.89999999999998" fill="#000"/>
<text transform="translate(22.8,689.3) scale(1,1.06)" font-size="16" fill="#111">ndLN</text>
<text transform="translate(92.6,684.2) rotate(-90)" font-size="12" text-anchor="middle" fill="#111">Cells/mouse</text>
<path d="M136.4,658.4V716.1M132.1,712.5H376.4" fill="none" stroke="#8a8a8a" stroke-width="1.1"/>
<path d="M132.1,658.4H136.4M132.1,676.5H136.4M132.1,694.4H136.4M176.4,712.5V716.1M216.4,712.5V716.1M256.4,712.5V716.1M296.4,712.5V716.1M336.4,712.5V716.1M376.4,712.5V716.1" stroke="#8a8a8a" stroke-width="1.1"/>
<text x="126.4" y="662.6" font-size="12" text-anchor="end" fill="#111">6.0</text>
<text x="126.4" y="680.5" font-size="12" text-anchor="end" fill="#111">4.0</text>
<text x="126.4" y="698.6" font-size="12" text-anchor="end" fill="#111">2.0</text>
<text x="126.4" y="716.4" font-size="12" text-anchor="end" fill="#111">0</text>
<text x="123" y="652.3" font-size="11.5" fill="#111">x 10<tspan font-size="7.5" dy="-3.6">3</tspan></text>
<rect x="148.70000000000002" y="709" width="15.4" height="3.5" fill="#000"/>
<rect x="188.70000000000002" y="710" width="15.4" height="2.5" fill="#000"/>
<rect x="228.70000000000002" y="710" width="15.4" height="2.5" fill="#000"/>
<rect x="268.7" y="709" width="15.4" height="3.5" fill="#000"/>
<rect x="308.7" y="704.6" width="15.4" height="7.899999999999977" fill="#000"/>
<rect x="348.7" y="673.6" width="15.4" height="38.89999999999998" fill="#000"/>
<text transform="translate(24.3,768.3) scale(1,1.06)" font-size="16" fill="#111">Spleen</text>
<text transform="translate(92.6,767.2) rotate(-90)" font-size="12" text-anchor="middle" fill="#111">Cells/mouse</text>
<path d="M137.8,736.3V800.6M133.5,797H377.8" fill="none" stroke="#8a8a8a" stroke-width="1.1"/>
<path d="M133.5,736.3H137.8M133.5,756.3H137.8M133.5,776.5H137.8M177.8,797V800.6M217.8,797V800.6M257.8,797V800.6M297.8,797V800.6M337.8,797V800.6M377.8,797V800.6" stroke="#8a8a8a" stroke-width="1.1"/>
<text x="126.4" y="743.2" font-size="12" text-anchor="end" fill="#111">6.0</text>
<text x="126.4" y="761.9" font-size="12" text-anchor="end" fill="#111">4.0</text>
<text x="126.4" y="779.9" font-size="12" text-anchor="end" fill="#111">2.0</text>
<text x="126.4" y="797.9" font-size="12" text-anchor="end" fill="#111">0</text>
<text x="123" y="733.6" font-size="11.5" fill="#111">x 10<tspan font-size="7.5" dy="-3.6">4</tspan></text>
<rect x="150.10000000000002" y="794" width="15.4" height="3" fill="#000"/>
<rect x="190.10000000000002" y="792" width="15.4" height="5" fill="#000"/>
<rect x="230.10000000000002" y="790.6" width="15.4" height="6.399999999999977" fill="#000"/>
<rect x="270.1" y="789" width="15.4" height="8" fill="#000"/>
<rect x="310.1" y="790.4" width="15.4" height="6.600000000000023" fill="#000"/>
<rect x="350.1" y="748.4" width="15.4" height="48.60000000000002" fill="#000"/>
<text transform="translate(165.5,809.5) scale(1,1.08) rotate(-45)" font-size="11.8" text-anchor="end" fill="#111">(-)</text>
<text transform="translate(204,808) scale(1,1.08) rotate(-45)" font-size="11.8" text-anchor="end" fill="#111">anti-PD-1</text>
<text transform="translate(243.5,806) scale(1,1.08) rotate(-45)" font-size="11.8" text-anchor="end" fill="#111">anti-CTLA-4</text>
<text transform="translate(281,807.5) scale(1,1.08) rotate(-45)" font-size="11.8" text-anchor="end" fill="#111">anti-4-1BB</text>
<text transform="translate(310.5,806.5) scale(1,1.08) rotate(-45)" font-size="11.8" text-anchor="end" fill="#111">anti-PD-1</text>
<text transform="translate(322,814.5) scale(1,1.08) rotate(-45)" font-size="11.8" text-anchor="end" fill="#111">/4-1BB</text>
<text transform="translate(363.5,806) scale(1,1.08) rotate(-45)" font-size="11.8" text-anchor="end" fill="#111">anti-CD4</text>
</svg></body></html>
